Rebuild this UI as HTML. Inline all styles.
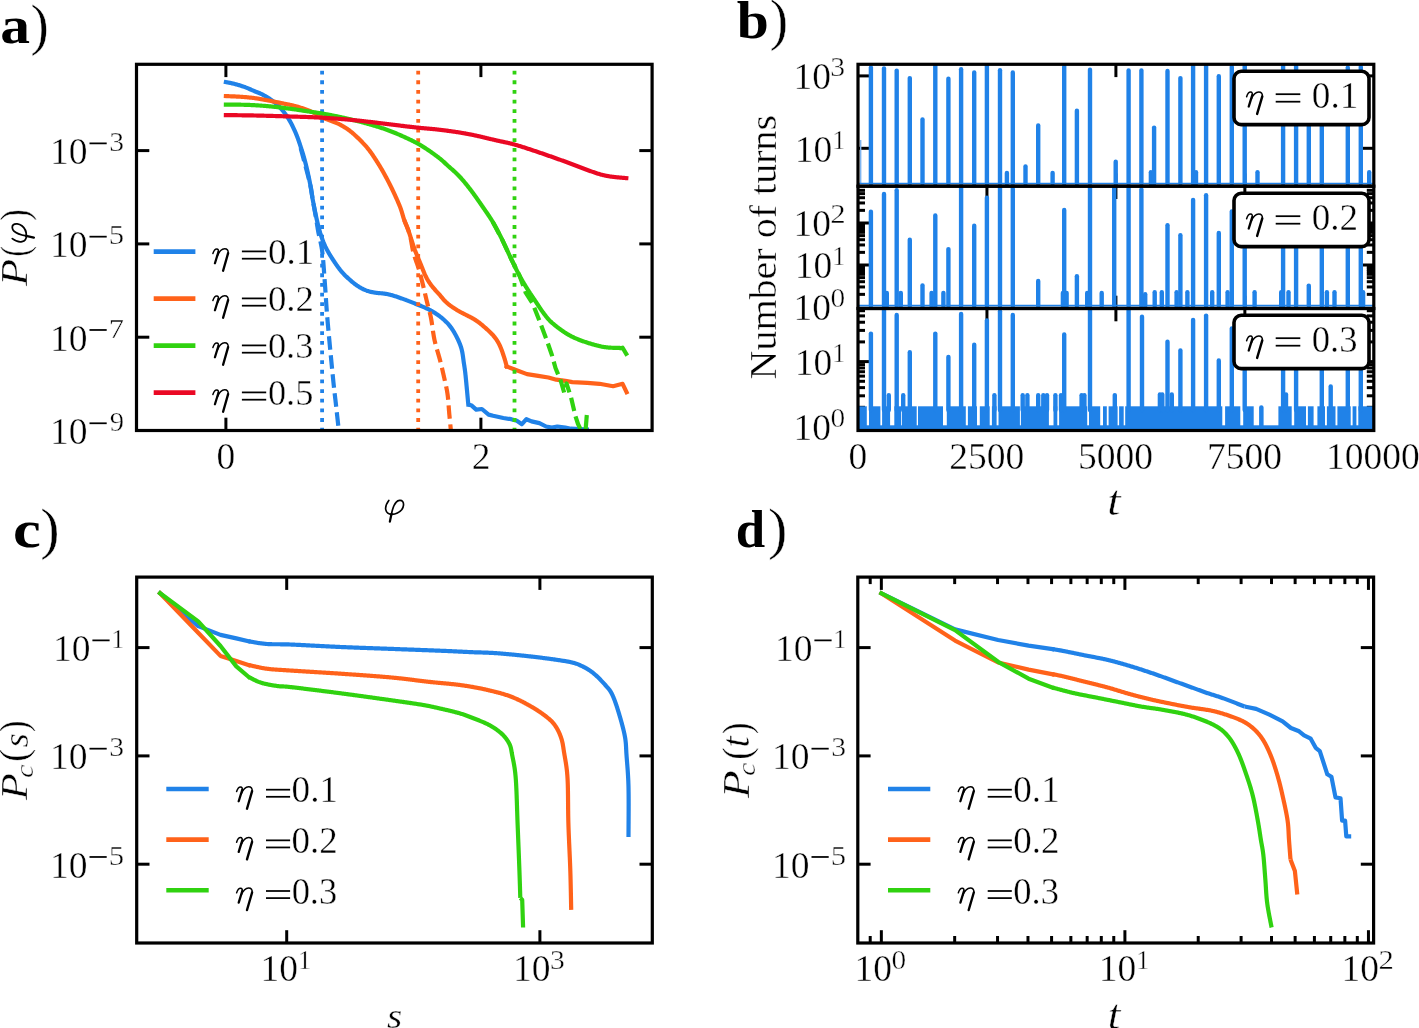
<!DOCTYPE html>
<html><head><meta charset="utf-8"><style>
html,body{margin:0;padding:0;background:#fff;width:1419px;height:1028px;overflow:hidden;}
svg{display:block;font-family:"Liberation Serif",serif;will-change:transform;}
text:not([font-weight]){stroke:#fff;stroke-width:0.4px;}
</style></head><body>
<svg width="1419" height="1028" viewBox="0 0 1419 1028">
<rect width="1419" height="1028" fill="#fff"/>
<path d="M225.90,82.10 L226.59,82.23 L227.28,82.36 L227.97,82.49 L228.66,82.63 L229.35,82.76 L230.04,82.90 L230.72,83.04 L231.41,83.18 L232.10,83.34 L232.78,83.49 L233.46,83.66 L234.14,83.82 L234.82,84.00 L235.50,84.18 L236.18,84.36 L236.86,84.55 L237.53,84.74 L238.21,84.93 L238.88,85.12 L239.55,85.32 L240.23,85.53 L240.90,85.73 L241.57,85.95 L242.23,86.16 L242.90,86.39 L243.56,86.61 L244.22,86.85 L244.88,87.09 L245.54,87.34 L246.19,87.59 L246.84,87.85 L247.49,88.12 L248.14,88.40 L248.78,88.67 L249.43,88.95 L250.07,89.24 L250.71,89.52 L251.35,89.81 L251.99,90.09 L252.64,90.38 L253.28,90.66 L253.92,90.94 L254.57,91.21 L255.22,91.48 L255.87,91.73 L256.53,91.98 L257.19,92.22 L257.84,92.46 L258.50,92.71 L259.15,92.97 L259.79,93.25 L260.43,93.54 L261.06,93.85 L261.69,94.16 L262.31,94.48 L262.94,94.81 L263.55,95.14 L264.17,95.48 L264.78,95.82 L265.39,96.17 L266.00,96.52 L266.60,96.88 L267.20,97.25 L267.80,97.62 L268.39,97.99 L268.98,98.37 L269.56,98.76 L270.15,99.15 L270.73,99.54 L271.30,99.94 L271.88,100.35 L272.45,100.76 L273.01,101.18 L273.57,101.60 L274.13,102.03 L274.67,102.47 L275.22,102.91 L275.75,103.37 L276.28,103.83 L276.80,104.30 L277.31,104.78 L277.82,105.26 L278.32,105.76 L278.81,106.26 L279.30,106.76 L279.78,107.27 L280.26,107.79 L280.73,108.31 L281.19,108.83 L281.66,109.36 L282.11,109.89 L282.56,110.43 L283.01,110.98 L283.44,111.52 L283.87,112.08 L284.30,112.64 L284.71,113.20 L285.13,113.77 L285.54,114.34 L285.94,114.91 L286.34,115.49 L286.74,116.07 L287.13,116.65 L287.52,117.23 L287.91,117.82 L288.29,118.41 L288.66,119.00 L289.03,119.60 L289.39,120.20 L289.75,120.81 L290.10,121.41 L290.45,122.02 L290.79,122.64 L291.12,123.26 L291.44,123.88 L291.76,124.50 L292.08,125.13 L292.38,125.76 L292.69,126.39 L292.99,127.03 L293.29,127.66 L293.59,128.30 L293.88,128.94 L294.18,129.57 L294.47,130.21 L294.76,130.85 L295.05,131.49 L295.33,132.13 L295.61,132.78 L295.89,133.42 L296.16,134.07 L296.43,134.72 L296.69,135.37 L296.95,136.02 L297.20,136.67 L297.45,137.33 L297.69,137.99 L297.93,138.65 L298.17,139.31 L298.40,139.97 L298.63,140.64 L298.86,141.30 L299.09,141.96 L299.31,142.63 L299.54,143.29 L299.76,143.96 L299.98,144.63 L300.20,145.29 L300.41,145.96 L300.63,146.63 L300.85,147.30 L301.06,147.97 L301.28,148.63 L301.49,149.30 L301.70,149.97 L301.92,150.64 L302.13,151.31 L302.34,151.98 L302.55,152.65 L302.76,153.32 L302.97,153.99 L303.17,154.66 L303.37,155.33 L303.57,156.01 L303.76,156.68 L303.95,157.36 L304.14,158.03 L304.33,158.71 L304.52,159.39 L304.70,160.06 L304.88,160.74 L305.06,161.42 L305.24,162.10 L305.41,162.78 L305.58,163.46 L305.76,164.14 L305.93,164.82 L306.10,165.50 L306.26,166.19 L306.43,166.87 L306.59,167.55 L306.76,168.23 L306.92,168.92 L307.08,169.60 L307.24,170.28 L307.39,170.97 L307.55,171.65 L307.71,172.34 L307.86,173.02 L308.01,173.71 L308.16,174.39 L308.31,175.08 L308.46,175.76 L308.61,176.45 L308.76,177.14 L308.90,177.82 L309.05,178.51 L309.19,179.20 L309.33,179.88 L309.47,180.57 L309.61,181.26 L309.75,181.95 L309.88,182.64 L310.02,183.33 L310.15,184.02 L310.28,184.71 L310.40,185.40 L310.53,186.09 L310.65,186.78 L310.76,187.47 L310.88,188.16 L310.99,188.86 L311.10,189.55 L311.21,190.24 L311.31,190.94 L311.42,191.63 L311.53,192.32 L311.63,193.02 L311.74,193.71 L311.85,194.41 L311.96,195.10 L312.07,195.79 L312.19,196.48 L312.30,197.18 L312.42,197.87 L312.54,198.56 L312.67,199.25 L312.79,199.94 L312.92,200.63 L313.05,201.32 L313.18,202.01 L313.31,202.70 L313.44,203.39 L313.58,204.08 L313.71,204.77 L313.84,205.46 L313.98,206.15 L314.11,206.84 L314.25,207.53 L314.38,208.21 L314.52,208.90 L314.66,209.59 L314.80,210.28 L314.94,210.97 L315.08,211.65 L315.22,212.34 L315.36,213.03 L315.50,213.72 L315.65,214.40 L315.79,215.09 L315.94,215.78 L316.09,216.46 L316.24,217.15 L316.39,217.83 L316.54,218.52 L316.69,219.20 L316.85,219.89 L317.00,220.57 L317.16,221.26 L317.32,221.94 L317.48,222.62 L317.64,223.31 L317.81,223.99 L317.97,224.67 L318.14,225.35 L318.31,226.03 L318.48,226.72 L318.66,227.40 L318.84,228.07 L319.02,228.75 L319.20,229.43 L319.39,230.11 L319.58,230.78 L319.78,231.46 L319.98,232.13 L320.18,232.80 L320.38,233.47 L320.60,234.14 L320.81,234.81 L321.03,235.48 L321.25,236.14 L321.47,236.81 L321.70,237.47 L321.93,238.13 L322.17,238.80 L322.41,239.46 L322.65,240.11 L322.90,240.77 L323.16,241.42 L323.41,242.08 L323.68,242.73 L323.95,243.37 L324.22,244.02 L324.50,244.66 L324.79,245.31 L325.08,245.94 L325.37,246.58 L325.68,247.21 L325.99,247.84 L326.30,248.47 L326.62,249.10 L326.95,249.72 L327.28,250.34 L327.62,250.95 L327.96,251.56 L328.31,252.17 L328.66,252.78 L329.01,253.39 L329.37,253.99 L329.74,254.59 L330.10,255.19 L330.47,255.79 L330.84,256.38 L331.22,256.98 L331.59,257.57 L331.97,258.16 L332.35,258.75 L332.73,259.34 L333.11,259.93 L333.50,260.52 L333.88,261.10 L334.27,261.69 L334.66,262.27 L335.05,262.85 L335.45,263.44 L335.84,264.01 L336.24,264.59 L336.64,265.17 L337.05,265.74 L337.45,266.31 L337.86,266.88 L338.28,267.45 L338.70,268.01 L339.12,268.57 L339.55,269.13 L339.98,269.68 L340.42,270.23 L340.86,270.78 L341.31,271.32 L341.76,271.85 L342.23,272.38 L342.69,272.90 L343.17,273.42 L343.65,273.93 L344.14,274.43 L344.63,274.93 L345.12,275.43 L345.63,275.92 L346.13,276.41 L346.64,276.89 L347.15,277.37 L347.67,277.85 L348.19,278.32 L348.71,278.79 L349.23,279.26 L349.75,279.73 L350.28,280.19 L350.81,280.65 L351.34,281.11 L351.87,281.57 L352.41,282.02 L352.95,282.46 L353.50,282.91 L354.05,283.34 L354.60,283.78 L355.16,284.20 L355.72,284.62 L356.29,285.03 L356.86,285.44 L357.44,285.83 L358.03,286.22 L358.62,286.60 L359.21,286.97 L359.81,287.34 L360.42,287.69 L361.03,288.03 L361.65,288.37 L362.27,288.69 L362.90,289.01 L363.53,289.31 L364.17,289.60 L364.81,289.88 L365.46,290.16 L366.11,290.41 L366.76,290.66 L367.43,290.89 L368.09,291.11 L368.76,291.32 L369.44,291.51 L370.12,291.69 L370.80,291.85 L371.48,292.01 L372.17,292.16 L372.85,292.30 L373.54,292.43 L374.23,292.55 L374.93,292.66 L375.62,292.76 L376.32,292.85 L377.01,292.93 L377.71,293.00 L378.41,293.06 L379.11,293.11 L379.81,293.17 L380.51,293.22 L381.21,293.28 L381.91,293.35 L382.61,293.42 L383.30,293.51 L384.00,293.60 L384.69,293.70 L385.39,293.81 L386.08,293.92 L386.77,294.04 L387.46,294.17 L388.15,294.30 L388.84,294.45 L389.52,294.61 L390.20,294.77 L390.88,294.94 L391.56,295.12 L392.24,295.31 L392.91,295.51 L393.58,295.71 L394.25,295.92 L394.92,296.13 L395.59,296.35 L396.26,296.57 L396.92,296.79 L397.59,297.01 L398.25,297.24 L398.91,297.47 L399.58,297.70 L400.24,297.93 L400.90,298.17 L401.56,298.40 L402.22,298.64 L402.88,298.88 L403.54,299.12 L404.20,299.36 L404.86,299.60 L405.52,299.84 L406.18,300.09 L406.83,300.34 L407.49,300.58 L408.15,300.84 L408.80,301.09 L409.46,301.34 L410.11,301.60 L410.76,301.85 L411.42,302.11 L412.07,302.37 L412.72,302.63 L413.37,302.89 L414.02,303.16 L414.67,303.42 L415.32,303.69 L415.97,303.95 L416.62,304.22 L417.27,304.49 L417.92,304.75 L418.57,305.02 L419.22,305.28 L419.87,305.55 L420.52,305.81 L421.17,306.07 L421.82,306.34 L422.47,306.60 L423.12,306.87 L423.77,307.14 L424.42,307.41 L425.06,307.69 L425.70,307.98 L426.34,308.26 L426.98,308.56 L427.61,308.86 L428.24,309.17 L428.87,309.48 L429.49,309.81 L430.11,310.14 L430.73,310.47 L431.34,310.82 L431.95,311.16 L432.56,311.52 L433.16,311.88 L433.76,312.24 L434.36,312.61 L434.95,312.98 L435.54,313.36 L436.13,313.75 L436.71,314.14 L437.29,314.54 L437.87,314.94 L438.44,315.34 L439.00,315.76 L439.57,316.18 L440.13,316.60 L440.68,317.03 L441.23,317.47 L441.77,317.91 L442.31,318.36 L442.85,318.81 L443.38,319.27 L443.91,319.74 L444.43,320.21 L444.94,320.69 L445.45,321.17 L445.95,321.66 L446.45,322.15 L446.94,322.66 L447.42,323.17 L447.89,323.68 L448.36,324.21 L448.82,324.73 L449.28,325.27 L449.72,325.81 L450.16,326.36 L450.59,326.92 L451.00,327.48 L451.41,328.05 L451.82,328.63 L452.21,329.21 L452.59,329.79 L452.97,330.38 L453.34,330.98 L453.71,331.58 L454.07,332.18 L454.42,332.79 L454.76,333.40 L455.11,334.01 L455.44,334.63 L455.77,335.25 L456.10,335.87 L456.43,336.49 L456.74,337.12 L457.06,337.74 L457.37,338.37 L457.68,339.00 L457.98,339.64 L458.28,340.27 L458.58,340.91 L458.86,341.55 L459.15,342.19 L459.42,342.84 L459.68,343.49 L459.94,344.14 L460.19,344.80 L460.43,345.45 L460.66,346.12 L460.88,346.78 L461.10,347.45 L461.30,348.12 L461.49,348.80 L461.67,349.48 L461.84,350.16 L461.99,350.84 L462.14,351.53 L462.28,352.22 L462.40,352.91 L462.53,353.60 L462.64,354.29 L462.75,354.98 L462.85,355.68 L462.95,356.37 L463.05,357.07 L463.14,357.76 L463.23,358.46 L463.33,359.16 L463.42,359.85 L463.52,360.55 L463.61,361.24 L463.71,361.94 L463.81,362.63 L463.92,363.33 L464.02,364.02 L464.13,364.71 L464.24,365.41 L464.35,366.10 L464.45,366.79 L464.56,367.49 L464.66,368.18 L464.76,368.88 L464.85,369.57 L464.94,370.27 L465.03,370.97 L465.12,371.66 L465.20,372.36 L465.28,373.06 L465.36,373.75 L465.44,374.45 L465.51,375.15 L465.59,375.85 L465.66,376.55 L465.73,377.24 L465.80,377.94 L465.87,378.64 L465.94,379.34 L466.01,380.04 L466.08,380.74 L466.15,381.44 L466.21,382.13 L466.28,382.83 L466.35,383.53 L466.41,384.23 L466.48,384.93 L466.55,385.63 L466.61,386.33 L466.68,387.03 L466.74,387.72 L466.81,388.42 L466.88,389.12 L466.94,389.82 L467.01,390.52 L467.07,391.22 L467.14,391.92 L467.20,392.62 L467.26,393.32 L467.33,394.02 L467.39,394.71 L467.46,395.41 L467.52,396.11 L467.59,396.81 L467.65,397.51 L467.72,398.21 L467.78,398.91 L467.85,399.61 L467.91,400.31 L467.97,401.01 L468.04,401.70 L468.10,402.40 L468.17,403.10 L468.23,403.80 L468.30,404.50" fill="none" stroke="#2082e8" stroke-width="4.20" stroke-linejoin="round" stroke-linecap="square"/>
<polyline points="468.3,404.5 471.7,405.6 476.2,409.6 481.9,409.0 488.6,414.6 493.1,415.8 503.3,418.0 511.2,419.2 516.8,420.8 521.9,424.2 526.4,419.2 531.5,421.4 539.4,423.1 546.1,426.5 551.8,427.6 557.4,426.5 565.3,427.6 570.9,428.7 589.0,429.5" fill="none" stroke="#2082e8" stroke-width="4.20" stroke-linejoin="round" stroke-linecap="butt"/>
<path d="M300.60,147.90 L300.78,148.58 L300.97,149.26 L301.15,149.93 L301.34,150.61 L301.52,151.29 L301.70,151.96 L301.89,152.64 L302.07,153.32 L302.26,154.00 L302.44,154.67 L302.63,155.35 L302.81,156.03 L302.99,156.71 L303.18,157.38 L303.36,158.06 L303.54,158.74 L303.72,159.42 L303.91,160.10 L304.09,160.77 L304.27,161.45 L304.45,162.13 L304.63,162.81 L304.81,163.49 L304.99,164.17 L305.17,164.84 L305.35,165.52 L305.53,166.20 L305.70,166.88 L305.88,167.56 L306.06,168.24 L306.24,168.92 L306.42,169.60 L306.60,170.28 L306.78,170.96 L306.95,171.63 L307.13,172.31 L307.31,172.99 L307.49,173.67 L307.67,174.35 L307.84,175.03 L308.02,175.71 L308.19,176.39 L308.37,177.07 L308.54,177.75 L308.72,178.43 L308.89,179.11 L309.06,179.79 L309.23,180.47 L309.39,181.16 L309.56,181.84 L309.72,182.52 L309.88,183.20 L310.04,183.89 L310.20,184.57 L310.35,185.26 L310.50,185.94 L310.64,186.63 L310.78,187.32 L310.92,188.01 L311.05,188.70 L311.17,189.39 L311.29,190.08 L311.40,190.77 L311.52,191.46 L311.62,192.16 L311.73,192.85 L311.83,193.55 L311.93,194.24 L312.03,194.94 L312.13,195.63 L312.23,196.33 L312.33,197.02 L312.44,197.72 L312.55,198.41 L312.66,199.10 L312.77,199.79 L312.89,200.49 L313.01,201.18 L313.13,201.87 L313.25,202.56 L313.37,203.25 L313.49,203.94 L313.62,204.64 L313.74,205.33 L313.86,206.02 L313.99,206.71 L314.11,207.40 L314.24,208.09 L314.36,208.78 L314.48,209.47 L314.61,210.16 L314.73,210.85 L314.86,211.55 L314.98,212.24 L315.10,212.93 L315.23,213.62 L315.35,214.31 L315.47,215.00 L315.60,215.69 L315.72,216.38 L315.84,217.08 L315.96,217.77 L316.07,218.46 L316.19,219.15 L316.31,219.84 L316.42,220.54 L316.53,221.23 L316.64,221.92 L316.75,222.62 L316.86,223.31 L316.97,224.00 L317.07,224.70 L317.18,225.39 L317.29,226.08 L317.40,226.78 L317.52,227.47 L317.63,228.16 L317.75,228.86 L317.87,229.55 L317.99,230.24 L318.11,230.93 L318.24,231.62 L318.37,232.31 L318.51,233.00 L318.65,233.69 L318.79,234.37 L318.94,235.06 L319.10,235.74 L319.25,236.43 L319.41,237.11 L319.57,237.80 L319.73,238.48 L319.89,239.16 L320.05,239.85 L320.20,240.53 L320.36,241.22 L320.51,241.90 L320.66,242.59 L320.81,243.27 L320.95,243.96 L321.09,244.65 L321.22,245.34 L321.35,246.03 L321.48,246.72 L321.60,247.41 L321.72,248.10 L321.83,248.79 L321.94,249.49 L322.04,250.18 L322.14,250.88 L322.23,251.57 L322.32,252.27 L322.41,252.97 L322.49,253.66 L322.57,254.36 L322.65,255.06 L322.72,255.76 L322.79,256.45 L322.86,257.15 L322.93,257.85 L323.00,258.55 L323.06,259.25 L323.13,259.95 L323.19,260.65 L323.25,261.35 L323.31,262.05 L323.37,262.75 L323.42,263.45 L323.48,264.15 L323.53,264.85 L323.59,265.55 L323.64,266.25 L323.70,266.95 L323.75,267.65 L323.80,268.35 L323.85,269.05 L323.90,269.75 L323.95,270.45 L324.00,271.15 L324.05,271.85 L324.10,272.55 L324.15,273.25 L324.20,273.95 L324.25,274.65 L324.30,275.35 L324.35,276.05 L324.40,276.75 L324.45,277.45 L324.50,278.15 L324.55,278.85 L324.60,279.55 L324.65,280.25 L324.70,280.95 L324.75,281.65 L324.80,282.35 L324.85,283.05 L324.91,283.75 L324.96,284.45 L325.01,285.15 L325.06,285.85 L325.11,286.55 L325.17,287.25 L325.22,287.95 L325.27,288.65 L325.32,289.35 L325.36,290.05 L325.41,290.75 L325.46,291.45 L325.51,292.15 L325.55,292.85 L325.60,293.55 L325.64,294.25 L325.69,294.95 L325.74,295.66 L325.78,296.36 L325.83,297.06 L325.87,297.76 L325.92,298.46 L325.96,299.16 L326.01,299.86 L326.05,300.56 L326.10,301.26 L326.14,301.96 L326.19,302.66 L326.24,303.36 L326.28,304.06 L326.33,304.76 L326.38,305.46 L326.43,306.16 L326.48,306.86 L326.52,307.56 L326.58,308.26 L326.63,308.96 L326.68,309.66 L326.73,310.36 L326.78,311.06 L326.83,311.76 L326.89,312.46 L326.94,313.16 L327.00,313.86 L327.05,314.56 L327.11,315.26 L327.16,315.96 L327.22,316.66 L327.28,317.36 L327.34,318.06 L327.40,318.76 L327.46,319.46 L327.52,320.16 L327.58,320.86 L327.64,321.56 L327.70,322.26 L327.76,322.96 L327.82,323.66 L327.88,324.36 L327.95,325.06 L328.01,325.76 L328.07,326.45 L328.13,327.15 L328.20,327.85 L328.26,328.55 L328.32,329.25 L328.39,329.95 L328.45,330.65 L328.52,331.35 L328.58,332.05 L328.64,332.75 L328.71,333.45 L328.77,334.14 L328.84,334.84 L328.90,335.54 L328.97,336.24 L329.03,336.94 L329.10,337.64 L329.16,338.34 L329.23,339.04 L329.29,339.74 L329.36,340.44 L329.43,341.13 L329.49,341.83 L329.56,342.53 L329.62,343.23 L329.69,343.93 L329.76,344.63 L329.82,345.33 L329.89,346.03 L329.95,346.73 L330.02,347.42 L330.09,348.12 L330.15,348.82 L330.22,349.52 L330.29,350.22 L330.35,350.92 L330.42,351.62 L330.49,352.32 L330.56,353.02 L330.62,353.71 L330.69,354.41 L330.76,355.11 L330.83,355.81 L330.89,356.51 L330.96,357.21 L331.03,357.91 L331.10,358.61 L331.16,359.30 L331.23,360.00 L331.30,360.70 L331.37,361.40 L331.43,362.10 L331.50,362.80 L331.57,363.50 L331.64,364.20 L331.71,364.89 L331.78,365.59 L331.84,366.29 L331.91,366.99 L331.98,367.69 L332.05,368.39 L332.12,369.09 L332.19,369.78 L332.25,370.48 L332.32,371.18 L332.39,371.88 L332.46,372.58 L332.53,373.28 L332.60,373.98 L332.67,374.67 L332.74,375.37 L332.81,376.07 L332.88,376.77 L332.95,377.47 L333.02,378.17 L333.09,378.87 L333.16,379.56 L333.23,380.26 L333.30,380.96 L333.37,381.66 L333.44,382.36 L333.52,383.06 L333.59,383.75 L333.66,384.45 L333.74,385.15 L333.81,385.85 L333.89,386.55 L333.96,387.24 L334.04,387.94 L334.12,388.64 L334.19,389.34 L334.27,390.04 L334.35,390.73 L334.43,391.43 L334.51,392.13 L334.59,392.83 L334.67,393.52 L334.75,394.22 L334.83,394.92 L334.91,395.62 L335.00,396.31 L335.08,397.01 L335.16,397.71 L335.24,398.40 L335.32,399.10 L335.41,399.80 L335.49,400.50 L335.57,401.19 L335.65,401.89 L335.73,402.59 L335.81,403.29 L335.89,403.98 L335.96,404.68 L336.04,405.38 L336.12,406.08 L336.20,406.77 L336.27,407.47 L336.35,408.17 L336.43,408.87 L336.50,409.57 L336.58,410.26 L336.66,410.96 L336.73,411.66 L336.81,412.36 L336.89,413.05 L336.96,413.75 L337.04,414.45 L337.12,415.15 L337.19,415.85 L337.27,416.54 L337.35,417.24 L337.42,417.94 L337.50,418.64 L337.58,419.33 L337.65,420.03 L337.73,420.73 L337.81,421.43 L337.88,422.13 L337.96,422.82 L338.04,423.52 L338.11,424.22 L338.19,424.92 L338.26,425.62 L338.34,426.31 L338.42,427.01 L338.49,427.71 L338.57,428.41 L338.65,429.10 L338.72,429.80 L338.80,430.50" fill="none" stroke="#2082e8" stroke-width="4.20" stroke-linejoin="round" stroke-linecap="butt" stroke-dasharray="13.5 5.6"/>
<line x1="322.10" y1="70.70" x2="322.10" y2="430.50" stroke="#2082e8" stroke-width="3.80" stroke-linecap="butt" stroke-dasharray="3.8 5.85"/>
<path d="M225.90,96.10 L226.60,96.13 L227.30,96.16 L228.00,96.18 L228.71,96.21 L229.41,96.24 L230.11,96.26 L230.81,96.29 L231.51,96.32 L232.21,96.35 L232.91,96.38 L233.61,96.41 L234.32,96.44 L235.02,96.47 L235.72,96.50 L236.42,96.53 L237.12,96.57 L237.82,96.61 L238.52,96.64 L239.22,96.68 L239.92,96.73 L240.62,96.77 L241.32,96.82 L242.02,96.87 L242.72,96.92 L243.42,96.98 L244.12,97.03 L244.82,97.09 L245.52,97.15 L246.22,97.21 L246.92,97.27 L247.62,97.34 L248.32,97.40 L249.02,97.47 L249.71,97.54 L250.41,97.62 L251.11,97.70 L251.81,97.78 L252.50,97.86 L253.20,97.94 L253.90,98.03 L254.59,98.13 L255.29,98.22 L255.98,98.32 L256.68,98.42 L257.37,98.53 L258.06,98.64 L258.76,98.75 L259.45,98.87 L260.14,98.99 L260.83,99.11 L261.52,99.23 L262.21,99.36 L262.90,99.49 L263.59,99.62 L264.28,99.75 L264.97,99.88 L265.66,100.01 L266.35,100.14 L267.04,100.27 L267.73,100.40 L268.42,100.53 L269.11,100.66 L269.80,100.79 L270.49,100.93 L271.18,101.06 L271.87,101.19 L272.56,101.32 L273.25,101.45 L273.94,101.59 L274.62,101.72 L275.31,101.85 L276.00,101.99 L276.69,102.13 L277.38,102.26 L278.07,102.40 L278.76,102.54 L279.44,102.68 L280.13,102.82 L280.82,102.96 L281.51,103.10 L282.19,103.25 L282.88,103.39 L283.57,103.53 L284.25,103.68 L284.94,103.82 L285.63,103.96 L286.32,104.10 L287.00,104.25 L287.69,104.39 L288.38,104.53 L289.06,104.67 L289.75,104.82 L290.44,104.97 L291.12,105.11 L291.81,105.27 L292.49,105.42 L293.18,105.58 L293.86,105.75 L294.54,105.92 L295.22,106.09 L295.90,106.27 L296.58,106.45 L297.25,106.64 L297.92,106.84 L298.60,107.04 L299.27,107.24 L299.94,107.45 L300.61,107.66 L301.28,107.88 L301.94,108.10 L302.61,108.32 L303.27,108.55 L303.93,108.78 L304.60,109.01 L305.26,109.25 L305.92,109.49 L306.57,109.74 L307.23,109.99 L307.89,110.24 L308.54,110.49 L309.19,110.75 L309.84,111.02 L310.49,111.29 L311.13,111.56 L311.78,111.85 L312.41,112.14 L313.05,112.44 L313.68,112.74 L314.31,113.06 L314.93,113.38 L315.55,113.71 L316.16,114.05 L316.78,114.39 L317.39,114.73 L318.01,115.07 L318.62,115.41 L319.23,115.75 L319.85,116.08 L320.47,116.41 L321.09,116.74 L321.72,117.05 L322.35,117.36 L322.99,117.65 L323.63,117.94 L324.27,118.22 L324.91,118.50 L325.56,118.77 L326.21,119.04 L326.86,119.30 L327.51,119.56 L328.17,119.81 L328.82,120.07 L329.48,120.32 L330.13,120.57 L330.79,120.83 L331.44,121.08 L332.10,121.33 L332.75,121.59 L333.40,121.84 L334.06,122.10 L334.71,122.35 L335.37,122.60 L336.02,122.85 L336.68,123.11 L337.33,123.37 L337.97,123.64 L338.61,123.93 L339.24,124.24 L339.87,124.56 L340.49,124.89 L341.10,125.22 L341.71,125.57 L342.32,125.91 L342.93,126.26 L343.53,126.62 L344.14,126.98 L344.74,127.35 L345.33,127.72 L345.92,128.10 L346.51,128.48 L347.10,128.87 L347.68,129.26 L348.25,129.66 L348.82,130.07 L349.38,130.49 L349.94,130.91 L350.50,131.34 L351.05,131.78 L351.59,132.23 L352.13,132.67 L352.67,133.13 L353.20,133.58 L353.73,134.05 L354.25,134.51 L354.77,134.98 L355.29,135.46 L355.80,135.93 L356.32,136.41 L356.83,136.90 L357.33,137.38 L357.84,137.87 L358.34,138.36 L358.84,138.85 L359.34,139.35 L359.84,139.84 L360.33,140.34 L360.83,140.84 L361.32,141.34 L361.81,141.84 L362.30,142.34 L362.79,142.85 L363.27,143.35 L363.75,143.86 L364.23,144.38 L364.71,144.89 L365.18,145.41 L365.65,145.94 L366.11,146.46 L366.57,146.99 L367.02,147.53 L367.47,148.07 L367.92,148.61 L368.36,149.15 L368.79,149.71 L369.23,150.26 L369.65,150.82 L370.07,151.38 L370.49,151.94 L370.90,152.51 L371.31,153.08 L371.71,153.66 L372.11,154.23 L372.51,154.81 L372.91,155.39 L373.30,155.97 L373.69,156.55 L374.08,157.14 L374.47,157.73 L374.85,158.31 L375.23,158.90 L375.61,159.49 L375.99,160.08 L376.37,160.67 L376.75,161.27 L377.12,161.86 L377.49,162.45 L377.87,163.05 L378.24,163.64 L378.61,164.24 L378.98,164.84 L379.35,165.43 L379.71,166.03 L380.07,166.63 L380.44,167.24 L380.80,167.84 L381.15,168.44 L381.51,169.05 L381.86,169.66 L382.21,170.26 L382.56,170.87 L382.91,171.48 L383.25,172.09 L383.59,172.71 L383.93,173.32 L384.27,173.93 L384.61,174.55 L384.95,175.16 L385.29,175.78 L385.62,176.40 L385.95,177.02 L386.29,177.63 L386.62,178.25 L386.95,178.87 L387.28,179.49 L387.60,180.11 L387.93,180.73 L388.25,181.36 L388.58,181.98 L388.90,182.60 L389.22,183.23 L389.54,183.85 L389.85,184.48 L390.17,185.11 L390.48,185.74 L390.79,186.37 L391.10,187.00 L391.41,187.63 L391.72,188.26 L392.02,188.89 L392.32,189.52 L392.63,190.16 L392.93,190.79 L393.23,191.42 L393.53,192.06 L393.82,192.70 L394.12,193.33 L394.41,193.97 L394.71,194.61 L395.00,195.24 L395.30,195.88 L395.59,196.52 L395.88,197.16 L396.17,197.80 L396.46,198.44 L396.75,199.08 L397.03,199.72 L397.32,200.36 L397.60,201.00 L397.88,201.65 L398.16,202.29 L398.43,202.94 L398.71,203.58 L398.98,204.23 L399.25,204.88 L399.51,205.53 L399.77,206.18 L400.03,206.83 L400.28,207.49 L400.52,208.15 L400.76,208.81 L400.99,209.47 L401.21,210.13 L401.43,210.80 L401.64,211.47 L401.85,212.14 L402.05,212.81 L402.24,213.49 L402.44,214.16 L402.63,214.84 L402.83,215.51 L403.02,216.19 L403.22,216.86 L403.42,217.53 L403.63,218.20 L403.84,218.87 L404.06,219.54 L404.29,220.20 L404.53,220.86 L404.78,221.51 L405.03,222.17 L405.29,222.82 L405.56,223.47 L405.83,224.12 L406.10,224.77 L406.37,225.41 L406.64,226.06 L406.92,226.71 L407.19,227.35 L407.45,228.00 L407.71,228.66 L407.96,229.31 L408.21,229.97 L408.45,230.63 L408.68,231.29 L408.91,231.95 L409.13,232.62 L409.35,233.29 L409.57,233.95 L409.79,234.62 L410.00,235.29 L410.21,235.96 L410.42,236.63 L410.63,237.30 L410.85,237.97 L411.06,238.63 L411.28,239.30 L411.49,239.97 L411.70,240.64 L411.92,241.31 L412.13,241.98 L412.34,242.64 L412.56,243.31 L412.77,243.98 L412.99,244.65 L413.20,245.32 L413.42,245.98 L413.65,246.65 L413.88,247.31 L414.11,247.97 L414.35,248.63 L414.60,249.29 L414.84,249.95 L415.10,250.60 L415.35,251.26 L415.61,251.91 L415.87,252.56 L416.14,253.21 L416.40,253.86 L416.67,254.51 L416.94,255.16 L417.21,255.81 L417.48,256.45 L417.75,257.10 L418.02,257.75 L418.29,258.40 L418.56,259.04 L418.83,259.69 L419.10,260.34 L419.38,260.98 L419.65,261.63 L419.92,262.28 L420.18,262.93 L420.45,263.58 L420.71,264.23 L420.98,264.88 L421.24,265.53 L421.50,266.18 L421.75,266.84 L422.01,267.49 L422.27,268.14 L422.53,268.80 L422.78,269.45 L423.04,270.10 L423.31,270.75 L423.57,271.40 L423.84,272.05 L424.11,272.70 L424.38,273.35 L424.66,273.99 L424.94,274.63 L425.24,275.27 L425.54,275.90 L425.84,276.53 L426.16,277.16 L426.48,277.78 L426.81,278.40 L427.15,279.02 L427.50,279.62 L427.86,280.23 L428.22,280.83 L428.60,281.42 L428.98,282.01 L429.37,282.59 L429.77,283.17 L430.17,283.74 L430.58,284.31 L431.00,284.88 L431.42,285.44 L431.85,285.99 L432.28,286.54 L432.72,287.09 L433.17,287.63 L433.62,288.17 L434.08,288.70 L434.54,289.23 L435.01,289.75 L435.48,290.28 L435.95,290.80 L436.42,291.32 L436.89,291.83 L437.37,292.35 L437.84,292.87 L438.31,293.39 L438.78,293.91 L439.25,294.44 L439.71,294.96 L440.17,295.49 L440.63,296.03 L441.08,296.56 L441.53,297.10 L441.98,297.64 L442.43,298.18 L442.88,298.72 L443.34,299.25 L443.80,299.77 L444.27,300.29 L444.75,300.80 L445.24,301.31 L445.74,301.80 L446.26,302.28 L446.78,302.75 L447.30,303.21 L447.84,303.66 L448.38,304.11 L448.93,304.54 L449.49,304.97 L450.04,305.40 L450.61,305.82 L451.18,306.23 L451.75,306.63 L452.32,307.04 L452.90,307.43 L453.49,307.82 L454.07,308.21 L454.66,308.59 L455.25,308.97 L455.84,309.35 L456.44,309.72 L457.04,310.08 L457.64,310.45 L458.24,310.80 L458.85,311.16 L459.46,311.50 L460.07,311.85 L460.69,312.18 L461.31,312.51 L461.93,312.84 L462.55,313.16 L463.17,313.48 L463.80,313.80 L464.43,314.12 L465.05,314.43 L465.68,314.75 L466.31,315.06 L466.94,315.38 L467.56,315.69 L468.19,316.01 L468.82,316.33 L469.44,316.65 L470.06,316.97 L470.68,317.30 L471.30,317.63 L471.92,317.96 L472.53,318.30 L473.14,318.65 L473.75,319.00 L474.35,319.37 L474.95,319.73 L475.54,320.11 L476.12,320.50 L476.70,320.89 L477.28,321.29 L477.85,321.70 L478.42,322.12 L478.98,322.54 L479.54,322.96 L480.09,323.40 L480.64,323.83 L481.18,324.28 L481.72,324.73 L482.26,325.18 L482.79,325.63 L483.32,326.09 L483.85,326.55 L484.38,327.02 L484.91,327.48 L485.43,327.94 L485.96,328.41 L486.48,328.87 L487.01,329.34 L487.53,329.81 L488.05,330.28 L488.57,330.75 L489.09,331.23 L489.60,331.71 L490.11,332.19 L490.61,332.68 L491.11,333.18 L491.60,333.68 L492.08,334.19 L492.56,334.70 L493.02,335.22 L493.48,335.75 L493.93,336.29 L494.38,336.84 L494.81,337.39 L495.23,337.95 L495.65,338.51 L496.06,339.08 L496.46,339.66 L496.85,340.24 L497.22,340.83 L497.59,341.43 L497.95,342.03 L498.30,342.64 L498.64,343.25 L498.97,343.87 L499.29,344.50 L499.60,345.13 L499.90,345.76 L500.19,346.40 L500.47,347.04 L500.74,347.69 L501.01,348.34 L501.26,348.99 L501.52,349.65 L501.76,350.31 L502.00,350.96 L502.23,351.63 L502.47,352.29 L502.70,352.95 L502.92,353.62 L503.14,354.28 L503.37,354.95 L503.59,355.61 L503.80,356.28 L504.02,356.95 L504.24,357.62 L504.45,358.29 L504.66,358.96 L504.86,359.63 L505.07,360.30 L505.26,360.97 L505.45,361.65 L505.64,362.33 L505.82,363.00 L506.00,363.68 L506.17,364.36 L506.35,365.04 L506.52,365.72 L506.70,366.40" fill="none" stroke="#ff621a" stroke-width="4.20" stroke-linejoin="round" stroke-linecap="square"/>
<polyline points="506.7,366.4 514.6,369.5 527.0,374.1 538.2,375.8 548.4,377.5 556.3,379.7 565.3,380.8 572.3,382.1 587.2,382.8 599.5,383.8 613.1,386.2 622.6,383.8 626.6,392.2" fill="none" stroke="#ff621a" stroke-width="4.20" stroke-linejoin="round" stroke-linecap="square"/>
<path d="M404.20,220.00 L404.47,220.65 L404.74,221.30 L405.01,221.95 L405.28,222.60 L405.54,223.24 L405.81,223.89 L406.08,224.54 L406.35,225.19 L406.61,225.84 L406.87,226.49 L407.13,227.15 L407.39,227.80 L407.65,228.45 L407.90,229.11 L408.14,229.77 L408.38,230.43 L408.62,231.09 L408.85,231.75 L409.08,232.42 L409.30,233.08 L409.51,233.75 L409.70,234.43 L409.89,235.10 L410.07,235.78 L410.24,236.46 L410.40,237.15 L410.55,237.83 L410.70,238.52 L410.84,239.21 L410.97,239.90 L411.10,240.59 L411.23,241.28 L411.35,241.97 L411.47,242.66 L411.59,243.35 L411.71,244.04 L411.83,244.74 L411.95,245.43 L412.07,246.12 L412.19,246.81 L412.32,247.50 L412.45,248.19 L412.59,248.88 L412.73,249.57 L412.87,250.26 L413.02,250.94 L413.18,251.63 L413.35,252.31 L413.52,252.99 L413.70,253.67 L413.89,254.34 L414.09,255.01 L414.30,255.69 L414.51,256.36 L414.73,257.02 L414.95,257.69 L415.18,258.35 L415.41,259.02 L415.64,259.68 L415.87,260.34 L416.11,261.00 L416.35,261.66 L416.58,262.33 L416.82,262.99 L417.05,263.65 L417.28,264.31 L417.51,264.98 L417.73,265.64 L417.95,266.31 L418.17,266.98 L418.38,267.65 L418.58,268.32 L418.79,268.99 L418.98,269.67 L419.18,270.34 L419.37,271.02 L419.56,271.69 L419.75,272.37 L419.94,273.05 L420.12,273.72 L420.30,274.40 L420.48,275.08 L420.66,275.76 L420.84,276.44 L421.01,277.12 L421.19,277.80 L421.36,278.48 L421.53,279.16 L421.71,279.84 L421.88,280.52 L422.05,281.20 L422.22,281.88 L422.39,282.57 L422.56,283.25 L422.73,283.93 L422.89,284.61 L423.06,285.29 L423.23,285.98 L423.39,286.66 L423.55,287.34 L423.71,288.03 L423.88,288.71 L424.04,289.39 L424.20,290.08 L424.36,290.76 L424.52,291.44 L424.68,292.13 L424.84,292.81 L425.00,293.50 L425.16,294.18 L425.31,294.86 L425.47,295.55 L425.63,296.23 L425.79,296.92 L425.95,297.60 L426.11,298.28 L426.28,298.97 L426.44,299.65 L426.60,300.33 L426.77,301.02 L426.93,301.70 L427.10,302.38 L427.27,303.06 L427.44,303.74 L427.62,304.42 L427.79,305.10 L427.97,305.78 L428.16,306.46 L428.34,307.14 L428.52,307.81 L428.70,308.49 L428.89,309.17 L429.07,309.85 L429.25,310.53 L429.42,311.21 L429.60,311.89 L429.77,312.57 L429.94,313.25 L430.10,313.93 L430.26,314.62 L430.42,315.30 L430.57,315.99 L430.72,316.67 L430.86,317.36 L430.99,318.05 L431.13,318.74 L431.25,319.43 L431.37,320.12 L431.49,320.82 L431.60,321.51 L431.71,322.20 L431.82,322.90 L431.92,323.59 L432.03,324.29 L432.13,324.98 L432.23,325.68 L432.32,326.37 L432.42,327.07 L432.52,327.76 L432.61,328.46 L432.71,329.15 L432.81,329.85 L432.91,330.54 L433.01,331.24 L433.11,331.93 L433.21,332.63 L433.32,333.32 L433.43,334.02 L433.54,334.71 L433.65,335.40 L433.77,336.10 L433.89,336.79 L434.01,337.48 L434.14,338.17 L434.28,338.86 L434.42,339.55 L434.57,340.23 L434.72,340.92 L434.87,341.60 L435.04,342.29 L435.20,342.97 L435.37,343.65 L435.55,344.33 L435.72,345.01 L435.90,345.69 L436.09,346.37 L436.27,347.04 L436.46,347.72 L436.65,348.39 L436.85,349.07 L437.04,349.74 L437.24,350.42 L437.43,351.09 L437.63,351.77 L437.83,352.44 L438.03,353.11 L438.23,353.79 L438.43,354.46 L438.62,355.14 L438.82,355.81 L439.01,356.48 L439.21,357.16 L439.40,357.84 L439.58,358.51 L439.77,359.19 L439.95,359.87 L440.13,360.55 L440.31,361.23 L440.48,361.91 L440.66,362.59 L440.83,363.27 L441.00,363.95 L441.17,364.63 L441.33,365.31 L441.50,366.00 L441.66,366.68 L441.83,367.36 L441.99,368.05 L442.15,368.73 L442.31,369.41 L442.47,370.10 L442.63,370.78 L442.78,371.47 L442.94,372.15 L443.09,372.84 L443.25,373.52 L443.40,374.21 L443.55,374.89 L443.71,375.58 L443.86,376.26 L444.01,376.95 L444.17,377.63 L444.33,378.32 L444.48,379.00 L444.64,379.69 L444.80,380.37 L444.95,381.06 L445.11,381.74 L445.27,382.42 L445.42,383.11 L445.57,383.79 L445.73,384.48 L445.88,385.17 L446.02,385.85 L446.17,386.54 L446.31,387.23 L446.45,387.92 L446.59,388.60 L446.72,389.29 L446.85,389.98 L446.98,390.67 L447.10,391.37 L447.21,392.06 L447.33,392.75 L447.43,393.45 L447.53,394.14 L447.63,394.84 L447.72,395.53 L447.81,396.23 L447.89,396.93 L447.96,397.63 L448.03,398.32 L448.10,399.02 L448.17,399.72 L448.23,400.42 L448.29,401.12 L448.35,401.82 L448.40,402.52 L448.46,403.22 L448.51,403.92 L448.56,404.62 L448.61,405.32 L448.66,406.02 L448.71,406.72 L448.76,407.42 L448.81,408.12 L448.86,408.83 L448.92,409.53 L448.97,410.23 L449.03,410.93 L449.09,411.63 L449.15,412.33 L449.21,413.02 L449.27,413.72 L449.33,414.42 L449.40,415.12 L449.47,415.82 L449.53,416.52 L449.60,417.22 L449.67,417.92 L449.73,418.62 L449.80,419.32 L449.87,420.02 L449.94,420.72 L450.01,421.41 L450.07,422.11 L450.14,422.81 L450.21,423.51 L450.28,424.21 L450.35,424.91 L450.42,425.61 L450.49,426.31 L450.56,427.01 L450.62,427.70 L450.69,428.40 L450.76,429.10 L450.83,429.80 L450.90,430.50" fill="none" stroke="#ff621a" stroke-width="4.20" stroke-linejoin="round" stroke-linecap="butt" stroke-dasharray="13.5 5.6"/>
<line x1="418.20" y1="70.70" x2="418.20" y2="430.50" stroke="#ff621a" stroke-width="3.80" stroke-linecap="butt" stroke-dasharray="3.8 5.85"/>
<path d="M225.90,104.60 L226.60,104.61 L227.30,104.61 L228.00,104.62 L228.71,104.62 L229.41,104.62 L230.11,104.63 L230.81,104.63 L231.51,104.64 L232.21,104.64 L232.91,104.64 L233.62,104.65 L234.32,104.65 L235.02,104.66 L235.72,104.66 L236.42,104.67 L237.12,104.68 L237.82,104.68 L238.52,104.69 L239.23,104.70 L239.93,104.71 L240.63,104.72 L241.33,104.73 L242.03,104.74 L242.73,104.75 L243.43,104.77 L244.13,104.78 L244.84,104.80 L245.54,104.82 L246.24,104.84 L246.94,104.86 L247.64,104.88 L248.34,104.91 L249.04,104.94 L249.74,104.97 L250.44,105.00 L251.14,105.03 L251.84,105.06 L252.55,105.10 L253.25,105.13 L253.95,105.17 L254.65,105.21 L255.35,105.25 L256.05,105.29 L256.75,105.33 L257.45,105.38 L258.15,105.42 L258.85,105.47 L259.55,105.52 L260.25,105.56 L260.95,105.61 L261.65,105.67 L262.34,105.72 L263.04,105.77 L263.74,105.83 L264.44,105.88 L265.14,105.94 L265.84,106.00 L266.54,106.06 L267.24,106.12 L267.94,106.18 L268.64,106.24 L269.33,106.31 L270.03,106.37 L270.73,106.44 L271.43,106.51 L272.13,106.58 L272.82,106.65 L273.52,106.73 L274.22,106.80 L274.92,106.88 L275.61,106.96 L276.31,107.03 L277.01,107.11 L277.70,107.19 L278.40,107.28 L279.10,107.36 L279.79,107.44 L280.49,107.53 L281.19,107.61 L281.88,107.70 L282.58,107.78 L283.27,107.87 L283.97,107.96 L284.67,108.05 L285.36,108.14 L286.06,108.22 L286.75,108.31 L287.45,108.40 L288.14,108.49 L288.84,108.58 L289.53,108.68 L290.23,108.77 L290.93,108.86 L291.62,108.95 L292.32,109.05 L293.01,109.14 L293.70,109.24 L294.40,109.34 L295.09,109.44 L295.79,109.54 L296.48,109.65 L297.17,109.75 L297.87,109.86 L298.56,109.97 L299.25,110.07 L299.95,110.18 L300.64,110.29 L301.33,110.40 L302.03,110.51 L302.72,110.61 L303.41,110.72 L304.11,110.82 L304.80,110.93 L305.49,111.03 L306.19,111.13 L306.88,111.23 L307.58,111.33 L308.27,111.43 L308.96,111.52 L309.66,111.62 L310.35,111.72 L311.05,111.82 L311.74,111.91 L312.44,112.01 L313.13,112.11 L313.83,112.21 L314.52,112.31 L315.21,112.41 L315.91,112.52 L316.60,112.62 L317.29,112.73 L317.99,112.84 L318.68,112.95 L319.37,113.06 L320.07,113.17 L320.76,113.29 L321.45,113.40 L322.14,113.52 L322.83,113.65 L323.52,113.77 L324.21,113.89 L324.90,114.02 L325.59,114.14 L326.28,114.27 L326.97,114.40 L327.66,114.53 L328.35,114.66 L329.04,114.79 L329.73,114.92 L330.42,115.05 L331.11,115.18 L331.79,115.32 L332.48,115.45 L333.17,115.59 L333.86,115.72 L334.55,115.86 L335.23,116.00 L335.92,116.14 L336.61,116.28 L337.30,116.42 L337.98,116.56 L338.67,116.71 L339.35,116.85 L340.04,117.00 L340.73,117.14 L341.41,117.29 L342.10,117.44 L342.78,117.59 L343.47,117.74 L344.15,117.89 L344.84,118.04 L345.52,118.20 L346.21,118.35 L346.89,118.51 L347.57,118.67 L348.26,118.83 L348.94,118.98 L349.62,119.14 L350.31,119.30 L350.99,119.47 L351.67,119.63 L352.35,119.79 L353.03,119.96 L353.72,120.12 L354.40,120.29 L355.08,120.46 L355.76,120.62 L356.44,120.79 L357.12,120.97 L357.80,121.14 L358.48,121.31 L359.16,121.49 L359.84,121.66 L360.52,121.84 L361.19,122.02 L361.87,122.20 L362.55,122.38 L363.23,122.56 L363.90,122.74 L364.58,122.93 L365.26,123.12 L365.93,123.30 L366.61,123.49 L367.28,123.68 L367.96,123.88 L368.63,124.07 L369.31,124.26 L369.98,124.46 L370.65,124.65 L371.33,124.85 L372.00,125.04 L372.67,125.24 L373.35,125.44 L374.02,125.64 L374.69,125.84 L375.36,126.04 L376.03,126.24 L376.71,126.44 L377.38,126.65 L378.05,126.86 L378.72,127.06 L379.39,127.27 L380.05,127.49 L380.72,127.70 L381.39,127.92 L382.06,128.13 L382.72,128.35 L383.39,128.57 L384.05,128.80 L384.72,129.03 L385.38,129.25 L386.04,129.49 L386.70,129.72 L387.36,129.96 L388.02,130.20 L388.68,130.44 L389.34,130.68 L389.99,130.93 L390.65,131.18 L391.30,131.43 L391.96,131.69 L392.61,131.95 L393.26,132.21 L393.91,132.47 L394.56,132.74 L395.21,133.01 L395.85,133.28 L396.50,133.55 L397.14,133.82 L397.79,134.10 L398.43,134.38 L399.08,134.65 L399.72,134.94 L400.36,135.22 L401.00,135.50 L401.65,135.79 L402.29,136.07 L402.93,136.36 L403.56,136.65 L404.20,136.94 L404.84,137.23 L405.48,137.52 L406.11,137.82 L406.75,138.11 L407.39,138.41 L408.02,138.71 L408.66,139.01 L409.29,139.31 L409.92,139.61 L410.55,139.91 L411.19,140.22 L411.82,140.52 L412.45,140.83 L413.08,141.14 L413.70,141.46 L414.33,141.77 L414.95,142.09 L415.58,142.41 L416.20,142.74 L416.82,143.07 L417.44,143.40 L418.05,143.74 L418.66,144.08 L419.27,144.43 L419.88,144.78 L420.48,145.14 L421.08,145.50 L421.68,145.86 L422.28,146.23 L422.87,146.60 L423.47,146.98 L424.06,147.35 L424.65,147.73 L425.24,148.11 L425.83,148.49 L426.41,148.88 L427.00,149.26 L427.58,149.65 L428.16,150.04 L428.74,150.44 L429.32,150.83 L429.90,151.23 L430.48,151.63 L431.05,152.04 L431.62,152.44 L432.20,152.85 L432.77,153.25 L433.34,153.66 L433.90,154.07 L434.47,154.49 L435.04,154.90 L435.60,155.32 L436.16,155.74 L436.73,156.16 L437.29,156.58 L437.85,157.00 L438.40,157.43 L438.96,157.86 L439.51,158.29 L440.06,158.72 L440.61,159.16 L441.15,159.61 L441.68,160.06 L442.22,160.52 L442.74,160.98 L443.26,161.45 L443.78,161.92 L444.29,162.40 L444.80,162.88 L445.31,163.37 L445.82,163.85 L446.33,164.33 L446.85,164.80 L447.36,165.28 L447.88,165.75 L448.41,166.22 L448.93,166.68 L449.46,167.15 L449.99,167.61 L450.52,168.07 L451.04,168.53 L451.57,168.99 L452.10,169.45 L452.63,169.91 L453.16,170.37 L453.68,170.84 L454.21,171.30 L454.73,171.77 L455.24,172.25 L455.76,172.72 L456.27,173.21 L456.78,173.69 L457.28,174.18 L457.78,174.67 L458.27,175.17 L458.76,175.68 L459.24,176.18 L459.72,176.69 L460.20,177.21 L460.67,177.73 L461.14,178.25 L461.60,178.77 L462.07,179.30 L462.53,179.83 L462.98,180.36 L463.44,180.90 L463.89,181.43 L464.34,181.97 L464.79,182.51 L465.24,183.05 L465.68,183.59 L466.12,184.14 L466.56,184.68 L467.00,185.23 L467.44,185.78 L467.88,186.33 L468.31,186.88 L468.74,187.43 L469.17,187.98 L469.60,188.54 L470.03,189.09 L470.46,189.65 L470.89,190.21 L471.31,190.77 L471.73,191.33 L472.15,191.89 L472.57,192.45 L472.98,193.02 L473.40,193.58 L473.81,194.15 L474.22,194.72 L474.63,195.29 L475.04,195.86 L475.45,196.43 L475.85,197.00 L476.26,197.57 L476.66,198.14 L477.07,198.72 L477.47,199.29 L477.87,199.87 L478.27,200.44 L478.67,201.02 L479.07,201.59 L479.47,202.17 L479.87,202.75 L480.27,203.32 L480.67,203.90 L481.07,204.48 L481.47,205.05 L481.87,205.63 L482.27,206.21 L482.67,206.78 L483.07,207.36 L483.47,207.94 L483.87,208.51 L484.27,209.09 L484.67,209.67 L485.07,210.24 L485.46,210.82 L485.86,211.40 L486.26,211.97 L486.66,212.55 L487.05,213.13 L487.45,213.71 L487.84,214.29 L488.23,214.88 L488.62,215.46 L489.01,216.04 L489.40,216.63 L489.78,217.21 L490.16,217.80 L490.54,218.39 L490.92,218.98 L491.30,219.58 L491.67,220.17 L492.04,220.77 L492.40,221.36 L492.77,221.96 L493.13,222.57 L493.48,223.17 L493.84,223.77 L494.19,224.38 L494.54,224.99 L494.89,225.60 L495.23,226.21 L495.57,226.82 L495.91,227.44 L496.24,228.05 L496.58,228.67 L496.91,229.29 L497.23,229.91 L497.56,230.53 L497.89,231.15 L498.21,231.78 L498.53,232.40 L498.85,233.02 L499.17,233.65 L499.48,234.27 L499.80,234.90 L500.12,235.53 L500.43,236.15 L500.74,236.78 L501.06,237.41 L501.37,238.04 L501.68,238.67 L501.99,239.29 L502.30,239.92 L502.61,240.55 L502.91,241.19 L503.22,241.82 L503.52,242.45 L503.82,243.08 L504.12,243.72 L504.42,244.35 L504.72,244.99 L505.01,245.62 L505.31,246.26 L505.61,246.89 L505.90,247.53 L506.19,248.17 L506.49,248.80 L506.78,249.44 L507.08,250.08 L507.37,250.72 L507.66,251.35 L507.96,251.99 L508.25,252.63 L508.54,253.26 L508.84,253.90 L509.13,254.54 L509.43,255.17 L509.72,255.81 L510.02,256.44 L510.32,257.08 L510.62,257.71 L510.92,258.35 L511.22,258.98 L511.52,259.62 L511.82,260.25 L512.13,260.88 L512.43,261.51 L512.74,262.14 L513.04,262.77 L513.35,263.41 L513.65,264.04 L513.96,264.67 L514.27,265.30 L514.58,265.93 L514.88,266.56 L515.19,267.19 L515.50,267.82 L515.82,268.44 L516.13,269.07 L516.44,269.70 L516.76,270.33 L517.08,270.95 L517.40,271.58 L517.72,272.20 L518.04,272.82 L518.36,273.44 L518.69,274.06 L519.02,274.68 L519.35,275.30 L519.68,275.92 L520.01,276.54 L520.35,277.15 L520.69,277.77 L521.03,278.38 L521.37,278.99 L521.72,279.60 L522.06,280.21 L522.41,280.82 L522.76,281.43 L523.12,282.03 L523.47,282.64 L523.83,283.24 L524.19,283.85 L524.54,284.45 L524.91,285.05 L525.27,285.65 L525.63,286.25 L526.00,286.85 L526.37,287.45 L526.74,288.04 L527.11,288.64 L527.48,289.23 L527.85,289.82 L528.23,290.42 L528.61,291.01 L528.99,291.59 L529.38,292.18 L529.77,292.76 L530.15,293.35 L530.55,293.93 L530.94,294.51 L531.33,295.09 L531.72,295.67 L532.12,296.25 L532.51,296.83 L532.91,297.41 L533.30,297.99 L533.70,298.57 L534.09,299.15 L534.48,299.74 L534.87,300.32 L535.26,300.90 L535.65,301.49 L536.04,302.07 L536.42,302.66 L536.81,303.24 L537.19,303.83 L537.58,304.42 L537.96,305.00 L538.34,305.59 L538.73,306.18 L539.12,306.76 L539.50,307.35 L539.89,307.93 L540.28,308.51 L540.68,309.09 L541.08,309.67 L541.48,310.24 L541.88,310.82 L542.29,311.39 L542.70,311.95 L543.12,312.52 L543.53,313.09 L543.95,313.65 L544.37,314.21 L544.79,314.77 L545.22,315.33 L545.64,315.89 L546.08,316.44 L546.51,316.98 L546.96,317.53 L547.41,318.06 L547.87,318.60 L548.33,319.12 L548.80,319.64 L549.29,320.15 L549.77,320.65 L550.27,321.14 L550.78,321.63 L551.29,322.11 L551.80,322.59 L552.33,323.05 L552.85,323.51 L553.39,323.97 L553.92,324.42 L554.46,324.87 L555.01,325.31 L555.55,325.75 L556.10,326.19 L556.66,326.62 L557.21,327.05 L557.77,327.47 L558.33,327.90 L558.89,328.32 L559.45,328.74 L560.02,329.15 L560.58,329.56 L561.15,329.97 L561.72,330.38 L562.30,330.79 L562.87,331.19 L563.45,331.58 L564.03,331.98 L564.61,332.37 L565.20,332.75 L565.79,333.13 L566.39,333.50 L566.98,333.87 L567.58,334.23 L568.19,334.58 L568.80,334.93 L569.41,335.27 L570.03,335.61 L570.65,335.94 L571.27,336.26 L571.89,336.58 L572.52,336.89 L573.15,337.20 L573.78,337.50 L574.42,337.79 L575.06,338.08 L575.70,338.36 L576.35,338.64 L576.99,338.91 L577.64,339.18 L578.29,339.44 L578.94,339.70 L579.60,339.95 L580.25,340.20 L580.91,340.45 L581.57,340.69 L582.23,340.93 L582.89,341.17 L583.55,341.40 L584.21,341.63 L584.87,341.86 L585.54,342.09 L586.20,342.31 L586.87,342.53 L587.54,342.74 L588.21,342.96 L588.87,343.17 L589.54,343.37 L590.21,343.58 L590.89,343.78 L591.56,343.98 L592.23,344.18 L592.91,344.37 L593.58,344.57 L594.25,344.76 L594.93,344.94 L595.61,345.12 L596.29,345.30 L596.97,345.48 L597.64,345.65 L598.33,345.82 L599.01,345.99 L599.69,346.15 L600.37,346.30 L601.06,346.45 L601.75,346.60 L602.43,346.73 L603.12,346.86 L603.81,346.98 L604.51,347.09 L605.20,347.19 L605.90,347.28 L606.59,347.36 L607.29,347.44 L607.99,347.51 L608.68,347.57 L609.38,347.62 L610.08,347.66 L610.78,347.70 L611.48,347.74 L612.19,347.77 L612.89,347.80 L613.59,347.82 L614.29,347.84 L614.99,347.86 L615.69,347.88 L616.39,347.89 L617.09,347.91 L617.79,347.92 L618.50,347.94 L619.20,347.95 L619.90,347.97 L620.60,347.98 L621.30,348.00" fill="none" stroke="#30d210" stroke-width="4.20" stroke-linejoin="round" stroke-linecap="square"/>
<polyline points="621.3,348.0 622.6,347.7 626.2,353.8" fill="none" stroke="#30d210" stroke-width="4.20" stroke-linejoin="round" stroke-linecap="square"/>
<polyline points="492.8,222.0 501.8,238.9 511.7,260.0 519.5,275.6 525.7,292.7 532.7,303.6 539.7,321.5 546.7,340.0 551.8,354.7 555.5,368.0 560.8,381.0 564.2,392.7 566.5,383.5 571.0,397.2 575.5,416.3 578.0,424.0 581.0,430.0" fill="none" stroke="#30d210" stroke-width="4.20" stroke-linejoin="round" stroke-linecap="butt" stroke-dasharray="13.5 5.6"/>
<line x1="585.60" y1="430.00" x2="586.80" y2="415.00" stroke="#30d210" stroke-width="4.20" stroke-linecap="butt"/>
<line x1="514.50" y1="70.70" x2="514.50" y2="430.50" stroke="#30d210" stroke-width="3.80" stroke-linecap="butt" stroke-dasharray="3.8 5.85"/>
<path d="M225.90,115.10 L226.60,115.11 L227.30,115.12 L228.01,115.12 L228.71,115.13 L229.41,115.14 L230.11,115.15 L230.81,115.16 L231.52,115.16 L232.22,115.17 L232.92,115.18 L233.62,115.19 L234.33,115.19 L235.03,115.20 L235.73,115.21 L236.43,115.22 L237.13,115.22 L237.84,115.23 L238.54,115.24 L239.24,115.25 L239.94,115.26 L240.64,115.27 L241.35,115.27 L242.05,115.28 L242.75,115.29 L243.45,115.30 L244.16,115.31 L244.86,115.32 L245.56,115.33 L246.26,115.34 L246.96,115.35 L247.67,115.36 L248.37,115.37 L249.07,115.39 L249.77,115.40 L250.47,115.41 L251.18,115.42 L251.88,115.44 L252.58,115.45 L253.28,115.46 L253.98,115.48 L254.69,115.49 L255.39,115.51 L256.09,115.52 L256.79,115.54 L257.49,115.55 L258.20,115.57 L258.90,115.59 L259.60,115.60 L260.30,115.62 L261.00,115.64 L261.71,115.65 L262.41,115.67 L263.11,115.69 L263.81,115.71 L264.51,115.73 L265.22,115.75 L265.92,115.76 L266.62,115.78 L267.32,115.80 L268.02,115.82 L268.73,115.84 L269.43,115.86 L270.13,115.88 L270.83,115.90 L271.53,115.92 L272.23,115.94 L272.94,115.96 L273.64,115.98 L274.34,116.00 L275.04,116.02 L275.74,116.04 L276.45,116.06 L277.15,116.08 L277.85,116.10 L278.55,116.13 L279.25,116.15 L279.96,116.17 L280.66,116.19 L281.36,116.21 L282.06,116.23 L282.76,116.25 L283.46,116.28 L284.17,116.30 L284.87,116.32 L285.57,116.34 L286.27,116.36 L286.97,116.39 L287.68,116.41 L288.38,116.43 L289.08,116.45 L289.78,116.48 L290.48,116.50 L291.18,116.52 L291.89,116.54 L292.59,116.56 L293.29,116.59 L293.99,116.61 L294.69,116.63 L295.40,116.65 L296.10,116.67 L296.80,116.69 L297.50,116.71 L298.20,116.73 L298.91,116.75 L299.61,116.77 L300.31,116.79 L301.01,116.81 L301.71,116.83 L302.41,116.85 L303.12,116.87 L303.82,116.90 L304.52,116.92 L305.22,116.94 L305.92,116.96 L306.63,116.99 L307.33,117.01 L308.03,117.04 L308.73,117.06 L309.43,117.09 L310.13,117.12 L310.84,117.15 L311.54,117.17 L312.24,117.20 L312.94,117.24 L313.64,117.27 L314.34,117.30 L315.04,117.33 L315.75,117.37 L316.45,117.41 L317.15,117.44 L317.85,117.48 L318.55,117.52 L319.25,117.56 L319.95,117.60 L320.65,117.64 L321.35,117.68 L322.06,117.72 L322.76,117.76 L323.46,117.81 L324.16,117.85 L324.86,117.89 L325.56,117.93 L326.26,117.97 L326.96,118.02 L327.66,118.06 L328.36,118.10 L329.06,118.15 L329.76,118.19 L330.47,118.24 L331.17,118.28 L331.87,118.33 L332.57,118.38 L333.27,118.42 L333.97,118.47 L334.67,118.52 L335.37,118.57 L336.07,118.62 L336.77,118.67 L337.47,118.72 L338.17,118.77 L338.87,118.83 L339.57,118.88 L340.27,118.94 L340.97,118.99 L341.67,119.05 L342.37,119.10 L343.07,119.16 L343.77,119.22 L344.47,119.28 L345.17,119.34 L345.87,119.40 L346.57,119.46 L347.27,119.52 L347.97,119.59 L348.67,119.65 L349.37,119.72 L350.07,119.78 L350.76,119.85 L351.46,119.91 L352.16,119.98 L352.86,120.05 L353.56,120.12 L354.26,120.19 L354.96,120.26 L355.66,120.33 L356.35,120.40 L357.05,120.47 L357.75,120.54 L358.45,120.62 L359.15,120.69 L359.85,120.77 L360.54,120.84 L361.24,120.92 L361.94,121.00 L362.64,121.08 L363.34,121.15 L364.03,121.23 L364.73,121.31 L365.43,121.39 L366.13,121.47 L366.82,121.55 L367.52,121.63 L368.22,121.72 L368.92,121.80 L369.61,121.88 L370.31,121.96 L371.01,122.04 L371.70,122.13 L372.40,122.21 L373.10,122.29 L373.80,122.38 L374.49,122.46 L375.19,122.54 L375.89,122.63 L376.59,122.71 L377.28,122.80 L377.98,122.88 L378.68,122.97 L379.37,123.05 L380.07,123.14 L380.77,123.22 L381.46,123.31 L382.16,123.39 L382.86,123.48 L383.56,123.56 L384.25,123.65 L384.95,123.74 L385.65,123.82 L386.34,123.91 L387.04,123.99 L387.74,124.08 L388.43,124.17 L389.13,124.25 L389.83,124.34 L390.52,124.42 L391.22,124.51 L391.92,124.60 L392.61,124.68 L393.31,124.77 L394.01,124.85 L394.71,124.94 L395.40,125.03 L396.10,125.11 L396.80,125.20 L397.49,125.28 L398.19,125.37 L398.89,125.45 L399.58,125.54 L400.28,125.62 L400.98,125.71 L401.67,125.79 L402.37,125.88 L403.07,125.96 L403.77,126.05 L404.46,126.13 L405.16,126.22 L405.86,126.30 L406.55,126.38 L407.25,126.47 L407.95,126.55 L408.65,126.63 L409.34,126.71 L410.04,126.79 L410.74,126.87 L411.44,126.95 L412.13,127.03 L412.83,127.11 L413.53,127.19 L414.23,127.27 L414.93,127.34 L415.62,127.42 L416.32,127.49 L417.02,127.57 L417.72,127.64 L418.42,127.71 L419.12,127.78 L419.81,127.85 L420.51,127.92 L421.21,127.99 L421.91,128.05 L422.61,128.12 L423.31,128.18 L424.01,128.25 L424.71,128.31 L425.41,128.37 L426.11,128.43 L426.81,128.49 L427.51,128.55 L428.21,128.61 L428.91,128.68 L429.61,128.74 L430.30,128.80 L431.00,128.86 L431.70,128.92 L432.40,128.99 L433.10,129.05 L433.80,129.12 L434.50,129.19 L435.20,129.26 L435.90,129.33 L436.59,129.41 L437.29,129.49 L437.99,129.57 L438.69,129.65 L439.38,129.73 L440.08,129.81 L440.78,129.90 L441.48,129.99 L442.17,130.07 L442.87,130.16 L443.57,130.25 L444.26,130.34 L444.96,130.43 L445.65,130.52 L446.35,130.61 L447.05,130.70 L447.74,130.80 L448.44,130.89 L449.13,130.98 L449.83,131.08 L450.53,131.17 L451.22,131.27 L451.92,131.37 L452.61,131.47 L453.31,131.57 L454.00,131.67 L454.70,131.77 L455.39,131.87 L456.09,131.97 L456.78,132.08 L457.47,132.18 L458.17,132.29 L458.86,132.40 L459.56,132.51 L460.25,132.62 L460.94,132.73 L461.63,132.85 L462.33,132.96 L463.02,133.08 L463.71,133.20 L464.40,133.32 L465.10,133.44 L465.79,133.56 L466.48,133.69 L467.17,133.81 L467.86,133.94 L468.55,134.07 L469.24,134.21 L469.93,134.34 L470.62,134.48 L471.30,134.62 L471.99,134.76 L472.68,134.90 L473.37,135.05 L474.05,135.19 L474.74,135.34 L475.43,135.49 L476.11,135.64 L476.80,135.79 L477.48,135.95 L478.17,136.10 L478.85,136.26 L479.54,136.41 L480.22,136.57 L480.90,136.73 L481.59,136.89 L482.27,137.05 L482.96,137.21 L483.64,137.37 L484.32,137.53 L485.00,137.70 L485.69,137.86 L486.37,138.02 L487.05,138.19 L487.74,138.35 L488.42,138.51 L489.10,138.68 L489.79,138.84 L490.47,139.00 L491.15,139.17 L491.83,139.33 L492.52,139.49 L493.20,139.65 L493.88,139.81 L494.57,139.97 L495.25,140.13 L495.94,140.29 L496.62,140.45 L497.31,140.60 L497.99,140.75 L498.68,140.90 L499.36,141.05 L500.05,141.20 L500.74,141.35 L501.42,141.50 L502.11,141.64 L502.80,141.79 L503.48,141.93 L504.17,142.07 L504.86,142.22 L505.54,142.37 L506.23,142.51 L506.92,142.66 L507.60,142.82 L508.29,142.97 L508.97,143.13 L509.65,143.29 L510.34,143.46 L511.02,143.63 L511.70,143.80 L512.38,143.98 L513.06,144.16 L513.73,144.34 L514.41,144.53 L515.09,144.72 L515.76,144.91 L516.44,145.10 L517.11,145.30 L517.78,145.50 L518.46,145.70 L519.13,145.90 L519.80,146.11 L520.47,146.32 L521.14,146.52 L521.81,146.73 L522.48,146.94 L523.15,147.15 L523.82,147.37 L524.49,147.58 L525.16,147.80 L525.83,148.01 L526.50,148.23 L527.16,148.45 L527.83,148.67 L528.50,148.88 L529.16,149.10 L529.83,149.33 L530.50,149.55 L531.16,149.77 L531.83,149.99 L532.50,150.21 L533.16,150.44 L533.83,150.66 L534.49,150.88 L535.16,151.11 L535.82,151.33 L536.49,151.55 L537.15,151.78 L537.82,152.00 L538.48,152.23 L539.15,152.45 L539.81,152.68 L540.48,152.91 L541.14,153.13 L541.81,153.36 L542.47,153.59 L543.14,153.81 L543.80,154.04 L544.46,154.27 L545.13,154.50 L545.79,154.73 L546.46,154.96 L547.12,155.19 L547.78,155.42 L548.44,155.66 L549.11,155.89 L549.77,156.12 L550.43,156.35 L551.09,156.59 L551.76,156.82 L552.42,157.05 L553.08,157.29 L553.74,157.52 L554.40,157.75 L555.07,157.99 L555.73,158.22 L556.39,158.46 L557.05,158.70 L557.71,158.93 L558.37,159.17 L559.04,159.40 L559.70,159.64 L560.36,159.88 L561.02,160.11 L561.68,160.35 L562.34,160.59 L563.00,160.83 L563.66,161.07 L564.32,161.30 L564.98,161.54 L565.64,161.78 L566.30,162.02 L566.96,162.26 L567.62,162.50 L568.28,162.74 L568.94,162.99 L569.60,163.23 L570.26,163.47 L570.91,163.72 L571.57,163.97 L572.23,164.21 L572.89,164.46 L573.54,164.71 L574.20,164.96 L574.86,165.21 L575.51,165.45 L576.17,165.70 L576.83,165.95 L577.48,166.20 L578.14,166.45 L578.79,166.71 L579.45,166.96 L580.11,167.21 L580.76,167.46 L581.42,167.71 L582.07,167.96 L582.73,168.21 L583.39,168.46 L584.04,168.71 L584.70,168.95 L585.36,169.20 L586.01,169.45 L586.67,169.70 L587.33,169.94 L587.99,170.19 L588.64,170.43 L589.30,170.68 L589.96,170.92 L590.62,171.16 L591.28,171.40 L591.94,171.63 L592.61,171.87 L593.27,172.10 L593.93,172.33 L594.60,172.56 L595.26,172.78 L595.93,173.00 L596.60,173.22 L597.26,173.44 L597.93,173.65 L598.60,173.86 L599.27,174.06 L599.95,174.26 L600.62,174.46 L601.30,174.65 L601.98,174.83 L602.66,175.00 L603.34,175.17 L604.02,175.32 L604.71,175.47 L605.40,175.61 L606.08,175.75 L606.77,175.88 L607.47,176.01 L608.16,176.13 L608.85,176.25 L609.54,176.36 L610.24,176.47 L610.93,176.57 L611.63,176.66 L612.32,176.75 L613.02,176.84 L613.72,176.92 L614.41,177.00 L615.11,177.08 L615.81,177.15 L616.51,177.22 L617.21,177.29 L617.91,177.36 L618.61,177.42 L619.31,177.49 L620.00,177.55 L620.70,177.61 L621.40,177.67 L622.10,177.73 L622.80,177.79 L623.50,177.85 L624.20,177.91 L624.90,177.97 L625.60,178.04 L626.30,178.10" fill="none" stroke="#ea0824" stroke-width="4.20" stroke-linejoin="round" stroke-linecap="square"/>
<rect x="136.50" y="64.30" width="515.60" height="366.20" fill="none" stroke="#000" stroke-width="3.20"/>
<line x1="136.50" y1="150.60" x2="149.30" y2="150.60" stroke="#000" stroke-width="3.00" stroke-linecap="butt"/>
<line x1="652.10" y1="150.60" x2="639.30" y2="150.60" stroke="#000" stroke-width="3.00" stroke-linecap="butt"/>
<line x1="136.50" y1="243.90" x2="149.30" y2="243.90" stroke="#000" stroke-width="3.00" stroke-linecap="butt"/>
<line x1="652.10" y1="243.90" x2="639.30" y2="243.90" stroke="#000" stroke-width="3.00" stroke-linecap="butt"/>
<line x1="136.50" y1="337.20" x2="149.30" y2="337.20" stroke="#000" stroke-width="3.00" stroke-linecap="butt"/>
<line x1="652.10" y1="337.20" x2="639.30" y2="337.20" stroke="#000" stroke-width="3.00" stroke-linecap="butt"/>
<line x1="225.90" y1="64.30" x2="225.90" y2="77.10" stroke="#000" stroke-width="3.00" stroke-linecap="butt"/>
<line x1="225.90" y1="430.50" x2="225.90" y2="417.70" stroke="#000" stroke-width="3.00" stroke-linecap="butt"/>
<line x1="480.90" y1="64.30" x2="480.90" y2="77.10" stroke="#000" stroke-width="3.00" stroke-linecap="butt"/>
<line x1="480.90" y1="430.50" x2="480.90" y2="417.70" stroke="#000" stroke-width="3.00" stroke-linecap="butt"/>
<text x="109.37" y="151.00" font-size="27.50" font-family="Liberation Serif" fill="#000" textLength="14.82" lengthAdjust="spacingAndGlyphs">3</text>
<rect x="89.50" y="142.50" width="17.20" height="1.75" fill="#000"/>
<text x="50.10" y="163.90" font-size="37.50" font-family="Liberation Serif" fill="#000">10</text>
<text x="108.86" y="244.30" font-size="27.50" font-family="Liberation Serif" fill="#000" textLength="15.38" lengthAdjust="spacingAndGlyphs">5</text>
<rect x="89.50" y="235.80" width="17.20" height="1.75" fill="#000"/>
<text x="50.10" y="257.20" font-size="37.50" font-family="Liberation Serif" fill="#000">10</text>
<text x="108.73" y="337.60" font-size="27.50" font-family="Liberation Serif" fill="#000" textLength="15.19" lengthAdjust="spacingAndGlyphs">7</text>
<rect x="89.50" y="329.10" width="17.20" height="1.75" fill="#000"/>
<text x="50.10" y="350.50" font-size="37.50" font-family="Liberation Serif" fill="#000">10</text>
<text x="109.84" y="430.90" font-size="27.50" font-family="Liberation Serif" fill="#000" textLength="14.30" lengthAdjust="spacingAndGlyphs">9</text>
<rect x="89.50" y="422.40" width="17.20" height="1.75" fill="#000"/>
<text x="50.10" y="443.80" font-size="37.50" font-family="Liberation Serif" fill="#000">10</text>
<text x="216.53" y="469.30" font-size="37.50" font-family="Liberation Serif" fill="#000">0</text>
<text x="471.71" y="469.30" font-size="37.50" font-family="Liberation Serif" fill="#000">2</text>
<g transform="translate(385.10,499.92) scale(0.900,0.932)"><path d="M4.1,0.6 C1.4,4.1 0.1,8.1 0.8,10.7 C1.5,13.6 4.4,15.4 7.4,15.4 C11.4,15.4 15.9,13.6 18.4,10.6 C20.7,7.7 21.1,3.6 19.5,1.7 C18.0,-0.1 14.4,0.3 12.4,2.3 C9.4,5.3 7.9,11.1 7.1,15.1" fill="none" stroke="#000" stroke-width="1.85" stroke-linecap="round"/><path d="M7.1,15.1 L5.3,23.2" fill="none" stroke="#000" stroke-width="2.5" stroke-linecap="round"/></g>
<g transform="translate(27.20,286.10) rotate(-90)"><text x="0.22" y="0.00" font-size="37.86" font-family="Liberation Serif" font-style="italic" fill="#000" textLength="27.23" lengthAdjust="spacingAndGlyphs">P</text><text x="29.25" y="0.68" font-size="40.11" font-family="Liberation Serif" fill="#000" textLength="10.71" lengthAdjust="spacingAndGlyphs">(</text><g transform="translate(43.80,-15.46) scale(0.900,0.953)"><path d="M4.1,0.6 C1.4,4.1 0.1,8.1 0.8,10.7 C1.5,13.6 4.4,15.4 7.4,15.4 C11.4,15.4 15.9,13.6 18.4,10.6 C20.7,7.7 21.1,3.6 19.5,1.7 C18.0,-0.1 14.4,0.3 12.4,2.3 C9.4,5.3 7.9,11.1 7.1,15.1" fill="none" stroke="#000" stroke-width="1.85" stroke-linecap="round"/><path d="M7.1,15.1 L5.3,23.2" fill="none" stroke="#000" stroke-width="2.5" stroke-linecap="round"/></g><text x="65.58" y="0.68" font-size="40.11" font-family="Liberation Serif" fill="#000" textLength="11.27" lengthAdjust="spacingAndGlyphs">)</text></g>
<line x1="153.70" y1="251.60" x2="195.40" y2="251.60" stroke="#2082e8" stroke-width="4.60" stroke-linecap="butt"/>
<g transform="translate(211.90,248.00) scale(0.9827,0.9917)" fill="none" stroke="#000" stroke-linecap="round"><path d="M1.0,5.6 C1.8,3.0 3.2,0.9 4.9,0.9 C6.5,0.9 6.9,2.4 6.6,4.0" stroke-width="1.5"/><path d="M6.6,4.0 L3.1,15.4" stroke-width="2.3"/><path d="M5.6,8.0 C7.4,3.6 10.0,0.8 13.0,0.8 C15.6,0.8 16.9,2.5 16.5,5.2" stroke-width="1.5"/><path d="M16.5,5.2 L11.4,22.9" stroke-width="2.4"/></g>
<rect x="241.90" y="250.53" width="24.30" height="1.75" fill="#000"/>
<rect x="241.90" y="257.82" width="24.30" height="1.75" fill="#000"/>
<text x="267.92" y="264.30" font-size="35.50" font-family="Liberation Serif" fill="#000" textLength="46.20" lengthAdjust="spacingAndGlyphs">0.1</text>
<line x1="153.70" y1="298.60" x2="195.40" y2="298.60" stroke="#ff621a" stroke-width="4.60" stroke-linecap="butt"/>
<g transform="translate(211.90,295.00) scale(0.9827,0.9917)" fill="none" stroke="#000" stroke-linecap="round"><path d="M1.0,5.6 C1.8,3.0 3.2,0.9 4.9,0.9 C6.5,0.9 6.9,2.4 6.6,4.0" stroke-width="1.5"/><path d="M6.6,4.0 L3.1,15.4" stroke-width="2.3"/><path d="M5.6,8.0 C7.4,3.6 10.0,0.8 13.0,0.8 C15.6,0.8 16.9,2.5 16.5,5.2" stroke-width="1.5"/><path d="M16.5,5.2 L11.4,22.9" stroke-width="2.4"/></g>
<rect x="241.90" y="297.53" width="24.30" height="1.75" fill="#000"/>
<rect x="241.90" y="304.82" width="24.30" height="1.75" fill="#000"/>
<text x="267.93" y="311.30" font-size="35.50" font-family="Liberation Serif" fill="#000" textLength="46.00" lengthAdjust="spacingAndGlyphs">0.2</text>
<line x1="153.70" y1="345.60" x2="195.40" y2="345.60" stroke="#30d210" stroke-width="4.60" stroke-linecap="butt"/>
<g transform="translate(211.90,342.00) scale(0.9827,0.9917)" fill="none" stroke="#000" stroke-linecap="round"><path d="M1.0,5.6 C1.8,3.0 3.2,0.9 4.9,0.9 C6.5,0.9 6.9,2.4 6.6,4.0" stroke-width="1.5"/><path d="M6.6,4.0 L3.1,15.4" stroke-width="2.3"/><path d="M5.6,8.0 C7.4,3.6 10.0,0.8 13.0,0.8 C15.6,0.8 16.9,2.5 16.5,5.2" stroke-width="1.5"/><path d="M16.5,5.2 L11.4,22.9" stroke-width="2.4"/></g>
<rect x="241.90" y="344.53" width="24.30" height="1.75" fill="#000"/>
<rect x="241.90" y="351.82" width="24.30" height="1.75" fill="#000"/>
<text x="267.95" y="358.30" font-size="35.50" font-family="Liberation Serif" fill="#000" textLength="45.41" lengthAdjust="spacingAndGlyphs">0.3</text>
<line x1="153.70" y1="392.60" x2="195.40" y2="392.60" stroke="#ea0824" stroke-width="4.60" stroke-linecap="butt"/>
<g transform="translate(211.90,389.00) scale(0.9827,0.9917)" fill="none" stroke="#000" stroke-linecap="round"><path d="M1.0,5.6 C1.8,3.0 3.2,0.9 4.9,0.9 C6.5,0.9 6.9,2.4 6.6,4.0" stroke-width="1.5"/><path d="M6.6,4.0 L3.1,15.4" stroke-width="2.3"/><path d="M5.6,8.0 C7.4,3.6 10.0,0.8 13.0,0.8 C15.6,0.8 16.9,2.5 16.5,5.2" stroke-width="1.5"/><path d="M16.5,5.2 L11.4,22.9" stroke-width="2.4"/></g>
<rect x="241.90" y="391.53" width="24.30" height="1.75" fill="#000"/>
<rect x="241.90" y="398.82" width="24.30" height="1.75" fill="#000"/>
<text x="267.95" y="405.30" font-size="35.50" font-family="Liberation Serif" fill="#000" textLength="45.41" lengthAdjust="spacingAndGlyphs">0.5</text>
<text x="0.21" y="42.88" font-size="52.00" font-family="Liberation Serif" font-weight="bold" fill="#000" textLength="29.78" lengthAdjust="spacingAndGlyphs">a</text>
<text x="30.45" y="43.81" font-size="58.00" font-family="Liberation Serif" fill="#000" textLength="18.32" lengthAdjust="spacingAndGlyphs">)</text>
<line x1="986.95" y1="64.30" x2="986.95" y2="77.10" stroke="#000" stroke-width="3.00" stroke-linecap="butt"/>
<line x1="986.95" y1="186.20" x2="986.95" y2="173.40" stroke="#000" stroke-width="3.00" stroke-linecap="butt"/>
<line x1="1115.90" y1="64.30" x2="1115.90" y2="77.10" stroke="#000" stroke-width="3.00" stroke-linecap="butt"/>
<line x1="1115.90" y1="186.20" x2="1115.90" y2="173.40" stroke="#000" stroke-width="3.00" stroke-linecap="butt"/>
<line x1="1244.85" y1="64.30" x2="1244.85" y2="77.10" stroke="#000" stroke-width="3.00" stroke-linecap="butt"/>
<line x1="1244.85" y1="186.20" x2="1244.85" y2="173.40" stroke="#000" stroke-width="3.00" stroke-linecap="butt"/>
<line x1="986.95" y1="186.20" x2="986.95" y2="199.00" stroke="#000" stroke-width="3.00" stroke-linecap="butt"/>
<line x1="986.95" y1="308.50" x2="986.95" y2="295.70" stroke="#000" stroke-width="3.00" stroke-linecap="butt"/>
<line x1="1115.90" y1="186.20" x2="1115.90" y2="199.00" stroke="#000" stroke-width="3.00" stroke-linecap="butt"/>
<line x1="1115.90" y1="308.50" x2="1115.90" y2="295.70" stroke="#000" stroke-width="3.00" stroke-linecap="butt"/>
<line x1="1244.85" y1="186.20" x2="1244.85" y2="199.00" stroke="#000" stroke-width="3.00" stroke-linecap="butt"/>
<line x1="1244.85" y1="308.50" x2="1244.85" y2="295.70" stroke="#000" stroke-width="3.00" stroke-linecap="butt"/>
<line x1="986.95" y1="308.50" x2="986.95" y2="321.30" stroke="#000" stroke-width="3.00" stroke-linecap="butt"/>
<line x1="986.95" y1="430.50" x2="986.95" y2="417.70" stroke="#000" stroke-width="3.00" stroke-linecap="butt"/>
<line x1="1115.90" y1="308.50" x2="1115.90" y2="321.30" stroke="#000" stroke-width="3.00" stroke-linecap="butt"/>
<line x1="1115.90" y1="430.50" x2="1115.90" y2="417.70" stroke="#000" stroke-width="3.00" stroke-linecap="butt"/>
<line x1="1244.85" y1="308.50" x2="1244.85" y2="321.30" stroke="#000" stroke-width="3.00" stroke-linecap="butt"/>
<line x1="1244.85" y1="430.50" x2="1244.85" y2="417.70" stroke="#000" stroke-width="3.00" stroke-linecap="butt"/>
<line x1="858.00" y1="75.90" x2="870.80" y2="75.90" stroke="#000" stroke-width="3.00" stroke-linecap="butt"/>
<line x1="1373.80" y1="75.90" x2="1361.00" y2="75.90" stroke="#000" stroke-width="3.00" stroke-linecap="butt"/>
<line x1="858.00" y1="148.30" x2="870.80" y2="148.30" stroke="#000" stroke-width="3.00" stroke-linecap="butt"/>
<line x1="1373.80" y1="148.30" x2="1361.00" y2="148.30" stroke="#000" stroke-width="3.00" stroke-linecap="butt"/>
<line x1="858.00" y1="265.00" x2="870.80" y2="265.00" stroke="#000" stroke-width="3.00" stroke-linecap="butt"/>
<line x1="1373.80" y1="265.00" x2="1361.00" y2="265.00" stroke="#000" stroke-width="3.00" stroke-linecap="butt"/>
<line x1="858.00" y1="223.00" x2="870.80" y2="223.00" stroke="#000" stroke-width="3.00" stroke-linecap="butt"/>
<line x1="1373.80" y1="223.00" x2="1361.00" y2="223.00" stroke="#000" stroke-width="3.00" stroke-linecap="butt"/>
<line x1="858.00" y1="294.36" x2="865.00" y2="294.36" stroke="#000" stroke-width="3.00" stroke-linecap="butt"/>
<line x1="1373.80" y1="294.36" x2="1366.80" y2="294.36" stroke="#000" stroke-width="3.00" stroke-linecap="butt"/>
<line x1="858.00" y1="286.96" x2="865.00" y2="286.96" stroke="#000" stroke-width="3.00" stroke-linecap="butt"/>
<line x1="1373.80" y1="286.96" x2="1366.80" y2="286.96" stroke="#000" stroke-width="3.00" stroke-linecap="butt"/>
<line x1="858.00" y1="281.71" x2="865.00" y2="281.71" stroke="#000" stroke-width="3.00" stroke-linecap="butt"/>
<line x1="1373.80" y1="281.71" x2="1366.80" y2="281.71" stroke="#000" stroke-width="3.00" stroke-linecap="butt"/>
<line x1="858.00" y1="277.64" x2="865.00" y2="277.64" stroke="#000" stroke-width="3.00" stroke-linecap="butt"/>
<line x1="1373.80" y1="277.64" x2="1366.80" y2="277.64" stroke="#000" stroke-width="3.00" stroke-linecap="butt"/>
<line x1="858.00" y1="274.32" x2="865.00" y2="274.32" stroke="#000" stroke-width="3.00" stroke-linecap="butt"/>
<line x1="1373.80" y1="274.32" x2="1366.80" y2="274.32" stroke="#000" stroke-width="3.00" stroke-linecap="butt"/>
<line x1="858.00" y1="271.51" x2="865.00" y2="271.51" stroke="#000" stroke-width="3.00" stroke-linecap="butt"/>
<line x1="1373.80" y1="271.51" x2="1366.80" y2="271.51" stroke="#000" stroke-width="3.00" stroke-linecap="butt"/>
<line x1="858.00" y1="269.07" x2="865.00" y2="269.07" stroke="#000" stroke-width="3.00" stroke-linecap="butt"/>
<line x1="1373.80" y1="269.07" x2="1366.80" y2="269.07" stroke="#000" stroke-width="3.00" stroke-linecap="butt"/>
<line x1="858.00" y1="266.92" x2="865.00" y2="266.92" stroke="#000" stroke-width="3.00" stroke-linecap="butt"/>
<line x1="1373.80" y1="266.92" x2="1366.80" y2="266.92" stroke="#000" stroke-width="3.00" stroke-linecap="butt"/>
<line x1="858.00" y1="252.36" x2="865.00" y2="252.36" stroke="#000" stroke-width="3.00" stroke-linecap="butt"/>
<line x1="1373.80" y1="252.36" x2="1366.80" y2="252.36" stroke="#000" stroke-width="3.00" stroke-linecap="butt"/>
<line x1="858.00" y1="244.96" x2="865.00" y2="244.96" stroke="#000" stroke-width="3.00" stroke-linecap="butt"/>
<line x1="1373.80" y1="244.96" x2="1366.80" y2="244.96" stroke="#000" stroke-width="3.00" stroke-linecap="butt"/>
<line x1="858.00" y1="239.71" x2="865.00" y2="239.71" stroke="#000" stroke-width="3.00" stroke-linecap="butt"/>
<line x1="1373.80" y1="239.71" x2="1366.80" y2="239.71" stroke="#000" stroke-width="3.00" stroke-linecap="butt"/>
<line x1="858.00" y1="235.64" x2="865.00" y2="235.64" stroke="#000" stroke-width="3.00" stroke-linecap="butt"/>
<line x1="1373.80" y1="235.64" x2="1366.80" y2="235.64" stroke="#000" stroke-width="3.00" stroke-linecap="butt"/>
<line x1="858.00" y1="232.32" x2="865.00" y2="232.32" stroke="#000" stroke-width="3.00" stroke-linecap="butt"/>
<line x1="1373.80" y1="232.32" x2="1366.80" y2="232.32" stroke="#000" stroke-width="3.00" stroke-linecap="butt"/>
<line x1="858.00" y1="229.51" x2="865.00" y2="229.51" stroke="#000" stroke-width="3.00" stroke-linecap="butt"/>
<line x1="1373.80" y1="229.51" x2="1366.80" y2="229.51" stroke="#000" stroke-width="3.00" stroke-linecap="butt"/>
<line x1="858.00" y1="227.07" x2="865.00" y2="227.07" stroke="#000" stroke-width="3.00" stroke-linecap="butt"/>
<line x1="1373.80" y1="227.07" x2="1366.80" y2="227.07" stroke="#000" stroke-width="3.00" stroke-linecap="butt"/>
<line x1="858.00" y1="224.92" x2="865.00" y2="224.92" stroke="#000" stroke-width="3.00" stroke-linecap="butt"/>
<line x1="1373.80" y1="224.92" x2="1366.80" y2="224.92" stroke="#000" stroke-width="3.00" stroke-linecap="butt"/>
<line x1="858.00" y1="210.36" x2="865.00" y2="210.36" stroke="#000" stroke-width="3.00" stroke-linecap="butt"/>
<line x1="1373.80" y1="210.36" x2="1366.80" y2="210.36" stroke="#000" stroke-width="3.00" stroke-linecap="butt"/>
<line x1="858.00" y1="202.96" x2="865.00" y2="202.96" stroke="#000" stroke-width="3.00" stroke-linecap="butt"/>
<line x1="1373.80" y1="202.96" x2="1366.80" y2="202.96" stroke="#000" stroke-width="3.00" stroke-linecap="butt"/>
<line x1="858.00" y1="197.71" x2="865.00" y2="197.71" stroke="#000" stroke-width="3.00" stroke-linecap="butt"/>
<line x1="1373.80" y1="197.71" x2="1366.80" y2="197.71" stroke="#000" stroke-width="3.00" stroke-linecap="butt"/>
<line x1="858.00" y1="193.64" x2="865.00" y2="193.64" stroke="#000" stroke-width="3.00" stroke-linecap="butt"/>
<line x1="1373.80" y1="193.64" x2="1366.80" y2="193.64" stroke="#000" stroke-width="3.00" stroke-linecap="butt"/>
<line x1="858.00" y1="190.32" x2="865.00" y2="190.32" stroke="#000" stroke-width="3.00" stroke-linecap="butt"/>
<line x1="1373.80" y1="190.32" x2="1366.80" y2="190.32" stroke="#000" stroke-width="3.00" stroke-linecap="butt"/>
<line x1="858.00" y1="361.60" x2="870.80" y2="361.60" stroke="#000" stroke-width="3.00" stroke-linecap="butt"/>
<line x1="1373.80" y1="361.60" x2="1361.00" y2="361.60" stroke="#000" stroke-width="3.00" stroke-linecap="butt"/>
<line x1="858.00" y1="407.31" x2="865.00" y2="407.31" stroke="#000" stroke-width="3.00" stroke-linecap="butt"/>
<line x1="1373.80" y1="407.31" x2="1366.80" y2="407.31" stroke="#000" stroke-width="3.00" stroke-linecap="butt"/>
<line x1="858.00" y1="395.80" x2="865.00" y2="395.80" stroke="#000" stroke-width="3.00" stroke-linecap="butt"/>
<line x1="1373.80" y1="395.80" x2="1366.80" y2="395.80" stroke="#000" stroke-width="3.00" stroke-linecap="butt"/>
<line x1="858.00" y1="387.63" x2="865.00" y2="387.63" stroke="#000" stroke-width="3.00" stroke-linecap="butt"/>
<line x1="1373.80" y1="387.63" x2="1366.80" y2="387.63" stroke="#000" stroke-width="3.00" stroke-linecap="butt"/>
<line x1="858.00" y1="381.29" x2="865.00" y2="381.29" stroke="#000" stroke-width="3.00" stroke-linecap="butt"/>
<line x1="1373.80" y1="381.29" x2="1366.80" y2="381.29" stroke="#000" stroke-width="3.00" stroke-linecap="butt"/>
<line x1="858.00" y1="376.11" x2="865.00" y2="376.11" stroke="#000" stroke-width="3.00" stroke-linecap="butt"/>
<line x1="1373.80" y1="376.11" x2="1366.80" y2="376.11" stroke="#000" stroke-width="3.00" stroke-linecap="butt"/>
<line x1="858.00" y1="371.73" x2="865.00" y2="371.73" stroke="#000" stroke-width="3.00" stroke-linecap="butt"/>
<line x1="1373.80" y1="371.73" x2="1366.80" y2="371.73" stroke="#000" stroke-width="3.00" stroke-linecap="butt"/>
<line x1="858.00" y1="367.94" x2="865.00" y2="367.94" stroke="#000" stroke-width="3.00" stroke-linecap="butt"/>
<line x1="1373.80" y1="367.94" x2="1366.80" y2="367.94" stroke="#000" stroke-width="3.00" stroke-linecap="butt"/>
<line x1="858.00" y1="364.59" x2="865.00" y2="364.59" stroke="#000" stroke-width="3.00" stroke-linecap="butt"/>
<line x1="1373.80" y1="364.59" x2="1366.80" y2="364.59" stroke="#000" stroke-width="3.00" stroke-linecap="butt"/>
<line x1="858.00" y1="341.91" x2="865.00" y2="341.91" stroke="#000" stroke-width="3.00" stroke-linecap="butt"/>
<line x1="1373.80" y1="341.91" x2="1366.80" y2="341.91" stroke="#000" stroke-width="3.00" stroke-linecap="butt"/>
<line x1="858.00" y1="330.40" x2="865.00" y2="330.40" stroke="#000" stroke-width="3.00" stroke-linecap="butt"/>
<line x1="1373.80" y1="330.40" x2="1366.80" y2="330.40" stroke="#000" stroke-width="3.00" stroke-linecap="butt"/>
<line x1="858.00" y1="322.23" x2="865.00" y2="322.23" stroke="#000" stroke-width="3.00" stroke-linecap="butt"/>
<line x1="1373.80" y1="322.23" x2="1366.80" y2="322.23" stroke="#000" stroke-width="3.00" stroke-linecap="butt"/>
<line x1="858.00" y1="315.89" x2="865.00" y2="315.89" stroke="#000" stroke-width="3.00" stroke-linecap="butt"/>
<line x1="1373.80" y1="315.89" x2="1366.80" y2="315.89" stroke="#000" stroke-width="3.00" stroke-linecap="butt"/>
<line x1="858.00" y1="310.71" x2="865.00" y2="310.71" stroke="#000" stroke-width="3.00" stroke-linecap="butt"/>
<line x1="1373.80" y1="310.71" x2="1366.80" y2="310.71" stroke="#000" stroke-width="3.00" stroke-linecap="butt"/>
<line x1="860.70" y1="140.00" x2="860.70" y2="183.60" stroke="#7fb5f0" stroke-width="1.40" stroke-linecap="butt"/>
<line x1="870.90" y1="183.60" x2="870.90" y2="67.50" stroke="#2082e8" stroke-width="4.40" stroke-linecap="round"/>
<line x1="884.00" y1="183.60" x2="884.00" y2="68.40" stroke="#2082e8" stroke-width="4.40" stroke-linecap="round"/>
<line x1="896.70" y1="183.60" x2="896.70" y2="70.60" stroke="#2082e8" stroke-width="4.40" stroke-linecap="round"/>
<line x1="909.80" y1="183.60" x2="909.80" y2="78.10" stroke="#2082e8" stroke-width="4.40" stroke-linecap="round"/>
<line x1="922.50" y1="183.60" x2="922.50" y2="119.40" stroke="#2082e8" stroke-width="4.40" stroke-linecap="round"/>
<line x1="935.30" y1="183.60" x2="935.30" y2="65.60" stroke="#2082e8" stroke-width="4.40" stroke-linecap="round"/>
<line x1="948.40" y1="183.60" x2="948.40" y2="78.70" stroke="#2082e8" stroke-width="4.40" stroke-linecap="round"/>
<line x1="961.10" y1="183.60" x2="961.10" y2="69.30" stroke="#2082e8" stroke-width="4.40" stroke-linecap="round"/>
<line x1="974.20" y1="183.60" x2="974.20" y2="72.50" stroke="#2082e8" stroke-width="4.40" stroke-linecap="round"/>
<line x1="986.90" y1="183.60" x2="986.90" y2="65.60" stroke="#2082e8" stroke-width="4.40" stroke-linecap="round"/>
<line x1="1000.00" y1="183.60" x2="1000.00" y2="70.30" stroke="#2082e8" stroke-width="4.40" stroke-linecap="round"/>
<line x1="1006.90" y1="183.60" x2="1006.90" y2="173.00" stroke="#2082e8" stroke-width="4.40" stroke-linecap="round"/>
<line x1="1012.80" y1="183.60" x2="1012.80" y2="72.50" stroke="#2082e8" stroke-width="4.40" stroke-linecap="round"/>
<line x1="1025.50" y1="183.60" x2="1025.50" y2="166.50" stroke="#2082e8" stroke-width="4.40" stroke-linecap="round"/>
<line x1="1038.20" y1="183.60" x2="1038.20" y2="125.40" stroke="#2082e8" stroke-width="4.40" stroke-linecap="round"/>
<line x1="1052.60" y1="183.60" x2="1052.60" y2="173.00" stroke="#2082e8" stroke-width="4.40" stroke-linecap="round"/>
<line x1="1064.20" y1="183.60" x2="1064.20" y2="66.50" stroke="#2082e8" stroke-width="4.40" stroke-linecap="round"/>
<line x1="1076.90" y1="183.60" x2="1076.90" y2="110.80" stroke="#2082e8" stroke-width="4.40" stroke-linecap="round"/>
<line x1="1090.00" y1="183.60" x2="1090.00" y2="69.70" stroke="#2082e8" stroke-width="4.40" stroke-linecap="round"/>
<line x1="1115.70" y1="183.60" x2="1115.70" y2="161.80" stroke="#2082e8" stroke-width="4.40" stroke-linecap="round"/>
<line x1="1128.60" y1="183.60" x2="1128.60" y2="70.50" stroke="#2082e8" stroke-width="4.40" stroke-linecap="round"/>
<line x1="1141.40" y1="183.60" x2="1141.40" y2="70.50" stroke="#2082e8" stroke-width="4.40" stroke-linecap="round"/>
<line x1="1150.90" y1="183.60" x2="1150.90" y2="172.30" stroke="#2082e8" stroke-width="4.40" stroke-linecap="round"/>
<line x1="1154.10" y1="183.60" x2="1154.10" y2="127.60" stroke="#2082e8" stroke-width="4.40" stroke-linecap="round"/>
<line x1="1167.50" y1="183.60" x2="1167.50" y2="71.00" stroke="#2082e8" stroke-width="4.40" stroke-linecap="round"/>
<line x1="1180.40" y1="183.60" x2="1180.40" y2="78.10" stroke="#2082e8" stroke-width="4.40" stroke-linecap="round"/>
<line x1="1193.10" y1="183.60" x2="1193.10" y2="65.70" stroke="#2082e8" stroke-width="4.40" stroke-linecap="round"/>
<line x1="1196.00" y1="183.60" x2="1196.00" y2="172.30" stroke="#2082e8" stroke-width="4.40" stroke-linecap="round"/>
<line x1="1206.10" y1="183.60" x2="1206.10" y2="65.70" stroke="#2082e8" stroke-width="4.40" stroke-linecap="round"/>
<line x1="1218.80" y1="183.60" x2="1218.80" y2="76.20" stroke="#2082e8" stroke-width="4.40" stroke-linecap="round"/>
<line x1="1231.80" y1="183.60" x2="1231.80" y2="66.70" stroke="#2082e8" stroke-width="4.40" stroke-linecap="round"/>
<line x1="1244.70" y1="183.60" x2="1244.70" y2="65.70" stroke="#2082e8" stroke-width="4.40" stroke-linecap="round"/>
<line x1="1257.50" y1="183.60" x2="1257.50" y2="172.30" stroke="#2082e8" stroke-width="4.40" stroke-linecap="round"/>
<line x1="1283.10" y1="183.60" x2="1283.10" y2="65.70" stroke="#2082e8" stroke-width="4.40" stroke-linecap="round"/>
<line x1="1296.10" y1="183.60" x2="1296.10" y2="65.70" stroke="#2082e8" stroke-width="4.40" stroke-linecap="round"/>
<line x1="1308.80" y1="183.60" x2="1308.80" y2="82.00" stroke="#2082e8" stroke-width="4.40" stroke-linecap="round"/>
<line x1="1321.80" y1="183.60" x2="1321.80" y2="80.00" stroke="#2082e8" stroke-width="4.40" stroke-linecap="round"/>
<line x1="1347.80" y1="183.60" x2="1347.80" y2="67.60" stroke="#2082e8" stroke-width="4.40" stroke-linecap="round"/>
<line x1="1360.80" y1="183.60" x2="1360.80" y2="66.70" stroke="#2082e8" stroke-width="4.40" stroke-linecap="round"/>
<line x1="1369.20" y1="183.60" x2="1369.20" y2="172.30" stroke="#2082e8" stroke-width="4.40" stroke-linecap="round"/>
<line x1="858.00" y1="183.50" x2="1373.80" y2="183.50" stroke="#2082e8" stroke-width="1.60" stroke-linecap="butt"/>
<line x1="870.90" y1="306.00" x2="870.90" y2="211.80" stroke="#2082e8" stroke-width="4.40" stroke-linecap="round"/>
<line x1="884.00" y1="306.00" x2="884.00" y2="194.00" stroke="#2082e8" stroke-width="4.40" stroke-linecap="round"/>
<line x1="886.80" y1="306.00" x2="886.80" y2="293.00" stroke="#2082e8" stroke-width="4.40" stroke-linecap="round"/>
<line x1="896.70" y1="306.00" x2="896.70" y2="190.30" stroke="#2082e8" stroke-width="4.40" stroke-linecap="round"/>
<line x1="900.80" y1="306.00" x2="900.80" y2="293.00" stroke="#2082e8" stroke-width="4.40" stroke-linecap="round"/>
<line x1="909.80" y1="306.00" x2="909.80" y2="239.80" stroke="#2082e8" stroke-width="4.40" stroke-linecap="round"/>
<line x1="922.50" y1="306.00" x2="922.50" y2="285.50" stroke="#2082e8" stroke-width="4.40" stroke-linecap="round"/>
<line x1="931.60" y1="306.00" x2="931.60" y2="293.00" stroke="#2082e8" stroke-width="4.40" stroke-linecap="round"/>
<line x1="935.30" y1="306.00" x2="935.30" y2="215.50" stroke="#2082e8" stroke-width="4.40" stroke-linecap="round"/>
<line x1="943.40" y1="306.00" x2="943.40" y2="293.00" stroke="#2082e8" stroke-width="4.40" stroke-linecap="round"/>
<line x1="948.40" y1="306.00" x2="948.40" y2="249.10" stroke="#2082e8" stroke-width="4.40" stroke-linecap="round"/>
<line x1="961.10" y1="306.00" x2="961.10" y2="187.00" stroke="#2082e8" stroke-width="4.40" stroke-linecap="round"/>
<line x1="974.20" y1="306.00" x2="974.20" y2="225.80" stroke="#2082e8" stroke-width="4.40" stroke-linecap="round"/>
<line x1="986.90" y1="306.00" x2="986.90" y2="197.70" stroke="#2082e8" stroke-width="4.40" stroke-linecap="round"/>
<line x1="1000.00" y1="306.00" x2="1000.00" y2="187.00" stroke="#2082e8" stroke-width="4.40" stroke-linecap="round"/>
<line x1="1012.80" y1="306.00" x2="1012.80" y2="188.40" stroke="#2082e8" stroke-width="4.40" stroke-linecap="round"/>
<line x1="1038.20" y1="306.00" x2="1038.20" y2="280.90" stroke="#2082e8" stroke-width="4.40" stroke-linecap="round"/>
<line x1="1062.90" y1="306.00" x2="1062.90" y2="293.00" stroke="#2082e8" stroke-width="4.40" stroke-linecap="round"/>
<line x1="1064.20" y1="306.00" x2="1064.20" y2="209.90" stroke="#2082e8" stroke-width="4.40" stroke-linecap="round"/>
<line x1="1066.60" y1="306.00" x2="1066.60" y2="293.00" stroke="#2082e8" stroke-width="4.40" stroke-linecap="round"/>
<line x1="1076.90" y1="306.00" x2="1076.90" y2="276.20" stroke="#2082e8" stroke-width="4.40" stroke-linecap="round"/>
<line x1="1087.20" y1="306.00" x2="1087.20" y2="293.00" stroke="#2082e8" stroke-width="4.40" stroke-linecap="round"/>
<line x1="1090.00" y1="306.00" x2="1090.00" y2="187.00" stroke="#2082e8" stroke-width="4.40" stroke-linecap="round"/>
<line x1="1101.70" y1="306.00" x2="1101.70" y2="293.00" stroke="#2082e8" stroke-width="4.40" stroke-linecap="round"/>
<line x1="1114.20" y1="306.00" x2="1114.20" y2="187.50" stroke="#2082e8" stroke-width="4.40" stroke-linecap="round"/>
<line x1="1128.60" y1="306.00" x2="1128.60" y2="187.60" stroke="#2082e8" stroke-width="4.40" stroke-linecap="round"/>
<line x1="1141.40" y1="306.00" x2="1141.40" y2="189.50" stroke="#2082e8" stroke-width="4.40" stroke-linecap="round"/>
<line x1="1145.20" y1="306.00" x2="1145.20" y2="294.20" stroke="#2082e8" stroke-width="4.40" stroke-linecap="round"/>
<line x1="1154.70" y1="306.00" x2="1154.70" y2="292.30" stroke="#2082e8" stroke-width="4.40" stroke-linecap="round"/>
<line x1="1161.80" y1="306.00" x2="1161.80" y2="292.30" stroke="#2082e8" stroke-width="4.40" stroke-linecap="round"/>
<line x1="1167.50" y1="306.00" x2="1167.50" y2="225.30" stroke="#2082e8" stroke-width="4.40" stroke-linecap="round"/>
<line x1="1176.60" y1="306.00" x2="1176.60" y2="292.30" stroke="#2082e8" stroke-width="4.40" stroke-linecap="round"/>
<line x1="1180.40" y1="306.00" x2="1180.40" y2="235.20" stroke="#2082e8" stroke-width="4.40" stroke-linecap="round"/>
<line x1="1187.40" y1="306.00" x2="1187.40" y2="292.30" stroke="#2082e8" stroke-width="4.40" stroke-linecap="round"/>
<line x1="1193.10" y1="306.00" x2="1193.10" y2="200.00" stroke="#2082e8" stroke-width="4.40" stroke-linecap="round"/>
<line x1="1206.10" y1="306.00" x2="1206.10" y2="195.20" stroke="#2082e8" stroke-width="4.40" stroke-linecap="round"/>
<line x1="1212.20" y1="306.00" x2="1212.20" y2="292.30" stroke="#2082e8" stroke-width="4.40" stroke-linecap="round"/>
<line x1="1218.80" y1="306.00" x2="1218.80" y2="232.90" stroke="#2082e8" stroke-width="4.40" stroke-linecap="round"/>
<line x1="1227.60" y1="306.00" x2="1227.60" y2="292.30" stroke="#2082e8" stroke-width="4.40" stroke-linecap="round"/>
<line x1="1231.80" y1="306.00" x2="1231.80" y2="211.40" stroke="#2082e8" stroke-width="4.40" stroke-linecap="round"/>
<line x1="1244.70" y1="306.00" x2="1244.70" y2="200.00" stroke="#2082e8" stroke-width="4.40" stroke-linecap="round"/>
<line x1="1254.60" y1="306.00" x2="1254.60" y2="292.30" stroke="#2082e8" stroke-width="4.40" stroke-linecap="round"/>
<line x1="1281.20" y1="306.00" x2="1281.20" y2="292.30" stroke="#2082e8" stroke-width="4.40" stroke-linecap="round"/>
<line x1="1283.10" y1="306.00" x2="1283.10" y2="200.00" stroke="#2082e8" stroke-width="4.40" stroke-linecap="round"/>
<line x1="1288.50" y1="306.00" x2="1288.50" y2="292.30" stroke="#2082e8" stroke-width="4.40" stroke-linecap="round"/>
<line x1="1296.10" y1="306.00" x2="1296.10" y2="200.00" stroke="#2082e8" stroke-width="4.40" stroke-linecap="round"/>
<line x1="1308.80" y1="306.00" x2="1308.80" y2="285.60" stroke="#2082e8" stroke-width="4.40" stroke-linecap="round"/>
<line x1="1321.80" y1="306.00" x2="1321.80" y2="200.00" stroke="#2082e8" stroke-width="4.40" stroke-linecap="round"/>
<line x1="1326.90" y1="306.00" x2="1326.90" y2="292.30" stroke="#2082e8" stroke-width="4.40" stroke-linecap="round"/>
<line x1="1334.50" y1="306.00" x2="1334.50" y2="292.30" stroke="#2082e8" stroke-width="4.40" stroke-linecap="round"/>
<line x1="1347.80" y1="306.00" x2="1347.80" y2="200.00" stroke="#2082e8" stroke-width="4.40" stroke-linecap="round"/>
<line x1="1360.80" y1="306.00" x2="1360.80" y2="200.00" stroke="#2082e8" stroke-width="4.40" stroke-linecap="round"/>
<line x1="1363.10" y1="306.00" x2="1363.10" y2="292.30" stroke="#2082e8" stroke-width="4.40" stroke-linecap="round"/>
<line x1="858.00" y1="305.60" x2="1373.80" y2="305.60" stroke="#2082e8" stroke-width="1.80" stroke-linecap="butt"/>
<rect x="858.00" y="406.30" width="515.80" height="20.90" fill="#2082e8"/>
<rect x="866.80" y="406.00" width="2.20" height="19.60" fill="#fff"/>
<rect x="880.40" y="406.00" width="1.70" height="19.60" fill="#fff"/>
<rect x="890.10" y="406.00" width="4.20" height="19.60" fill="#fff"/>
<rect x="901.10" y="406.00" width="0.80" height="19.60" fill="#fff"/>
<rect x="916.70" y="406.00" width="1.30" height="19.60" fill="#fff"/>
<rect x="943.00" y="406.00" width="3.80" height="19.60" fill="#fff"/>
<rect x="965.80" y="406.00" width="2.10" height="19.60" fill="#fff"/>
<rect x="977.00" y="406.00" width="2.80" height="19.60" fill="#fff"/>
<rect x="989.70" y="406.00" width="2.20" height="19.60" fill="#fff"/>
<rect x="996.60" y="406.00" width="1.90" height="19.60" fill="#fff"/>
<rect x="1019.90" y="406.00" width="1.00" height="19.60" fill="#fff"/>
<rect x="1048.90" y="406.00" width="4.60" height="19.60" fill="#fff"/>
<rect x="1057.30" y="406.00" width="1.80" height="19.60" fill="#fff"/>
<rect x="1087.20" y="406.00" width="1.80" height="19.60" fill="#fff"/>
<rect x="1100.20" y="406.00" width="2.80" height="19.60" fill="#fff"/>
<rect x="1106.80" y="406.00" width="1.80" height="19.60" fill="#fff"/>
<rect x="1117.60" y="406.00" width="1.50" height="19.60" fill="#fff"/>
<rect x="1123.70" y="406.00" width="1.50" height="19.60" fill="#fff"/>
<rect x="1222.30" y="406.00" width="2.80" height="19.60" fill="#fff"/>
<rect x="1240.30" y="406.00" width="2.90" height="19.60" fill="#fff"/>
<rect x="1253.70" y="406.00" width="6.60" height="19.60" fill="#fff"/>
<rect x="1263.20" y="406.00" width="15.20" height="19.60" fill="#fff"/>
<rect x="1291.70" y="406.00" width="2.50" height="19.60" fill="#fff"/>
<rect x="1306.00" y="406.00" width="1.90" height="19.60" fill="#fff"/>
<rect x="1313.60" y="406.00" width="3.80" height="19.60" fill="#fff"/>
<rect x="1325.00" y="406.00" width="1.90" height="19.60" fill="#fff"/>
<rect x="1335.50" y="406.00" width="1.90" height="19.60" fill="#fff"/>
<rect x="1350.70" y="406.00" width="1.90" height="19.60" fill="#fff"/>
<rect x="1356.40" y="406.00" width="1.90" height="19.60" fill="#fff"/>
<line x1="1261.30" y1="425.60" x2="1261.30" y2="407.50" stroke="#2082e8" stroke-width="4.40" stroke-linecap="round"/>
<line x1="870.90" y1="410.00" x2="870.90" y2="333.60" stroke="#2082e8" stroke-width="4.40" stroke-linecap="round"/>
<line x1="884.00" y1="410.00" x2="884.00" y2="309.30" stroke="#2082e8" stroke-width="4.40" stroke-linecap="round"/>
<line x1="888.80" y1="410.00" x2="888.80" y2="395.20" stroke="#2082e8" stroke-width="4.40" stroke-linecap="round"/>
<line x1="896.70" y1="410.00" x2="896.70" y2="314.90" stroke="#2082e8" stroke-width="4.40" stroke-linecap="round"/>
<line x1="903.20" y1="410.00" x2="903.20" y2="395.20" stroke="#2082e8" stroke-width="4.40" stroke-linecap="round"/>
<line x1="909.80" y1="410.00" x2="909.80" y2="352.30" stroke="#2082e8" stroke-width="4.40" stroke-linecap="round"/>
<line x1="935.30" y1="410.00" x2="935.30" y2="333.60" stroke="#2082e8" stroke-width="4.40" stroke-linecap="round"/>
<line x1="948.40" y1="410.00" x2="948.40" y2="356.90" stroke="#2082e8" stroke-width="4.40" stroke-linecap="round"/>
<line x1="961.10" y1="410.00" x2="961.10" y2="314.00" stroke="#2082e8" stroke-width="4.40" stroke-linecap="round"/>
<line x1="974.20" y1="410.00" x2="974.20" y2="344.80" stroke="#2082e8" stroke-width="4.40" stroke-linecap="round"/>
<line x1="986.90" y1="410.00" x2="986.90" y2="320.50" stroke="#2082e8" stroke-width="4.40" stroke-linecap="round"/>
<line x1="994.40" y1="410.00" x2="994.40" y2="395.20" stroke="#2082e8" stroke-width="4.40" stroke-linecap="round"/>
<line x1="1000.00" y1="410.00" x2="1000.00" y2="311.20" stroke="#2082e8" stroke-width="4.40" stroke-linecap="round"/>
<line x1="1012.80" y1="410.00" x2="1012.80" y2="314.90" stroke="#2082e8" stroke-width="4.40" stroke-linecap="round"/>
<line x1="1022.70" y1="410.00" x2="1022.70" y2="395.20" stroke="#2082e8" stroke-width="4.40" stroke-linecap="round"/>
<line x1="1027.40" y1="410.00" x2="1027.40" y2="395.20" stroke="#2082e8" stroke-width="4.40" stroke-linecap="round"/>
<line x1="1038.20" y1="410.00" x2="1038.20" y2="395.20" stroke="#2082e8" stroke-width="4.40" stroke-linecap="round"/>
<line x1="1043.30" y1="410.00" x2="1043.30" y2="395.20" stroke="#2082e8" stroke-width="4.40" stroke-linecap="round"/>
<line x1="1047.00" y1="410.00" x2="1047.00" y2="395.20" stroke="#2082e8" stroke-width="4.40" stroke-linecap="round"/>
<line x1="1055.40" y1="410.00" x2="1055.40" y2="395.20" stroke="#2082e8" stroke-width="4.40" stroke-linecap="round"/>
<line x1="1061.00" y1="410.00" x2="1061.00" y2="395.20" stroke="#2082e8" stroke-width="4.40" stroke-linecap="round"/>
<line x1="1064.20" y1="410.00" x2="1064.20" y2="334.50" stroke="#2082e8" stroke-width="4.40" stroke-linecap="round"/>
<line x1="1081.60" y1="410.00" x2="1081.60" y2="395.20" stroke="#2082e8" stroke-width="4.40" stroke-linecap="round"/>
<line x1="1084.40" y1="410.00" x2="1084.40" y2="395.20" stroke="#2082e8" stroke-width="4.40" stroke-linecap="round"/>
<line x1="1090.00" y1="410.00" x2="1090.00" y2="309.30" stroke="#2082e8" stroke-width="4.40" stroke-linecap="round"/>
<line x1="1114.80" y1="410.00" x2="1114.80" y2="395.10" stroke="#2082e8" stroke-width="4.40" stroke-linecap="round"/>
<line x1="1128.60" y1="410.00" x2="1128.60" y2="309.50" stroke="#2082e8" stroke-width="4.40" stroke-linecap="round"/>
<line x1="1142.00" y1="410.00" x2="1142.00" y2="316.70" stroke="#2082e8" stroke-width="4.40" stroke-linecap="round"/>
<line x1="1159.90" y1="410.00" x2="1159.90" y2="394.50" stroke="#2082e8" stroke-width="4.40" stroke-linecap="round"/>
<line x1="1162.30" y1="410.00" x2="1162.30" y2="394.50" stroke="#2082e8" stroke-width="4.40" stroke-linecap="round"/>
<line x1="1167.50" y1="410.00" x2="1167.50" y2="341.80" stroke="#2082e8" stroke-width="4.40" stroke-linecap="round"/>
<line x1="1171.80" y1="410.00" x2="1171.80" y2="394.50" stroke="#2082e8" stroke-width="4.40" stroke-linecap="round"/>
<line x1="1180.40" y1="410.00" x2="1180.40" y2="350.40" stroke="#2082e8" stroke-width="4.40" stroke-linecap="round"/>
<line x1="1193.10" y1="410.00" x2="1193.10" y2="320.00" stroke="#2082e8" stroke-width="4.40" stroke-linecap="round"/>
<line x1="1206.10" y1="410.00" x2="1206.10" y2="315.60" stroke="#2082e8" stroke-width="4.40" stroke-linecap="round"/>
<line x1="1218.80" y1="410.00" x2="1218.80" y2="360.50" stroke="#2082e8" stroke-width="4.40" stroke-linecap="round"/>
<line x1="1231.80" y1="410.00" x2="1231.80" y2="328.50" stroke="#2082e8" stroke-width="4.40" stroke-linecap="round"/>
<line x1="1244.70" y1="410.00" x2="1244.70" y2="330.00" stroke="#2082e8" stroke-width="4.40" stroke-linecap="round"/>
<line x1="1283.10" y1="410.00" x2="1283.10" y2="330.00" stroke="#2082e8" stroke-width="4.40" stroke-linecap="round"/>
<line x1="1286.00" y1="410.00" x2="1286.00" y2="394.50" stroke="#2082e8" stroke-width="4.40" stroke-linecap="round"/>
<line x1="1296.10" y1="410.00" x2="1296.10" y2="330.00" stroke="#2082e8" stroke-width="4.40" stroke-linecap="round"/>
<line x1="1321.80" y1="410.00" x2="1321.80" y2="330.00" stroke="#2082e8" stroke-width="4.40" stroke-linecap="round"/>
<line x1="1330.70" y1="410.00" x2="1330.70" y2="386.50" stroke="#2082e8" stroke-width="4.40" stroke-linecap="round"/>
<line x1="1347.80" y1="410.00" x2="1347.80" y2="330.00" stroke="#2082e8" stroke-width="4.40" stroke-linecap="round"/>
<line x1="1360.80" y1="410.00" x2="1360.80" y2="330.00" stroke="#2082e8" stroke-width="4.40" stroke-linecap="round"/>
<line x1="858.00" y1="427.20" x2="1373.80" y2="427.20" stroke="#2082e8" stroke-width="3.40" stroke-linecap="butt"/>
<rect x="858.00" y="64.30" width="515.80" height="121.90" fill="none" stroke="#000" stroke-width="3.20"/>
<rect x="858.00" y="186.20" width="515.80" height="122.30" fill="none" stroke="#000" stroke-width="3.20"/>
<rect x="858.00" y="308.50" width="515.80" height="122.00" fill="none" stroke="#000" stroke-width="3.20"/>
<rect x="1234.0" y="71.30" width="135.0" height="53.3" rx="7.2" ry="7.2" fill="#fff" stroke="#000" stroke-width="3.6"/>
<g transform="translate(1245.60,91.20) scale(1.0116,0.9917)" fill="none" stroke="#000" stroke-linecap="round"><path d="M1.0,5.6 C1.8,3.0 3.2,0.9 4.9,0.9 C6.5,0.9 6.9,2.4 6.6,4.0" stroke-width="1.5"/><path d="M6.6,4.0 L3.1,15.4" stroke-width="2.3"/><path d="M5.6,8.0 C7.4,3.6 10.0,0.8 13.0,0.8 C15.6,0.8 16.9,2.5 16.5,5.2" stroke-width="1.5"/><path d="M16.5,5.2 L11.4,22.9" stroke-width="2.4"/></g>
<rect x="1275.70" y="93.33" width="24.60" height="1.75" fill="#000"/>
<rect x="1275.70" y="100.83" width="24.60" height="1.75" fill="#000"/>
<text x="1311.81" y="107.50" font-size="37.50" font-family="Liberation Serif" fill="#000" textLength="46.52" lengthAdjust="spacingAndGlyphs">0.1</text>
<rect x="1234.0" y="193.30" width="135.0" height="53.3" rx="7.2" ry="7.2" fill="#fff" stroke="#000" stroke-width="3.6"/>
<g transform="translate(1245.60,213.20) scale(1.0116,0.9917)" fill="none" stroke="#000" stroke-linecap="round"><path d="M1.0,5.6 C1.8,3.0 3.2,0.9 4.9,0.9 C6.5,0.9 6.9,2.4 6.6,4.0" stroke-width="1.5"/><path d="M6.6,4.0 L3.1,15.4" stroke-width="2.3"/><path d="M5.6,8.0 C7.4,3.6 10.0,0.8 13.0,0.8 C15.6,0.8 16.9,2.5 16.5,5.2" stroke-width="1.5"/><path d="M16.5,5.2 L11.4,22.9" stroke-width="2.4"/></g>
<rect x="1275.70" y="215.32" width="24.60" height="1.75" fill="#000"/>
<rect x="1275.70" y="222.82" width="24.60" height="1.75" fill="#000"/>
<text x="1311.82" y="229.50" font-size="37.50" font-family="Liberation Serif" fill="#000" textLength="46.32" lengthAdjust="spacingAndGlyphs">0.2</text>
<rect x="1234.0" y="315.30" width="135.0" height="53.3" rx="7.2" ry="7.2" fill="#fff" stroke="#000" stroke-width="3.6"/>
<g transform="translate(1245.60,335.20) scale(1.0116,0.9917)" fill="none" stroke="#000" stroke-linecap="round"><path d="M1.0,5.6 C1.8,3.0 3.2,0.9 4.9,0.9 C6.5,0.9 6.9,2.4 6.6,4.0" stroke-width="1.5"/><path d="M6.6,4.0 L3.1,15.4" stroke-width="2.3"/><path d="M5.6,8.0 C7.4,3.6 10.0,0.8 13.0,0.8 C15.6,0.8 16.9,2.5 16.5,5.2" stroke-width="1.5"/><path d="M16.5,5.2 L11.4,22.9" stroke-width="2.4"/></g>
<rect x="1275.70" y="337.32" width="24.60" height="1.75" fill="#000"/>
<rect x="1275.70" y="344.82" width="24.60" height="1.75" fill="#000"/>
<text x="1311.84" y="351.50" font-size="37.50" font-family="Liberation Serif" fill="#000" textLength="45.73" lengthAdjust="spacingAndGlyphs">0.3</text>
<text x="830.37" y="76.30" font-size="27.50" font-family="Liberation Serif" fill="#000" textLength="14.82" lengthAdjust="spacingAndGlyphs">3</text>
<text x="793.40" y="89.20" font-size="37.50" font-family="Liberation Serif" fill="#000">10</text>
<text x="832.35" y="148.70" font-size="27.50" font-family="Liberation Serif" fill="#000" textLength="13.24" lengthAdjust="spacingAndGlyphs">1</text>
<text x="794.80" y="161.60" font-size="37.50" font-family="Liberation Serif" fill="#000">10</text>
<text x="830.32" y="223.40" font-size="27.50" font-family="Liberation Serif" fill="#000" textLength="15.38" lengthAdjust="spacingAndGlyphs">2</text>
<text x="793.40" y="236.30" font-size="37.50" font-family="Liberation Serif" fill="#000">10</text>
<text x="832.35" y="265.40" font-size="27.50" font-family="Liberation Serif" fill="#000" textLength="13.24" lengthAdjust="spacingAndGlyphs">1</text>
<text x="794.80" y="278.30" font-size="37.50" font-family="Liberation Serif" fill="#000">10</text>
<text x="830.53" y="307.40" font-size="27.50" font-family="Liberation Serif" fill="#000" textLength="14.64" lengthAdjust="spacingAndGlyphs">0</text>
<text x="793.40" y="320.30" font-size="37.50" font-family="Liberation Serif" fill="#000">10</text>
<text x="832.35" y="362.00" font-size="27.50" font-family="Liberation Serif" fill="#000" textLength="13.24" lengthAdjust="spacingAndGlyphs">1</text>
<text x="794.80" y="374.90" font-size="37.50" font-family="Liberation Serif" fill="#000">10</text>
<text x="830.53" y="427.40" font-size="27.50" font-family="Liberation Serif" fill="#000" textLength="14.64" lengthAdjust="spacingAndGlyphs">0</text>
<text x="793.40" y="440.30" font-size="37.50" font-family="Liberation Serif" fill="#000">10</text>
<text x="848.62" y="469.20" font-size="37.50" font-family="Liberation Serif" fill="#000">0</text>
<text x="949.36" y="469.20" font-size="37.50" font-family="Liberation Serif" fill="#000">2500</text>
<text x="1078.03" y="469.20" font-size="37.50" font-family="Liberation Serif" fill="#000">5000</text>
<text x="1206.88" y="469.20" font-size="37.50" font-family="Liberation Serif" fill="#000">7500</text>
<text x="1326.08" y="469.20" font-size="37.50" font-family="Liberation Serif" fill="#000">10000</text>
<text x="1107.15" y="515.27" font-size="42.61" font-family="Liberation Serif" font-style="italic" fill="#000" textLength="13.29" lengthAdjust="spacingAndGlyphs">t</text>
<g transform="translate(776.00,378.20) rotate(-90)"><text x="-1.20" y="-0.37" font-size="37.06" font-family="Liberation Serif" fill="#000" textLength="264.40" lengthAdjust="spacingAndGlyphs">Number of turns</text></g>
<text x="736.72" y="37.64" font-size="52.00" font-family="Liberation Serif" font-weight="bold" fill="#000" textLength="32.05" lengthAdjust="spacingAndGlyphs">b</text>
<text x="769.65" y="38.83" font-size="58.00" font-family="Liberation Serif" fill="#000" textLength="18.32" lengthAdjust="spacingAndGlyphs">)</text>
<polyline points="160.1,593.3 198.2,626.1 220.5,634.9 236.3,638.4 248.6,641.3" fill="none" stroke="#2082e8" stroke-width="4.20" stroke-linejoin="round" stroke-linecap="square"/>
<path d="M248.60,641.30 L249.29,641.42 L249.98,641.53 L250.67,641.65 L251.36,641.77 L252.05,641.90 L252.75,642.02 L253.44,642.14 L254.13,642.26 L254.82,642.38 L255.51,642.50 L256.20,642.61 L256.89,642.73 L257.58,642.84 L258.28,642.95 L258.97,643.06 L259.66,643.16 L260.36,643.26 L261.05,643.36 L261.74,643.45 L262.44,643.54 L263.14,643.63 L263.83,643.71 L264.53,643.78 L265.23,643.85 L265.92,643.92 L266.62,643.98 L267.32,644.03 L268.02,644.07 L268.72,644.12 L269.42,644.15 L270.12,644.18 L270.82,644.20 L271.52,644.22 L272.22,644.24 L272.93,644.25 L273.63,644.25 L274.33,644.26 L275.03,644.26 L275.73,644.26 L276.43,644.26 L277.13,644.26 L277.83,644.26 L278.53,644.26 L279.24,644.27 L279.94,644.27 L280.64,644.28 L281.34,644.28 L282.04,644.29 L282.74,644.30 L283.44,644.31 L284.14,644.33 L284.84,644.34 L285.54,644.36 L286.25,644.38 L286.95,644.40 L287.65,644.42 L288.35,644.44 L289.05,644.47 L289.75,644.49 L290.45,644.52 L291.15,644.55 L291.85,644.58 L292.55,644.61 L293.25,644.64 L293.95,644.67 L294.65,644.71 L295.35,644.74 L296.05,644.77 L296.75,644.80 L297.45,644.84 L298.15,644.87 L298.85,644.91 L299.55,644.94 L300.26,644.97 L300.96,645.01 L301.66,645.04 L302.36,645.08 L303.06,645.12 L303.76,645.15 L304.46,645.19 L305.16,645.22 L305.86,645.26 L306.56,645.29 L307.26,645.33 L307.96,645.37 L308.66,645.40 L309.36,645.44 L310.06,645.48 L310.76,645.51 L311.46,645.55 L312.16,645.59 L312.86,645.62 L313.56,645.66 L314.26,645.70 L314.96,645.73 L315.66,645.77 L316.36,645.80 L317.06,645.84 L317.76,645.88 L318.46,645.91 L319.16,645.95 L319.86,645.99 L320.56,646.02 L321.26,646.06 L321.96,646.09 L322.66,646.13 L323.36,646.17 L324.06,646.20 L324.76,646.24 L325.46,646.27 L326.16,646.31 L326.86,646.34 L327.56,646.38 L328.26,646.41 L328.96,646.45 L329.66,646.48 L330.36,646.52 L331.06,646.55 L331.76,646.59 L332.46,646.62 L333.17,646.65 L333.87,646.69 L334.57,646.72 L335.27,646.75 L335.97,646.79 L336.67,646.82 L337.37,646.85 L338.07,646.88 L338.77,646.91 L339.47,646.94 L340.17,646.98 L340.87,647.01 L341.57,647.04 L342.27,647.07 L342.97,647.10 L343.67,647.13 L344.37,647.16 L345.07,647.18 L345.77,647.21 L346.47,647.24 L347.17,647.27 L347.87,647.30 L348.58,647.33 L349.28,647.36 L349.98,647.38 L350.68,647.41 L351.38,647.44 L352.08,647.47 L352.78,647.49 L353.48,647.52 L354.18,647.55 L354.88,647.57 L355.58,647.60 L356.28,647.63 L356.98,647.65 L357.68,647.68 L358.38,647.71 L359.08,647.73 L359.79,647.76 L360.49,647.78 L361.19,647.81 L361.89,647.83 L362.59,647.86 L363.29,647.89 L363.99,647.91 L364.69,647.94 L365.39,647.96 L366.09,647.99 L366.79,648.01 L367.49,648.04 L368.19,648.06 L368.89,648.09 L369.59,648.11 L370.30,648.14 L371.00,648.16 L371.70,648.19 L372.40,648.21 L373.10,648.24 L373.80,648.26 L374.50,648.29 L375.20,648.31 L375.90,648.34 L376.60,648.36 L377.30,648.39 L378.00,648.41 L378.70,648.44 L379.40,648.46 L380.10,648.49 L380.81,648.51 L381.51,648.54 L382.21,648.56 L382.91,648.59 L383.61,648.61 L384.31,648.64 L385.01,648.66 L385.71,648.69 L386.41,648.71 L387.11,648.74 L387.81,648.76 L388.51,648.79 L389.21,648.82 L389.91,648.84 L390.61,648.87 L391.32,648.89 L392.02,648.92 L392.72,648.95 L393.42,648.97 L394.12,649.00 L394.82,649.02 L395.52,649.05 L396.22,649.08 L396.92,649.10 L397.62,649.13 L398.32,649.15 L399.02,649.18 L399.72,649.21 L400.42,649.23 L401.12,649.26 L401.82,649.28 L402.53,649.31 L403.23,649.33 L403.93,649.36 L404.63,649.39 L405.33,649.41 L406.03,649.44 L406.73,649.46 L407.43,649.49 L408.13,649.51 L408.83,649.54 L409.53,649.57 L410.23,649.59 L410.93,649.62 L411.63,649.64 L412.33,649.67 L413.04,649.69 L413.74,649.72 L414.44,649.75 L415.14,649.77 L415.84,649.80 L416.54,649.82 L417.24,649.85 L417.94,649.87 L418.64,649.90 L419.34,649.93 L420.04,649.95 L420.74,649.98 L421.44,650.00 L422.14,650.03 L422.84,650.06 L423.55,650.08 L424.25,650.11 L424.95,650.13 L425.65,650.16 L426.35,650.19 L427.05,650.21 L427.75,650.24 L428.45,650.27 L429.15,650.29 L429.85,650.32 L430.55,650.35 L431.25,650.37 L431.95,650.40 L432.65,650.43 L433.35,650.45 L434.05,650.48 L434.76,650.51 L435.46,650.53 L436.16,650.56 L436.86,650.59 L437.56,650.62 L438.26,650.64 L438.96,650.67 L439.66,650.70 L440.36,650.73 L441.06,650.75 L441.76,650.78 L442.46,650.81 L443.16,650.84 L443.86,650.87 L444.56,650.90 L445.26,650.93 L445.96,650.96 L446.66,650.99 L447.36,651.02 L448.07,651.05 L448.77,651.08 L449.47,651.11 L450.17,651.14 L450.87,651.18 L451.57,651.21 L452.27,651.24 L452.97,651.27 L453.67,651.31 L454.37,651.34 L455.07,651.37 L455.77,651.41 L456.47,651.44 L457.17,651.48 L457.87,651.51 L458.57,651.55 L459.27,651.58 L459.97,651.62 L460.67,651.65 L461.37,651.69 L462.07,651.72 L462.77,651.76 L463.47,651.79 L464.17,651.83 L464.87,651.86 L465.57,651.89 L466.27,651.93 L466.97,651.96 L467.67,651.99 L468.37,652.02 L469.07,652.06 L469.78,652.09 L470.48,652.12 L471.18,652.15 L471.88,652.17 L472.58,652.20 L473.28,652.23 L473.98,652.25 L474.68,652.28 L475.38,652.30 L476.08,652.32 L476.78,652.34 L477.48,652.37 L478.18,652.39 L478.88,652.41 L479.59,652.43 L480.29,652.45 L480.99,652.47 L481.69,652.49 L482.39,652.51 L483.09,652.54 L483.79,652.56 L484.49,652.58 L485.19,652.61 L485.89,652.63 L486.59,652.66 L487.29,652.69 L487.99,652.72 L488.69,652.75 L489.39,652.78 L490.09,652.81 L490.80,652.85 L491.50,652.88 L492.20,652.92 L492.90,652.96 L493.60,653.00 L494.30,653.04 L494.99,653.09 L495.69,653.13 L496.39,653.18 L497.09,653.23 L497.79,653.28 L498.49,653.33 L499.19,653.39 L499.89,653.44 L500.59,653.50 L501.29,653.56 L501.99,653.61 L502.68,653.67 L503.38,653.73 L504.08,653.79 L504.78,653.85 L505.48,653.91 L506.18,653.97 L506.88,654.04 L507.57,654.10 L508.27,654.16 L508.97,654.23 L509.67,654.29 L510.37,654.36 L511.06,654.43 L511.76,654.49 L512.46,654.56 L513.16,654.63 L513.86,654.70 L514.55,654.76 L515.25,654.83 L515.95,654.90 L516.65,654.97 L517.34,655.04 L518.04,655.11 L518.74,655.19 L519.44,655.26 L520.13,655.33 L520.83,655.40 L521.53,655.47 L522.23,655.55 L522.92,655.62 L523.62,655.70 L524.32,655.77 L525.01,655.85 L525.71,655.92 L526.41,656.00 L527.11,656.07 L527.80,656.15 L528.50,656.23 L529.20,656.31 L529.89,656.38 L530.59,656.46 L531.29,656.54 L531.98,656.62 L532.68,656.70 L533.38,656.78 L534.07,656.86 L534.77,656.94 L535.47,657.03 L536.16,657.11 L536.86,657.19 L537.55,657.28 L538.25,657.36 L538.95,657.45 L539.64,657.53 L540.34,657.62 L541.03,657.70 L541.73,657.79 L542.42,657.88 L543.12,657.97 L543.82,658.05 L544.51,658.14 L545.21,658.23 L545.90,658.32 L546.60,658.41 L547.29,658.50 L547.99,658.60 L548.68,658.69 L549.38,658.78 L550.07,658.88 L550.77,658.97 L551.46,659.07 L552.16,659.16 L552.85,659.26 L553.54,659.35 L554.24,659.45 L554.93,659.55 L555.63,659.65 L556.32,659.75 L557.01,659.85 L557.71,659.96 L558.40,660.06 L559.10,660.16 L559.79,660.27 L560.48,660.38 L561.17,660.48 L561.87,660.59 L562.56,660.70 L563.25,660.82 L563.94,660.93 L564.63,661.05 L565.32,661.16 L566.02,661.29 L566.71,661.41 L567.40,661.53 L568.09,661.66 L568.77,661.79 L569.46,661.93 L570.15,662.06 L570.84,662.21 L571.52,662.35 L572.21,662.51 L572.89,662.67 L573.57,662.84 L574.24,663.02 L574.92,663.22 L575.58,663.43 L576.25,663.65 L576.90,663.89 L577.56,664.14 L578.21,664.41 L578.85,664.68 L579.50,664.96 L580.14,665.25 L580.77,665.54 L581.41,665.83 L582.04,666.13 L582.68,666.44 L583.30,666.75 L583.93,667.06 L584.55,667.39 L585.17,667.72 L585.78,668.06 L586.39,668.40 L587.00,668.76 L587.60,669.12 L588.19,669.48 L588.79,669.86 L589.37,670.24 L589.95,670.63 L590.53,671.03 L591.10,671.44 L591.67,671.85 L592.23,672.27 L592.78,672.70 L593.33,673.14 L593.87,673.58 L594.41,674.03 L594.94,674.49 L595.46,674.96 L595.98,675.43 L596.50,675.90 L597.01,676.38 L597.51,676.87 L598.02,677.36 L598.52,677.85 L599.01,678.34 L599.51,678.84 L600.00,679.34 L600.49,679.84 L600.97,680.35 L601.46,680.86 L601.94,681.36 L602.42,681.88 L602.90,682.39 L603.37,682.91 L603.85,683.42 L604.32,683.94 L604.79,684.46 L605.26,684.98 L605.72,685.50 L606.19,686.03 L606.66,686.55 L607.12,687.08 L607.59,687.60 L608.05,688.13 L608.50,688.67 L608.94,689.21 L609.37,689.76 L609.78,690.33 L610.17,690.91 L610.55,691.50 L610.91,692.10 L611.25,692.71 L611.58,693.32 L611.90,693.95 L612.21,694.58 L612.51,695.21 L612.80,695.85 L613.08,696.49 L613.35,697.14 L613.62,697.78 L613.88,698.43 L614.14,699.09 L614.40,699.74 L614.64,700.40 L614.89,701.05 L615.13,701.71 L615.36,702.37 L615.60,703.03 L615.83,703.69 L616.06,704.36 L616.28,705.02 L616.50,705.69 L616.72,706.35 L616.94,707.02 L617.16,707.69 L617.37,708.35 L617.58,709.02 L617.79,709.69 L618.00,710.36 L618.21,711.03 L618.41,711.70 L618.62,712.37 L618.82,713.04 L619.02,713.71 L619.22,714.39 L619.42,715.06 L619.62,715.73 L619.82,716.40 L620.02,717.08 L620.21,717.75 L620.41,718.42 L620.60,719.10 L620.79,719.77 L620.98,720.45 L621.17,721.12 L621.36,721.80 L621.55,722.47 L621.73,723.15 L621.92,723.82 L622.10,724.50 L622.28,725.18 L622.46,725.86 L622.63,726.54 L622.81,727.21 L622.98,727.89 L623.15,728.57 L623.32,729.25 L623.49,729.94 L623.65,730.62 L623.81,731.30 L623.97,731.98 L624.12,732.67 L624.27,733.35 L624.42,734.04 L624.56,734.72 L624.70,735.41 L624.83,736.10 L624.95,736.79 L625.08,737.48 L625.19,738.17 L625.30,738.86 L625.40,739.56 L625.49,740.25 L625.58,740.95 L625.66,741.64 L625.73,742.34 L625.80,743.04 L625.85,743.74 L625.91,744.44 L625.95,745.14 L626.00,745.84 L626.03,746.54 L626.07,747.24 L626.11,747.94 L626.14,748.64 L626.17,749.34 L626.21,750.04 L626.25,750.74 L626.28,751.44 L626.32,752.14 L626.36,752.84 L626.41,753.54 L626.45,754.24 L626.50,754.94 L626.55,755.64 L626.60,756.34 L626.65,757.03 L626.71,757.73 L626.76,758.43 L626.82,759.13 L626.87,759.83 L626.93,760.53 L626.99,761.23 L627.04,761.93 L627.10,762.63 L627.15,763.32 L627.21,764.02 L627.27,764.72 L627.32,765.42 L627.38,766.12 L627.43,766.82 L627.48,767.52 L627.54,768.22 L627.59,768.92 L627.64,769.62 L627.69,770.32 L627.74,771.02 L627.78,771.71 L627.83,772.41 L627.88,773.11 L627.92,773.81 L627.96,774.51 L628.00,775.21 L628.04,775.91 L628.08,776.61 L628.12,777.31 L628.16,778.01 L628.19,778.71 L628.22,779.41 L628.26,780.11 L628.29,780.82 L628.32,781.52 L628.34,782.22 L628.37,782.92 L628.39,783.62 L628.42,784.32 L628.44,785.02 L628.46,785.72 L628.48,786.42 L628.50,787.12 L628.51,787.82 L628.53,788.52 L628.54,789.22 L628.55,789.93 L628.56,790.63 L628.57,791.33 L628.58,792.03 L628.59,792.73 L628.60,793.43 L628.61,794.13 L628.61,794.83 L628.62,795.53 L628.62,796.24 L628.63,796.94 L628.63,797.64 L628.63,798.34 L628.64,799.04 L628.64,799.74 L628.64,800.44 L628.64,801.14 L628.64,801.84 L628.65,802.55 L628.65,803.25 L628.65,803.95 L628.65,804.65 L628.65,805.35 L628.65,806.05 L628.64,806.75 L628.64,807.45 L628.64,808.15 L628.64,808.86 L628.64,809.56 L628.64,810.26 L628.64,810.96 L628.63,811.66 L628.63,812.36 L628.63,813.06 L628.62,813.76 L628.62,814.46 L628.62,815.17 L628.62,815.87 L628.61,816.57 L628.61,817.27 L628.60,817.97 L628.60,818.67 L628.60,819.37 L628.59,820.07 L628.59,820.77 L628.58,821.48 L628.58,822.18 L628.58,822.88 L628.57,823.58 L628.57,824.28 L628.56,824.98 L628.56,825.68 L628.55,826.38 L628.55,827.08 L628.55,827.79 L628.54,828.49 L628.54,829.19 L628.53,829.89 L628.53,830.59 L628.52,831.29 L628.52,831.99 L628.52,832.69 L628.51,833.39 L628.51,834.10 L628.51,834.80 L628.50,835.50 L628.50,836.20 L628.50,836.90" fill="none" stroke="#2082e8" stroke-width="4.20" stroke-linejoin="round" stroke-linecap="butt"/>
<polyline points="160.1,593.3 198.2,632.8 220.5,655.9 236.3,661.0 248.6,665.0" fill="none" stroke="#ff621a" stroke-width="4.20" stroke-linejoin="round" stroke-linecap="square"/>
<path d="M248.60,665.00 L249.28,665.15 L249.97,665.31 L250.65,665.46 L251.34,665.62 L252.02,665.78 L252.71,665.94 L253.39,666.09 L254.07,666.25 L254.76,666.41 L255.44,666.56 L256.13,666.72 L256.81,666.87 L257.50,667.02 L258.18,667.16 L258.87,667.31 L259.56,667.45 L260.25,667.59 L260.94,667.72 L261.62,667.86 L262.31,667.98 L263.01,668.11 L263.70,668.23 L264.39,668.34 L265.08,668.45 L265.78,668.56 L266.47,668.65 L267.17,668.75 L267.86,668.84 L268.56,668.92 L269.26,669.00 L269.95,669.08 L270.65,669.16 L271.35,669.22 L272.05,669.29 L272.75,669.35 L273.45,669.41 L274.15,669.47 L274.85,669.52 L275.55,669.57 L276.25,669.62 L276.95,669.67 L277.65,669.72 L278.35,669.76 L279.05,669.81 L279.75,669.85 L280.45,669.89 L281.15,669.94 L281.85,669.98 L282.55,670.02 L283.25,670.07 L283.95,670.11 L284.65,670.15 L285.35,670.20 L286.05,670.24 L286.75,670.29 L287.45,670.33 L288.15,670.38 L288.85,670.42 L289.56,670.47 L290.26,670.52 L290.96,670.56 L291.66,670.61 L292.36,670.66 L293.06,670.70 L293.76,670.75 L294.46,670.79 L295.16,670.84 L295.86,670.88 L296.56,670.93 L297.26,670.97 L297.96,671.01 L298.66,671.06 L299.36,671.10 L300.06,671.14 L300.76,671.19 L301.46,671.23 L302.16,671.27 L302.86,671.32 L303.56,671.36 L304.26,671.40 L304.97,671.45 L305.67,671.49 L306.37,671.53 L307.07,671.57 L307.77,671.62 L308.47,671.66 L309.17,671.70 L309.87,671.75 L310.57,671.79 L311.27,671.83 L311.97,671.87 L312.67,671.92 L313.37,671.96 L314.07,672.00 L314.77,672.04 L315.47,672.09 L316.17,672.13 L316.87,672.17 L317.58,672.22 L318.28,672.26 L318.98,672.30 L319.68,672.35 L320.38,672.39 L321.08,672.43 L321.78,672.48 L322.48,672.52 L323.18,672.56 L323.88,672.61 L324.58,672.65 L325.28,672.69 L325.98,672.74 L326.68,672.78 L327.38,672.83 L328.08,672.87 L328.78,672.92 L329.48,672.96 L330.18,673.00 L330.88,673.05 L331.58,673.09 L332.29,673.14 L332.99,673.19 L333.69,673.23 L334.39,673.28 L335.09,673.32 L335.79,673.37 L336.49,673.42 L337.19,673.46 L337.89,673.51 L338.59,673.56 L339.29,673.60 L339.99,673.65 L340.69,673.70 L341.39,673.75 L342.09,673.80 L342.79,673.84 L343.49,673.89 L344.19,673.94 L344.89,673.99 L345.59,674.04 L346.29,674.08 L346.99,674.13 L347.69,674.18 L348.39,674.23 L349.09,674.28 L349.79,674.33 L350.49,674.37 L351.19,674.42 L351.89,674.47 L352.59,674.52 L353.29,674.57 L353.99,674.61 L354.69,674.66 L355.39,674.71 L356.09,674.76 L356.79,674.81 L357.49,674.86 L358.19,674.91 L358.89,674.96 L359.59,675.01 L360.29,675.05 L360.99,675.10 L361.69,675.15 L362.39,675.20 L363.09,675.25 L363.79,675.30 L364.49,675.35 L365.19,675.40 L365.89,675.45 L366.59,675.50 L367.29,675.56 L367.99,675.61 L368.69,675.66 L369.39,675.71 L370.09,675.76 L370.79,675.81 L371.49,675.86 L372.19,675.92 L372.89,675.97 L373.59,676.02 L374.29,676.08 L374.99,676.13 L375.69,676.18 L376.39,676.24 L377.09,676.29 L377.79,676.35 L378.49,676.40 L379.19,676.46 L379.89,676.51 L380.59,676.57 L381.29,676.62 L381.99,676.68 L382.69,676.74 L383.39,676.80 L384.09,676.85 L384.79,676.91 L385.49,676.97 L386.19,677.03 L386.89,677.09 L387.59,677.15 L388.29,677.21 L388.98,677.28 L389.68,677.34 L390.38,677.40 L391.08,677.47 L391.78,677.53 L392.48,677.60 L393.18,677.66 L393.88,677.73 L394.57,677.80 L395.27,677.87 L395.97,677.94 L396.67,678.01 L397.37,678.08 L398.07,678.15 L398.76,678.23 L399.46,678.30 L400.16,678.38 L400.86,678.46 L401.55,678.53 L402.25,678.61 L402.95,678.69 L403.65,678.77 L404.34,678.85 L405.04,678.93 L405.74,679.01 L406.44,679.10 L407.13,679.18 L407.83,679.26 L408.53,679.35 L409.22,679.43 L409.92,679.52 L410.62,679.60 L411.31,679.69 L412.01,679.77 L412.71,679.86 L413.40,679.95 L414.10,680.04 L414.79,680.12 L415.49,680.21 L416.19,680.30 L416.88,680.38 L417.58,680.47 L418.28,680.56 L418.97,680.65 L419.67,680.73 L420.37,680.82 L421.06,680.90 L421.76,680.99 L422.46,681.08 L423.15,681.16 L423.85,681.24 L424.55,681.33 L425.24,681.41 L425.94,681.49 L426.64,681.57 L427.34,681.65 L428.03,681.73 L428.73,681.81 L429.43,681.89 L430.13,681.96 L430.82,682.04 L431.52,682.11 L432.22,682.19 L432.92,682.26 L433.62,682.33 L434.31,682.40 L435.01,682.47 L435.71,682.53 L436.41,682.60 L437.11,682.67 L437.81,682.73 L438.51,682.80 L439.20,682.87 L439.90,682.93 L440.60,682.99 L441.30,683.06 L442.00,683.12 L442.70,683.19 L443.40,683.25 L444.10,683.31 L444.80,683.38 L445.50,683.44 L446.19,683.51 L446.89,683.57 L447.59,683.64 L448.29,683.70 L448.99,683.77 L449.69,683.84 L450.39,683.90 L451.08,683.97 L451.78,684.04 L452.48,684.12 L453.18,684.19 L453.88,684.27 L454.57,684.34 L455.27,684.42 L455.97,684.50 L456.67,684.58 L457.36,684.67 L458.06,684.75 L458.76,684.84 L459.45,684.93 L460.15,685.03 L460.84,685.12 L461.54,685.22 L462.23,685.31 L462.93,685.41 L463.62,685.51 L464.32,685.61 L465.01,685.72 L465.71,685.82 L466.40,685.92 L467.09,686.03 L467.79,686.14 L468.48,686.25 L469.17,686.36 L469.87,686.47 L470.56,686.59 L471.25,686.71 L471.94,686.82 L472.63,686.94 L473.32,687.06 L474.02,687.19 L474.71,687.31 L475.40,687.44 L476.09,687.57 L476.78,687.70 L477.47,687.83 L478.15,687.97 L478.84,688.11 L479.53,688.24 L480.22,688.38 L480.91,688.53 L481.59,688.67 L482.28,688.82 L482.96,688.97 L483.65,689.11 L484.34,689.27 L485.02,689.42 L485.71,689.57 L486.39,689.73 L487.07,689.88 L487.76,690.04 L488.44,690.20 L489.13,690.36 L489.81,690.52 L490.49,690.68 L491.18,690.84 L491.86,691.00 L492.54,691.17 L493.22,691.33 L493.90,691.50 L494.59,691.67 L495.27,691.84 L495.95,692.01 L496.63,692.18 L497.31,692.36 L497.98,692.54 L498.66,692.72 L499.34,692.90 L500.02,693.09 L500.69,693.28 L501.37,693.47 L502.04,693.66 L502.72,693.86 L503.39,694.06 L504.06,694.27 L504.73,694.47 L505.40,694.68 L506.07,694.90 L506.74,695.12 L507.40,695.34 L508.07,695.57 L508.73,695.80 L509.39,696.03 L510.05,696.27 L510.71,696.52 L511.36,696.77 L512.01,697.02 L512.67,697.28 L513.32,697.55 L513.96,697.82 L514.61,698.09 L515.26,698.37 L515.90,698.65 L516.54,698.94 L517.18,699.23 L517.82,699.52 L518.45,699.82 L519.09,700.12 L519.72,700.42 L520.35,700.73 L520.98,701.04 L521.61,701.36 L522.23,701.67 L522.86,701.99 L523.48,702.31 L524.10,702.64 L524.72,702.97 L525.34,703.30 L525.96,703.63 L526.58,703.97 L527.19,704.30 L527.80,704.64 L528.42,704.99 L529.03,705.33 L529.64,705.68 L530.25,706.02 L530.86,706.37 L531.47,706.72 L532.07,707.08 L532.68,707.43 L533.28,707.79 L533.88,708.15 L534.48,708.52 L535.08,708.89 L535.68,709.26 L536.27,709.63 L536.86,710.01 L537.45,710.39 L538.04,710.78 L538.62,711.16 L539.20,711.55 L539.79,711.95 L540.36,712.34 L540.94,712.74 L541.52,713.15 L542.09,713.55 L542.66,713.96 L543.23,714.37 L543.79,714.79 L544.36,715.21 L544.92,715.63 L545.48,716.05 L546.03,716.48 L546.58,716.92 L547.13,717.35 L547.68,717.79 L548.22,718.24 L548.76,718.69 L549.29,719.15 L549.82,719.61 L550.34,720.08 L550.85,720.56 L551.35,721.05 L551.85,721.55 L552.33,722.05 L552.80,722.57 L553.26,723.11 L553.70,723.65 L554.13,724.20 L554.55,724.76 L554.95,725.34 L555.35,725.91 L555.74,726.50 L556.12,727.09 L556.49,727.69 L556.85,728.29 L557.20,728.89 L557.54,729.50 L557.88,730.12 L558.20,730.74 L558.51,731.37 L558.82,732.00 L559.11,732.64 L559.40,733.28 L559.67,733.93 L559.94,734.58 L560.20,735.23 L560.45,735.88 L560.69,736.54 L560.92,737.20 L561.15,737.87 L561.36,738.54 L561.57,739.21 L561.77,739.88 L561.95,740.56 L562.13,741.24 L562.29,741.92 L562.45,742.60 L562.59,743.29 L562.73,743.98 L562.85,744.67 L562.97,745.36 L563.09,746.05 L563.20,746.74 L563.31,747.44 L563.41,748.13 L563.52,748.83 L563.62,749.52 L563.73,750.21 L563.84,750.91 L563.94,751.60 L564.05,752.29 L564.17,752.99 L564.28,753.68 L564.40,754.37 L564.52,755.06 L564.64,755.75 L564.76,756.45 L564.88,757.14 L565.00,757.83 L565.12,758.52 L565.24,759.21 L565.36,759.90 L565.48,760.59 L565.60,761.29 L565.71,761.98 L565.82,762.67 L565.93,763.36 L566.04,764.06 L566.14,764.75 L566.24,765.45 L566.34,766.14 L566.44,766.84 L566.53,767.53 L566.62,768.23 L566.70,768.93 L566.78,769.62 L566.86,770.32 L566.94,771.02 L567.01,771.72 L567.08,772.41 L567.14,773.11 L567.20,773.81 L567.26,774.51 L567.32,775.21 L567.37,775.91 L567.42,776.61 L567.46,777.31 L567.51,778.01 L567.55,778.71 L567.59,779.41 L567.62,780.11 L567.65,780.82 L567.68,781.52 L567.71,782.22 L567.74,782.92 L567.76,783.62 L567.79,784.32 L567.81,785.02 L567.83,785.73 L567.85,786.43 L567.86,787.13 L567.88,787.83 L567.90,788.53 L567.91,789.23 L567.92,789.94 L567.94,790.64 L567.95,791.34 L567.96,792.04 L567.97,792.74 L567.98,793.44 L567.99,794.15 L568.00,794.85 L568.01,795.55 L568.02,796.25 L568.02,796.95 L568.03,797.66 L568.04,798.36 L568.04,799.06 L568.05,799.76 L568.06,800.46 L568.06,801.16 L568.07,801.87 L568.08,802.57 L568.08,803.27 L568.09,803.97 L568.10,804.67 L568.10,805.38 L568.11,806.08 L568.11,806.78 L568.12,807.48 L568.13,808.18 L568.13,808.88 L568.14,809.59 L568.15,810.29 L568.16,810.99 L568.17,811.69 L568.17,812.39 L568.18,813.10 L568.19,813.80 L568.20,814.50 L568.21,815.20 L568.22,815.90 L568.24,816.60 L568.25,817.31 L568.26,818.01 L568.28,818.71 L568.29,819.41 L568.31,820.11 L568.32,820.81 L568.34,821.52 L568.36,822.22 L568.38,822.92 L568.40,823.62 L568.42,824.32 L568.44,825.02 L568.46,825.73 L568.48,826.43 L568.51,827.13 L568.53,827.83 L568.56,828.53 L568.58,829.23 L568.61,829.93 L568.63,830.64 L568.66,831.34 L568.69,832.04 L568.71,832.74 L568.74,833.44 L568.77,834.14 L568.80,834.84 L568.83,835.54 L568.86,836.25 L568.89,836.95 L568.92,837.65 L568.95,838.35 L568.98,839.05 L569.01,839.75 L569.04,840.45 L569.07,841.15 L569.10,841.86 L569.13,842.56 L569.16,843.26 L569.19,843.96 L569.23,844.66 L569.26,845.36 L569.29,846.06 L569.32,846.76 L569.35,847.46 L569.39,848.17 L569.42,848.87 L569.45,849.57 L569.48,850.27 L569.51,850.97 L569.55,851.67 L569.58,852.37 L569.61,853.07 L569.64,853.78 L569.67,854.48 L569.70,855.18 L569.73,855.88 L569.77,856.58 L569.80,857.28 L569.83,857.98 L569.86,858.68 L569.89,859.38 L569.92,860.09 L569.95,860.79 L569.98,861.49 L570.00,862.19 L570.03,862.89 L570.06,863.59 L570.09,864.29 L570.12,864.99 L570.14,865.70 L570.17,866.40 L570.19,867.10 L570.22,867.80 L570.24,868.50 L570.27,869.20 L570.29,869.90 L570.31,870.61 L570.34,871.31 L570.36,872.01 L570.38,872.71 L570.40,873.41 L570.42,874.11 L570.44,874.82 L570.46,875.52 L570.48,876.22 L570.50,876.92 L570.52,877.62 L570.54,878.32 L570.55,879.02 L570.57,879.73 L570.59,880.43 L570.61,881.13 L570.62,881.83 L570.64,882.53 L570.66,883.23 L570.67,883.94 L570.69,884.64 L570.71,885.34 L570.72,886.04 L570.74,886.74 L570.75,887.44 L570.77,888.15 L570.78,888.85 L570.80,889.55 L570.81,890.25 L570.83,890.95 L570.84,891.66 L570.86,892.36 L570.87,893.06 L570.89,893.76 L570.90,894.46 L570.91,895.16 L570.93,895.87 L570.94,896.57 L570.95,897.27 L570.97,897.97 L570.98,898.67 L571.00,899.37 L571.01,900.08 L571.02,900.78 L571.03,901.48 L571.05,902.18 L571.06,902.88 L571.07,903.58 L571.09,904.29 L571.10,904.99 L571.11,905.69 L571.13,906.39 L571.14,907.09 L571.16,907.79 L571.17,908.50 L571.19,909.20 L571.20,909.90" fill="none" stroke="#ff621a" stroke-width="4.20" stroke-linejoin="round" stroke-linecap="butt"/>
<polyline points="160.1,593.3 198.2,621.4 220.5,646.0 236.3,666.4 248.6,676.9" fill="none" stroke="#30d210" stroke-width="4.20" stroke-linejoin="round" stroke-linecap="square"/>
<path d="M248.60,676.90 L249.22,677.23 L249.84,677.55 L250.46,677.88 L251.08,678.21 L251.70,678.54 L252.32,678.87 L252.94,679.20 L253.57,679.52 L254.19,679.84 L254.82,680.15 L255.45,680.46 L256.09,680.76 L256.73,681.05 L257.37,681.33 L258.01,681.60 L258.66,681.87 L259.32,682.12 L259.98,682.35 L260.64,682.58 L261.31,682.79 L261.99,682.99 L262.66,683.18 L263.34,683.36 L264.02,683.54 L264.70,683.70 L265.38,683.86 L266.07,684.02 L266.76,684.16 L267.44,684.31 L268.13,684.45 L268.82,684.59 L269.51,684.72 L270.20,684.85 L270.89,684.97 L271.58,685.10 L272.27,685.22 L272.96,685.34 L273.66,685.45 L274.35,685.57 L275.04,685.68 L275.73,685.79 L276.43,685.90 L277.12,686.00 L277.82,686.10 L278.51,686.19 L279.21,686.27 L279.91,686.34 L280.61,686.38 L281.31,686.41 L282.01,686.43 L282.71,686.44 L283.41,686.46 L284.11,686.49 L284.81,686.52 L285.51,686.57 L286.21,686.62 L286.91,686.69 L287.61,686.75 L288.31,686.82 L289.00,686.90 L289.70,686.97 L290.40,687.05 L291.10,687.13 L291.80,687.21 L292.49,687.29 L293.19,687.37 L293.89,687.45 L294.58,687.53 L295.28,687.62 L295.98,687.70 L296.68,687.78 L297.37,687.87 L298.07,687.95 L298.77,688.03 L299.46,688.12 L300.16,688.20 L300.86,688.29 L301.56,688.37 L302.25,688.45 L302.95,688.54 L303.65,688.62 L304.34,688.71 L305.04,688.79 L305.74,688.88 L306.43,688.97 L307.13,689.05 L307.83,689.14 L308.52,689.22 L309.22,689.31 L309.92,689.39 L310.61,689.48 L311.31,689.57 L312.01,689.65 L312.70,689.74 L313.40,689.83 L314.10,689.91 L314.79,690.00 L315.49,690.09 L316.19,690.17 L316.88,690.26 L317.58,690.35 L318.28,690.43 L318.97,690.52 L319.67,690.61 L320.37,690.70 L321.06,690.78 L321.76,690.87 L322.46,690.96 L323.15,691.05 L323.85,691.14 L324.55,691.22 L325.24,691.31 L325.94,691.40 L326.64,691.49 L327.33,691.58 L328.03,691.67 L328.73,691.75 L329.42,691.84 L330.12,691.93 L330.81,692.02 L331.51,692.11 L332.21,692.20 L332.90,692.29 L333.60,692.38 L334.30,692.47 L334.99,692.56 L335.69,692.65 L336.39,692.74 L337.08,692.83 L337.78,692.92 L338.47,693.01 L339.17,693.10 L339.87,693.19 L340.56,693.28 L341.26,693.37 L341.95,693.47 L342.65,693.56 L343.35,693.65 L344.04,693.74 L344.74,693.83 L345.43,693.93 L346.13,694.02 L346.83,694.11 L347.52,694.20 L348.22,694.30 L348.91,694.39 L349.61,694.48 L350.31,694.58 L351.00,694.67 L351.70,694.77 L352.39,694.86 L353.09,694.95 L353.78,695.05 L354.48,695.14 L355.18,695.24 L355.87,695.33 L356.57,695.43 L357.26,695.52 L357.96,695.62 L358.65,695.71 L359.35,695.81 L360.04,695.90 L360.74,696.00 L361.44,696.09 L362.13,696.19 L362.83,696.28 L363.52,696.38 L364.22,696.48 L364.91,696.57 L365.61,696.67 L366.30,696.76 L367.00,696.86 L367.69,696.96 L368.39,697.05 L369.09,697.15 L369.78,697.25 L370.48,697.34 L371.17,697.44 L371.87,697.54 L372.56,697.63 L373.26,697.73 L373.95,697.83 L374.65,697.93 L375.34,698.02 L376.04,698.12 L376.73,698.22 L377.43,698.31 L378.12,698.41 L378.82,698.51 L379.51,698.61 L380.21,698.71 L380.91,698.80 L381.60,698.90 L382.30,699.00 L382.99,699.10 L383.69,699.19 L384.38,699.29 L385.08,699.39 L385.77,699.49 L386.47,699.59 L387.16,699.69 L387.86,699.78 L388.55,699.88 L389.25,699.98 L389.94,700.08 L390.64,700.18 L391.33,700.28 L392.03,700.37 L392.72,700.47 L393.42,700.57 L394.11,700.67 L394.81,700.77 L395.50,700.87 L396.20,700.96 L396.89,701.06 L397.59,701.16 L398.28,701.26 L398.98,701.36 L399.67,701.46 L400.37,701.55 L401.06,701.65 L401.76,701.75 L402.45,701.85 L403.15,701.95 L403.84,702.05 L404.54,702.15 L405.23,702.25 L405.93,702.35 L406.62,702.45 L407.32,702.55 L408.01,702.65 L408.71,702.75 L409.40,702.85 L410.10,702.95 L410.79,703.05 L411.49,703.15 L412.18,703.26 L412.88,703.36 L413.57,703.47 L414.26,703.57 L414.96,703.68 L415.65,703.78 L416.35,703.89 L417.04,704.00 L417.73,704.11 L418.43,704.22 L419.12,704.33 L419.81,704.44 L420.51,704.55 L421.20,704.67 L421.89,704.78 L422.58,704.90 L423.28,705.02 L423.97,705.14 L424.66,705.26 L425.35,705.38 L426.04,705.51 L426.73,705.64 L427.42,705.77 L428.11,705.90 L428.80,706.03 L429.49,706.17 L430.18,706.31 L430.86,706.45 L431.55,706.59 L432.24,706.74 L432.92,706.88 L433.61,707.03 L434.30,707.18 L434.98,707.34 L435.67,707.49 L436.35,707.65 L437.03,707.81 L437.72,707.96 L438.40,708.12 L439.09,708.28 L439.77,708.44 L440.45,708.60 L441.14,708.75 L441.82,708.91 L442.51,709.07 L443.19,709.23 L443.88,709.38 L444.56,709.54 L445.24,709.70 L445.93,709.85 L446.61,710.01 L447.30,710.17 L447.98,710.33 L448.66,710.49 L449.35,710.65 L450.03,710.81 L450.71,710.98 L451.40,711.14 L452.08,711.31 L452.76,711.48 L453.44,711.65 L454.12,711.82 L454.80,711.99 L455.48,712.17 L456.16,712.34 L456.84,712.52 L457.52,712.71 L458.19,712.89 L458.87,713.08 L459.54,713.28 L460.22,713.48 L460.89,713.68 L461.56,713.89 L462.23,714.10 L462.90,714.31 L463.56,714.53 L464.23,714.76 L464.89,714.99 L465.55,715.23 L466.21,715.47 L466.87,715.71 L467.53,715.96 L468.18,716.21 L468.84,716.47 L469.49,716.72 L470.14,716.98 L470.79,717.24 L471.45,717.50 L472.10,717.76 L472.75,718.02 L473.41,718.27 L474.06,718.53 L474.71,718.79 L475.37,719.04 L476.02,719.30 L476.68,719.55 L477.33,719.80 L477.98,720.06 L478.64,720.32 L479.29,720.57 L479.94,720.83 L480.59,721.10 L481.24,721.36 L481.89,721.63 L482.54,721.90 L483.19,722.17 L483.83,722.45 L484.48,722.73 L485.12,723.02 L485.76,723.31 L486.39,723.61 L487.02,723.91 L487.65,724.22 L488.28,724.54 L488.90,724.86 L489.52,725.20 L490.13,725.54 L490.74,725.88 L491.35,726.23 L491.95,726.59 L492.55,726.96 L493.15,727.33 L493.74,727.70 L494.33,728.08 L494.92,728.47 L495.50,728.86 L496.08,729.26 L496.65,729.67 L497.22,730.08 L497.78,730.50 L498.34,730.92 L498.89,731.35 L499.44,731.79 L499.98,732.24 L500.52,732.70 L501.04,733.16 L501.56,733.63 L502.08,734.11 L502.58,734.60 L503.07,735.09 L503.56,735.60 L504.03,736.12 L504.50,736.64 L504.96,737.17 L505.40,737.72 L505.84,738.27 L506.26,738.82 L506.68,739.39 L507.08,739.96 L507.47,740.55 L507.85,741.14 L508.22,741.73 L508.57,742.34 L508.91,742.95 L509.24,743.57 L509.55,744.20 L509.84,744.84 L510.10,745.49 L510.35,746.14 L510.56,746.81 L510.75,747.48 L510.92,748.16 L511.07,748.84 L511.20,749.53 L511.32,750.22 L511.44,750.92 L511.56,751.61 L511.68,752.30 L511.79,752.99 L511.92,753.68 L512.04,754.37 L512.17,755.06 L512.31,755.75 L512.44,756.44 L512.58,757.13 L512.72,757.82 L512.86,758.51 L513.00,759.19 L513.14,759.88 L513.28,760.57 L513.42,761.26 L513.55,761.95 L513.68,762.64 L513.81,763.33 L513.94,764.02 L514.06,764.71 L514.18,765.40 L514.29,766.09 L514.40,766.79 L514.51,767.48 L514.62,768.18 L514.72,768.87 L514.81,769.57 L514.91,770.26 L515.00,770.96 L515.08,771.65 L515.17,772.35 L515.25,773.05 L515.32,773.75 L515.39,774.44 L515.46,775.14 L515.53,775.84 L515.59,776.54 L515.65,777.24 L515.71,777.94 L515.76,778.64 L515.82,779.34 L515.87,780.04 L515.91,780.74 L515.96,781.44 L516.00,782.14 L516.05,782.84 L516.09,783.54 L516.13,784.24 L516.16,784.95 L516.20,785.65 L516.24,786.35 L516.27,787.05 L516.30,787.75 L516.34,788.45 L516.37,789.15 L516.40,789.85 L516.43,790.56 L516.46,791.26 L516.49,791.96 L516.52,792.66 L516.55,793.36 L516.57,794.06 L516.60,794.76 L516.63,795.47 L516.65,796.17 L516.68,796.87 L516.70,797.57 L516.73,798.27 L516.75,798.97 L516.78,799.68 L516.80,800.38 L516.83,801.08 L516.85,801.78 L516.87,802.48 L516.90,803.18 L516.92,803.89 L516.94,804.59 L516.96,805.29 L516.99,805.99 L517.01,806.69 L517.03,807.39 L517.05,808.10 L517.08,808.80 L517.10,809.50 L517.12,810.20 L517.15,810.90 L517.17,811.60 L517.19,812.31 L517.21,813.01 L517.24,813.71 L517.26,814.41 L517.28,815.11 L517.31,815.81 L517.33,816.52 L517.35,817.22 L517.38,817.92 L517.40,818.62 L517.43,819.32 L517.45,820.02 L517.48,820.73 L517.51,821.43 L517.53,822.13 L517.56,822.83 L517.59,823.53 L517.61,824.23 L517.64,824.94 L517.67,825.64 L517.70,826.34 L517.73,827.04 L517.75,827.74 L517.78,828.44 L517.81,829.14 L517.84,829.85 L517.87,830.55 L517.89,831.25 L517.92,831.95 L517.95,832.65 L517.98,833.35 L518.01,834.05 L518.03,834.76 L518.06,835.46 L518.09,836.16 L518.12,836.86 L518.14,837.56 L518.17,838.26 L518.20,838.97 L518.23,839.67 L518.26,840.37 L518.28,841.07 L518.31,841.77 L518.34,842.47 L518.37,843.17 L518.39,843.88 L518.42,844.58 L518.45,845.28 L518.48,845.98 L518.50,846.68 L518.53,847.38 L518.56,848.08 L518.59,848.79 L518.61,849.49 L518.64,850.19 L518.67,850.89 L518.70,851.59 L518.72,852.29 L518.75,853.00 L518.78,853.70 L518.81,854.40 L518.83,855.10 L518.86,855.80 L518.89,856.50 L518.91,857.20 L518.94,857.91 L518.97,858.61 L518.99,859.31 L519.02,860.01 L519.05,860.71 L519.08,861.41 L519.10,862.12 L519.13,862.82 L519.15,863.52 L519.18,864.22 L519.21,864.92 L519.23,865.62 L519.26,866.32 L519.29,867.03 L519.31,867.73 L519.34,868.43 L519.36,869.13 L519.39,869.83 L519.42,870.53 L519.44,871.24 L519.47,871.94 L519.49,872.64 L519.52,873.34 L519.54,874.04 L519.56,874.74 L519.59,875.45 L519.61,876.15 L519.64,876.85 L519.66,877.55 L519.68,878.25 L519.71,878.95 L519.73,879.66 L519.75,880.36 L519.78,881.06 L519.80,881.76 L519.82,882.46 L519.84,883.16 L519.87,883.87 L519.89,884.57 L519.91,885.27 L519.93,885.97 L519.96,886.67 L519.98,887.37 L520.00,888.08 L520.02,888.78 L520.04,889.48 L520.06,890.18 L520.08,890.88 L520.11,891.58 L520.13,892.29 L520.15,892.99 L520.17,893.69 L520.19,894.39 L520.21,895.09 L520.23,895.79 L520.26,896.50 L520.28,897.20 L520.30,897.90" fill="none" stroke="#30d210" stroke-width="4.20" stroke-linejoin="round" stroke-linecap="butt"/>
<polyline points="520.3,897.9 522.2,899.7 523.1,927.5" fill="none" stroke="#30d210" stroke-width="4.20" stroke-linejoin="round" stroke-linecap="butt"/>
<rect x="136.70" y="577.10" width="515.60" height="365.90" fill="none" stroke="#000" stroke-width="3.20"/>
<line x1="136.70" y1="647.60" x2="149.50" y2="647.60" stroke="#000" stroke-width="3.00" stroke-linecap="butt"/>
<line x1="652.30" y1="647.60" x2="639.50" y2="647.60" stroke="#000" stroke-width="3.00" stroke-linecap="butt"/>
<line x1="136.70" y1="755.90" x2="149.50" y2="755.90" stroke="#000" stroke-width="3.00" stroke-linecap="butt"/>
<line x1="652.30" y1="755.90" x2="639.50" y2="755.90" stroke="#000" stroke-width="3.00" stroke-linecap="butt"/>
<line x1="136.70" y1="864.20" x2="149.50" y2="864.20" stroke="#000" stroke-width="3.00" stroke-linecap="butt"/>
<line x1="652.30" y1="864.20" x2="639.50" y2="864.20" stroke="#000" stroke-width="3.00" stroke-linecap="butt"/>
<line x1="286.70" y1="577.10" x2="286.70" y2="589.90" stroke="#000" stroke-width="3.00" stroke-linecap="butt"/>
<line x1="286.70" y1="943.00" x2="286.70" y2="930.20" stroke="#000" stroke-width="3.00" stroke-linecap="butt"/>
<line x1="539.90" y1="577.10" x2="539.90" y2="589.90" stroke="#000" stroke-width="3.00" stroke-linecap="butt"/>
<line x1="539.90" y1="943.00" x2="539.90" y2="930.20" stroke="#000" stroke-width="3.00" stroke-linecap="butt"/>
<text x="111.35" y="648.00" font-size="27.50" font-family="Liberation Serif" fill="#000" textLength="13.24" lengthAdjust="spacingAndGlyphs">1</text>
<rect x="92.40" y="639.50" width="17.20" height="1.75" fill="#000"/>
<text x="53.00" y="660.90" font-size="37.50" font-family="Liberation Serif" fill="#000">10</text>
<text x="109.37" y="756.30" font-size="27.50" font-family="Liberation Serif" fill="#000" textLength="14.82" lengthAdjust="spacingAndGlyphs">3</text>
<rect x="89.50" y="747.80" width="17.20" height="1.75" fill="#000"/>
<text x="50.10" y="769.20" font-size="37.50" font-family="Liberation Serif" fill="#000">10</text>
<text x="108.86" y="864.60" font-size="27.50" font-family="Liberation Serif" fill="#000" textLength="15.38" lengthAdjust="spacingAndGlyphs">5</text>
<rect x="89.50" y="856.10" width="17.20" height="1.75" fill="#000"/>
<text x="50.10" y="877.50" font-size="37.50" font-family="Liberation Serif" fill="#000">10</text>
<text x="260.51" y="981.20" font-size="37.50" font-family="Liberation Serif" fill="#000">10</text>
<text x="298.06" y="968.50" font-size="27.50" font-family="Liberation Serif" fill="#000" textLength="13.24" lengthAdjust="spacingAndGlyphs">1</text>
<text x="513.01" y="981.20" font-size="37.50" font-family="Liberation Serif" fill="#000">10</text>
<text x="549.97" y="968.50" font-size="27.50" font-family="Liberation Serif" fill="#000" textLength="14.82" lengthAdjust="spacingAndGlyphs">3</text>
<text x="387.11" y="1028.14" font-size="36.46" font-family="Liberation Serif" font-style="italic" fill="#000" textLength="15.23" lengthAdjust="spacingAndGlyphs">s</text>
<g transform="translate(27.20,800.30) rotate(-90)"><text x="0.22" y="0.00" font-size="38.47" font-family="Liberation Serif" font-style="italic" fill="#000" textLength="26.82" lengthAdjust="spacingAndGlyphs">P</text><text x="22.19" y="5.85" font-size="25.42" font-family="Liberation Serif" font-style="italic" fill="#000" textLength="13.48" lengthAdjust="spacingAndGlyphs">c</text><text x="38.42" y="0.29" font-size="39.56" font-family="Liberation Serif" fill="#000" textLength="13.19" lengthAdjust="spacingAndGlyphs">(</text><text x="52.73" y="0.35" font-size="35.42" font-family="Liberation Serif" font-style="italic" fill="#000" textLength="14.34" lengthAdjust="spacingAndGlyphs">s</text><text x="68.37" y="0.29" font-size="39.56" font-family="Liberation Serif" fill="#000" textLength="11.40" lengthAdjust="spacingAndGlyphs">)</text></g>
<line x1="166.30" y1="789.00" x2="208.70" y2="789.00" stroke="#2082e8" stroke-width="4.60" stroke-linecap="butt"/>
<g transform="translate(235.60,786.00) scale(1.0000,0.9917)" fill="none" stroke="#000" stroke-linecap="round"><path d="M1.0,5.6 C1.8,3.0 3.2,0.9 4.9,0.9 C6.5,0.9 6.9,2.4 6.6,4.0" stroke-width="1.5"/><path d="M6.6,4.0 L3.1,15.4" stroke-width="2.3"/><path d="M5.6,8.0 C7.4,3.6 10.0,0.8 13.0,0.8 C15.6,0.8 16.9,2.5 16.5,5.2" stroke-width="1.5"/><path d="M16.5,5.2 L11.4,22.9" stroke-width="2.4"/></g>
<rect x="266.00" y="788.82" width="24.10" height="1.75" fill="#000"/>
<rect x="266.00" y="795.92" width="24.10" height="1.75" fill="#000"/>
<text x="291.61" y="802.30" font-size="37.50" font-family="Liberation Serif" fill="#000" textLength="46.41" lengthAdjust="spacingAndGlyphs">0.1</text>
<line x1="166.30" y1="839.65" x2="208.70" y2="839.65" stroke="#ff621a" stroke-width="4.60" stroke-linecap="butt"/>
<g transform="translate(235.60,836.65) scale(1.0000,0.9917)" fill="none" stroke="#000" stroke-linecap="round"><path d="M1.0,5.6 C1.8,3.0 3.2,0.9 4.9,0.9 C6.5,0.9 6.9,2.4 6.6,4.0" stroke-width="1.5"/><path d="M6.6,4.0 L3.1,15.4" stroke-width="2.3"/><path d="M5.6,8.0 C7.4,3.6 10.0,0.8 13.0,0.8 C15.6,0.8 16.9,2.5 16.5,5.2" stroke-width="1.5"/><path d="M16.5,5.2 L11.4,22.9" stroke-width="2.4"/></g>
<rect x="266.00" y="839.47" width="24.10" height="1.75" fill="#000"/>
<rect x="266.00" y="846.57" width="24.10" height="1.75" fill="#000"/>
<text x="291.62" y="852.95" font-size="37.50" font-family="Liberation Serif" fill="#000" textLength="46.21" lengthAdjust="spacingAndGlyphs">0.2</text>
<line x1="166.30" y1="890.30" x2="208.70" y2="890.30" stroke="#30d210" stroke-width="4.60" stroke-linecap="butt"/>
<g transform="translate(235.60,887.30) scale(1.0000,0.9917)" fill="none" stroke="#000" stroke-linecap="round"><path d="M1.0,5.6 C1.8,3.0 3.2,0.9 4.9,0.9 C6.5,0.9 6.9,2.4 6.6,4.0" stroke-width="1.5"/><path d="M6.6,4.0 L3.1,15.4" stroke-width="2.3"/><path d="M5.6,8.0 C7.4,3.6 10.0,0.8 13.0,0.8 C15.6,0.8 16.9,2.5 16.5,5.2" stroke-width="1.5"/><path d="M16.5,5.2 L11.4,22.9" stroke-width="2.4"/></g>
<rect x="266.00" y="890.12" width="24.10" height="1.75" fill="#000"/>
<rect x="266.00" y="897.22" width="24.10" height="1.75" fill="#000"/>
<text x="291.64" y="903.60" font-size="37.50" font-family="Liberation Serif" fill="#000" textLength="45.62" lengthAdjust="spacingAndGlyphs">0.3</text>
<text x="13.01" y="547.38" font-size="52.00" font-family="Liberation Serif" font-weight="bold" fill="#000" textLength="27.78" lengthAdjust="spacingAndGlyphs">c</text>
<text x="40.16" y="548.13" font-size="58.00" font-family="Liberation Serif" fill="#000" textLength="19.34" lengthAdjust="spacingAndGlyphs">)</text>
<polyline points="881.4,593.4 955.0,629.4 998.1,640.0 1028.6,645.6 1052.3,649.1" fill="none" stroke="#2082e8" stroke-width="4.20" stroke-linejoin="round" stroke-linecap="square"/>
<path d="M1052.30,649.10 L1053.00,649.21 L1053.69,649.31 L1054.39,649.41 L1055.08,649.52 L1055.78,649.63 L1056.47,649.74 L1057.17,649.85 L1057.86,649.96 L1058.55,650.08 L1059.25,650.19 L1059.94,650.32 L1060.63,650.44 L1061.32,650.57 L1062.02,650.69 L1062.71,650.83 L1063.40,650.96 L1064.09,651.09 L1064.78,651.23 L1065.47,651.37 L1066.16,651.51 L1066.85,651.64 L1067.54,651.78 L1068.22,651.93 L1068.91,652.07 L1069.60,652.21 L1070.29,652.35 L1070.98,652.49 L1071.67,652.63 L1072.36,652.78 L1073.05,652.92 L1073.74,653.06 L1074.42,653.20 L1075.11,653.35 L1075.80,653.49 L1076.49,653.63 L1077.18,653.77 L1077.87,653.92 L1078.56,654.06 L1079.24,654.20 L1079.93,654.34 L1080.62,654.49 L1081.31,654.63 L1082.00,654.77 L1082.69,654.91 L1083.38,655.05 L1084.07,655.19 L1084.76,655.33 L1085.45,655.47 L1086.14,655.60 L1086.83,655.74 L1087.52,655.87 L1088.21,656.01 L1088.90,656.14 L1089.59,656.27 L1090.28,656.40 L1090.97,656.53 L1091.66,656.66 L1092.35,656.79 L1093.04,656.92 L1093.74,657.05 L1094.43,657.18 L1095.12,657.31 L1095.81,657.44 L1096.50,657.57 L1097.19,657.70 L1097.88,657.84 L1098.57,657.97 L1099.26,658.10 L1099.95,658.24 L1100.64,658.38 L1101.33,658.52 L1102.02,658.66 L1102.71,658.80 L1103.40,658.94 L1104.09,659.09 L1104.77,659.24 L1105.46,659.39 L1106.15,659.55 L1106.83,659.70 L1107.52,659.86 L1108.20,660.03 L1108.88,660.19 L1109.57,660.36 L1110.25,660.53 L1110.93,660.70 L1111.62,660.87 L1112.30,661.04 L1112.98,661.22 L1113.66,661.40 L1114.34,661.57 L1115.02,661.76 L1115.70,661.94 L1116.38,662.12 L1117.05,662.31 L1117.73,662.49 L1118.41,662.68 L1119.09,662.87 L1119.77,663.06 L1120.44,663.25 L1121.12,663.44 L1121.80,663.63 L1122.47,663.83 L1123.15,664.02 L1123.82,664.22 L1124.50,664.41 L1125.17,664.61 L1125.85,664.81 L1126.52,665.01 L1127.20,665.21 L1127.87,665.41 L1128.55,665.61 L1129.22,665.81 L1129.89,666.01 L1130.57,666.21 L1131.24,666.42 L1131.91,666.62 L1132.59,666.82 L1133.26,667.03 L1133.93,667.24 L1134.60,667.45 L1135.27,667.65 L1135.95,667.86 L1136.62,668.07 L1137.29,668.29 L1137.96,668.50 L1138.63,668.71 L1139.30,668.92 L1139.97,669.14 L1140.64,669.35 L1141.31,669.57 L1141.98,669.79 L1142.64,670.01 L1143.31,670.22 L1143.98,670.44 L1144.65,670.66 L1145.32,670.88 L1145.98,671.11 L1146.65,671.33 L1147.32,671.55 L1147.99,671.77 L1148.65,672.00 L1149.32,672.22 L1149.99,672.45 L1150.65,672.67 L1151.32,672.90 L1151.98,673.12 L1152.65,673.35 L1153.31,673.58 L1153.98,673.81 L1154.64,674.04 L1155.31,674.27 L1155.97,674.50 L1156.64,674.74 L1157.30,674.97 L1157.96,675.20 L1158.62,675.44 L1159.29,675.68 L1159.95,675.91 L1160.61,676.15 L1161.27,676.39 L1161.93,676.63 L1162.60,676.87 L1163.26,677.11 L1163.92,677.35 L1164.58,677.59 L1165.24,677.83 L1165.90,678.07 L1166.56,678.31 L1167.22,678.55 L1167.88,678.80 L1168.54,679.04 L1169.20,679.28 L1169.86,679.52 L1170.52,679.76 L1171.18,680.00 L1171.85,680.24 L1172.51,680.49 L1173.17,680.73 L1173.83,680.97 L1174.49,681.21 L1175.15,681.44 L1175.81,681.68 L1176.47,681.92 L1177.14,682.16 L1177.80,682.40 L1178.46,682.64 L1179.12,682.88 L1179.78,683.11 L1180.44,683.35 L1181.11,683.59 L1181.77,683.83 L1182.43,684.07 L1183.09,684.31 L1183.75,684.54 L1184.41,684.78 L1185.08,685.02 L1185.74,685.26 L1186.40,685.50 L1187.06,685.74 L1187.72,685.98 L1188.38,686.22 L1189.04,686.45 L1189.71,686.69 L1190.37,686.93 L1191.03,687.18 L1191.69,687.42 L1192.35,687.66 L1193.01,687.90 L1193.67,688.14 L1194.33,688.39 L1194.99,688.63 L1195.65,688.88 L1196.31,689.12 L1196.97,689.36 L1197.63,689.61 L1198.29,689.85 L1198.95,690.09 L1199.61,690.33 L1200.27,690.58 L1200.93,690.82 L1201.59,691.06 L1202.25,691.30 L1202.91,691.53 L1203.58,691.77 L1204.24,692.01 L1204.90,692.24 L1205.57,692.47 L1206.23,692.70 L1206.90,692.93 L1207.56,693.15 L1208.23,693.37 L1208.90,693.59 L1209.57,693.81 L1210.24,694.03 L1210.91,694.24 L1211.58,694.45 L1212.25,694.66 L1212.92,694.87 L1213.59,695.08 L1214.26,695.29 L1214.93,695.50 L1215.61,695.71 L1216.28,695.92 L1216.95,696.13 L1217.62,696.35 L1218.29,696.56 L1218.95,696.78 L1219.62,697.00 L1220.29,697.23 L1220.95,697.46 L1221.62,697.68 L1222.28,697.92 L1222.94,698.15 L1223.61,698.39 L1224.27,698.63 L1224.93,698.87 L1225.59,699.12 L1226.25,699.36 L1226.90,699.61 L1227.56,699.86 L1228.22,700.11 L1228.88,700.36 L1229.53,700.61 L1230.19,700.86 L1230.85,701.12 L1231.50,701.37 L1232.16,701.63 L1232.81,701.88 L1233.47,702.14 L1234.12,702.39 L1234.78,702.65 L1235.43,702.90 L1236.09,703.16 L1236.74,703.42 L1237.40,703.67 L1238.05,703.93 L1238.71,704.19 L1239.36,704.44 L1240.02,704.70 L1240.67,704.96 L1241.33,705.22 L1241.98,705.47 L1242.64,705.73 L1243.29,705.99 L1243.94,706.24 L1244.60,706.50" fill="none" stroke="#2082e8" stroke-width="4.20" stroke-linejoin="round" stroke-linecap="butt"/>
<polyline points="1244.6,706.5 1256.1,708.9 1269.4,714.7 1282.6,721.3 1290.9,728.0 1299.1,731.3 1304.1,735.4 1310.7,738.7 1315.7,747.8 1319.8,751.1 1327.3,774.3 1331.4,776.7 1335.5,797.4 1340.5,798.2 1342.1,820.6 1345.1,820.6 1346.3,836.3 1351.2,836.3" fill="none" stroke="#2082e8" stroke-width="4.20" stroke-linejoin="round" stroke-linecap="butt"/>
<polyline points="881.4,593.4 955.0,640.6 998.1,662.5 1028.6,669.6 1052.3,674.2" fill="none" stroke="#ff621a" stroke-width="4.20" stroke-linejoin="round" stroke-linecap="square"/>
<path d="M1052.30,674.20 L1052.99,674.32 L1053.68,674.44 L1054.37,674.56 L1055.07,674.68 L1055.76,674.81 L1056.45,674.93 L1057.14,675.06 L1057.83,675.19 L1058.52,675.33 L1059.21,675.47 L1059.89,675.61 L1060.58,675.76 L1061.27,675.91 L1061.95,676.06 L1062.64,676.22 L1063.32,676.37 L1064.00,676.53 L1064.69,676.70 L1065.37,676.86 L1066.05,677.03 L1066.73,677.19 L1067.42,677.36 L1068.10,677.53 L1068.78,677.70 L1069.46,677.86 L1070.14,678.03 L1070.82,678.20 L1071.50,678.37 L1072.18,678.54 L1072.87,678.72 L1073.55,678.89 L1074.23,679.06 L1074.91,679.23 L1075.59,679.40 L1076.27,679.57 L1076.95,679.74 L1077.63,679.92 L1078.31,680.09 L1078.99,680.26 L1079.67,680.43 L1080.35,680.60 L1081.04,680.78 L1081.72,680.95 L1082.40,681.12 L1083.08,681.29 L1083.76,681.46 L1084.44,681.63 L1085.12,681.80 L1085.80,681.97 L1086.48,682.14 L1087.17,682.31 L1087.85,682.48 L1088.53,682.65 L1089.21,682.82 L1089.89,682.98 L1090.57,683.15 L1091.26,683.32 L1091.94,683.49 L1092.62,683.65 L1093.30,683.82 L1093.98,683.99 L1094.67,684.16 L1095.35,684.32 L1096.03,684.49 L1096.71,684.66 L1097.39,684.83 L1098.07,685.00 L1098.76,685.17 L1099.44,685.34 L1100.12,685.51 L1100.80,685.68 L1101.48,685.86 L1102.16,686.03 L1102.84,686.21 L1103.52,686.38 L1104.20,686.56 L1104.88,686.74 L1105.55,686.92 L1106.23,687.11 L1106.91,687.29 L1107.59,687.47 L1108.26,687.66 L1108.94,687.85 L1109.61,688.04 L1110.29,688.24 L1110.96,688.43 L1111.64,688.63 L1112.31,688.83 L1112.98,689.03 L1113.66,689.23 L1114.33,689.43 L1115.00,689.64 L1115.67,689.84 L1116.34,690.05 L1117.01,690.25 L1117.69,690.46 L1118.36,690.67 L1119.03,690.87 L1119.70,691.08 L1120.37,691.29 L1121.04,691.49 L1121.71,691.70 L1122.38,691.91 L1123.06,692.11 L1123.73,692.31 L1124.40,692.52 L1125.07,692.72 L1125.75,692.92 L1126.42,693.12 L1127.09,693.31 L1127.77,693.51 L1128.44,693.70 L1129.12,693.89 L1129.79,694.08 L1130.47,694.27 L1131.15,694.46 L1131.82,694.64 L1132.50,694.82 L1133.18,695.01 L1133.86,695.19 L1134.54,695.37 L1135.22,695.55 L1135.89,695.73 L1136.57,695.91 L1137.25,696.08 L1137.93,696.26 L1138.61,696.44 L1139.29,696.61 L1139.97,696.79 L1140.65,696.96 L1141.33,697.13 L1142.01,697.30 L1142.70,697.47 L1143.38,697.64 L1144.06,697.81 L1144.74,697.98 L1145.42,698.15 L1146.10,698.31 L1146.79,698.48 L1147.47,698.64 L1148.15,698.81 L1148.84,698.97 L1149.52,699.13 L1150.20,699.29 L1150.89,699.45 L1151.57,699.61 L1152.25,699.77 L1152.94,699.93 L1153.62,700.08 L1154.31,700.24 L1154.99,700.39 L1155.68,700.55 L1156.36,700.70 L1157.05,700.85 L1157.73,701.00 L1158.42,701.15 L1159.11,701.29 L1159.79,701.44 L1160.48,701.58 L1161.17,701.73 L1161.86,701.87 L1162.54,702.02 L1163.23,702.16 L1163.92,702.30 L1164.61,702.44 L1165.29,702.58 L1165.98,702.72 L1166.67,702.86 L1167.36,703.00 L1168.05,703.14 L1168.73,703.28 L1169.42,703.42 L1170.11,703.56 L1170.80,703.70 L1171.49,703.83 L1172.18,703.97 L1172.86,704.11 L1173.55,704.25 L1174.24,704.39 L1174.93,704.53 L1175.62,704.66 L1176.31,704.80 L1176.99,704.94 L1177.68,705.08 L1178.37,705.22 L1179.06,705.36 L1179.75,705.50 L1180.44,705.63 L1181.13,705.77 L1181.81,705.91 L1182.50,706.04 L1183.19,706.17 L1183.88,706.30 L1184.57,706.43 L1185.26,706.56 L1185.95,706.68 L1186.65,706.81 L1187.34,706.93 L1188.03,707.05 L1188.72,707.17 L1189.41,707.29 L1190.10,707.41 L1190.80,707.52 L1191.49,707.63 L1192.18,707.74 L1192.88,707.84 L1193.57,707.94 L1194.27,708.04 L1194.96,708.14 L1195.66,708.23 L1196.36,708.33 L1197.05,708.42 L1197.75,708.52 L1198.44,708.61 L1199.14,708.70 L1199.84,708.80 L1200.53,708.89 L1201.23,708.99 L1201.92,709.08 L1202.62,709.18 L1203.31,709.28 L1204.01,709.38 L1204.70,709.49 L1205.40,709.59 L1206.09,709.70 L1206.78,709.81 L1207.47,709.93 L1208.17,710.05 L1208.86,710.17 L1209.55,710.30 L1210.24,710.43 L1210.93,710.56 L1211.62,710.70 L1212.30,710.84 L1212.99,710.99 L1213.67,711.15 L1214.36,711.31 L1215.04,711.48 L1215.72,711.65 L1216.40,711.82 L1217.08,712.00 L1217.76,712.18 L1218.43,712.37 L1219.11,712.56 L1219.79,712.75 L1220.46,712.94 L1221.13,713.14 L1221.81,713.34 L1222.48,713.54 L1223.15,713.75 L1223.82,713.96 L1224.49,714.17 L1225.16,714.38 L1225.83,714.60 L1226.49,714.81 L1227.16,715.03 L1227.83,715.26 L1228.49,715.48 L1229.16,715.71 L1229.82,715.94 L1230.48,716.17 L1231.14,716.41 L1231.81,716.64 L1232.47,716.88 L1233.12,717.13 L1233.78,717.37 L1234.44,717.62 L1235.09,717.87 L1235.75,718.13 L1236.40,718.38 L1237.05,718.65 L1237.70,718.91 L1238.35,719.18 L1239.00,719.46 L1239.64,719.74 L1240.28,720.02 L1240.92,720.31 L1241.56,720.61 L1242.19,720.91 L1242.82,721.23 L1243.44,721.55 L1244.06,721.88 L1244.68,722.21 L1245.29,722.56 L1245.89,722.92 L1246.49,723.28 L1247.08,723.66 L1247.67,724.05 L1248.25,724.44 L1248.82,724.85 L1249.38,725.26 L1249.94,725.69 L1250.50,726.12 L1251.05,726.56 L1251.59,727.00 L1252.13,727.45 L1252.66,727.91 L1253.19,728.37 L1253.72,728.83 L1254.24,729.30 L1254.75,729.78 L1255.26,730.27 L1255.76,730.76 L1256.25,731.26 L1256.74,731.76 L1257.22,732.27 L1257.69,732.79 L1258.16,733.32 L1258.61,733.85 L1259.06,734.39 L1259.50,734.94 L1259.94,735.49 L1260.36,736.05 L1260.78,736.61 L1261.20,737.18 L1261.60,737.75 L1262.00,738.33 L1262.39,738.91 L1262.77,739.50 L1263.15,740.09 L1263.52,740.69 L1263.89,741.29 L1264.24,741.89 L1264.59,742.50 L1264.94,743.11 L1265.27,743.73 L1265.61,744.35 L1265.93,744.97 L1266.26,745.59 L1266.57,746.22 L1266.89,746.85 L1267.19,747.48 L1267.50,748.11 L1267.80,748.74 L1268.09,749.38 L1268.39,750.02 L1268.67,750.66 L1268.96,751.30 L1269.24,751.94 L1269.52,752.59 L1269.80,753.23 L1270.07,753.88 L1270.34,754.53 L1270.61,755.18 L1270.88,755.83 L1271.14,756.48 L1271.40,757.13 L1271.66,757.78 L1271.91,758.44 L1272.16,759.10 L1272.40,759.75 L1272.64,760.41 L1272.88,761.07 L1273.12,761.73 L1273.35,762.40 L1273.58,763.06 L1273.80,763.73 L1274.03,764.39 L1274.25,765.06 L1274.47,765.72 L1274.69,766.39 L1274.90,767.06 L1275.12,767.73 L1275.33,768.40 L1275.54,769.07 L1275.75,769.74 L1275.95,770.41 L1276.16,771.08 L1276.36,771.75 L1276.57,772.42 L1276.77,773.10 L1276.97,773.77 L1277.17,774.44 L1277.37,775.12 L1277.56,775.79 L1277.76,776.46 L1277.95,777.14 L1278.15,777.81 L1278.34,778.49 L1278.52,779.17 L1278.71,779.84 L1278.89,780.52 L1279.08,781.20 L1279.26,781.88 L1279.44,782.56 L1279.61,783.24 L1279.79,783.92 L1279.96,784.60 L1280.13,785.28 L1280.30,785.96 L1280.47,786.64 L1280.63,787.32 L1280.80,788.01 L1280.96,788.69 L1281.12,789.37 L1281.29,790.06 L1281.45,790.74 L1281.60,791.42 L1281.76,792.11 L1281.92,792.79 L1282.07,793.48 L1282.23,794.16 L1282.38,794.85 L1282.54,795.53 L1282.69,796.22 L1282.85,796.90 L1283.00,797.59 L1283.15,798.27 L1283.31,798.96 L1283.46,799.64 L1283.61,800.33 L1283.76,801.01 L1283.91,801.70 L1284.07,802.38 L1284.22,803.07 L1284.37,803.76 L1284.51,804.44 L1284.66,805.13 L1284.81,805.82 L1284.96,806.50 L1285.10,807.19 L1285.25,807.88 L1285.39,808.56 L1285.53,809.25 L1285.67,809.94 L1285.81,810.63 L1285.95,811.32 L1286.09,812.00 L1286.22,812.69 L1286.35,813.38 L1286.49,814.07 L1286.61,814.76 L1286.74,815.45 L1286.86,816.14 L1286.99,816.84 L1287.10,817.53 L1287.22,818.22 L1287.33,818.91 L1287.44,819.61 L1287.54,820.30 L1287.64,821.00 L1287.74,821.69 L1287.82,822.39 L1287.91,823.09 L1287.99,823.78 L1288.06,824.48 L1288.13,825.18 L1288.19,825.88 L1288.25,826.58 L1288.30,827.28 L1288.35,827.98 L1288.40,828.68 L1288.44,829.38 L1288.48,830.08 L1288.52,830.78 L1288.56,831.48 L1288.59,832.19 L1288.62,832.89 L1288.65,833.59 L1288.69,834.29 L1288.72,834.99 L1288.75,835.69 L1288.79,836.39 L1288.82,837.09 L1288.86,837.80 L1288.91,838.50 L1288.95,839.20 L1289.00,839.90 L1289.05,840.60 L1289.10,841.30 L1289.15,842.00 L1289.20,842.70 L1289.26,843.40 L1289.31,844.10 L1289.36,844.80 L1289.42,845.50 L1289.47,846.20 L1289.52,846.90 L1289.58,847.60 L1289.63,848.30 L1289.69,849.00 L1289.74,849.70 L1289.79,850.40 L1289.85,851.10 L1289.90,851.80 L1289.96,852.50 L1290.01,853.20 L1290.07,853.90 L1290.12,854.60 L1290.17,855.30 L1290.23,856.00 L1290.28,856.70 L1290.34,857.40 L1290.39,858.10 L1290.45,858.80 L1290.50,859.50" fill="none" stroke="#ff621a" stroke-width="4.20" stroke-linejoin="round" stroke-linecap="butt"/>
<polyline points="1290.5,859.5 1294.9,871.1 1297.3,894.5" fill="none" stroke="#ff621a" stroke-width="4.20" stroke-linejoin="round" stroke-linecap="butt"/>
<polyline points="881.4,593.4 955.0,630.1 998.1,661.8 1028.6,678.7 1052.3,687.5" fill="none" stroke="#30d210" stroke-width="4.20" stroke-linejoin="round" stroke-linecap="square"/>
<path d="M1052.30,687.50 L1052.98,687.68 L1053.66,687.86 L1054.33,688.05 L1055.01,688.23 L1055.69,688.41 L1056.37,688.59 L1057.05,688.78 L1057.72,688.96 L1058.40,689.15 L1059.08,689.33 L1059.76,689.51 L1060.43,689.69 L1061.11,689.88 L1061.79,690.06 L1062.47,690.24 L1063.15,690.42 L1063.83,690.60 L1064.51,690.78 L1065.18,690.96 L1065.86,691.13 L1066.54,691.31 L1067.22,691.48 L1067.90,691.66 L1068.58,691.83 L1069.27,692.00 L1069.95,692.17 L1070.63,692.34 L1071.31,692.50 L1071.99,692.67 L1072.68,692.83 L1073.36,692.99 L1074.04,693.15 L1074.73,693.30 L1075.41,693.46 L1076.10,693.61 L1076.79,693.75 L1077.47,693.90 L1078.16,694.05 L1078.85,694.19 L1079.53,694.33 L1080.22,694.47 L1080.91,694.61 L1081.60,694.75 L1082.29,694.88 L1082.98,695.02 L1083.67,695.15 L1084.36,695.29 L1085.04,695.42 L1085.73,695.55 L1086.42,695.68 L1087.11,695.81 L1087.80,695.95 L1088.49,696.08 L1089.18,696.21 L1089.87,696.34 L1090.56,696.47 L1091.25,696.60 L1091.94,696.73 L1092.63,696.87 L1093.32,697.00 L1094.01,697.13 L1094.70,697.27 L1095.39,697.40 L1096.08,697.54 L1096.77,697.67 L1097.45,697.81 L1098.14,697.95 L1098.83,698.09 L1099.52,698.22 L1100.21,698.36 L1100.90,698.50 L1101.58,698.64 L1102.27,698.77 L1102.96,698.91 L1103.65,699.05 L1104.34,699.19 L1105.03,699.32 L1105.72,699.46 L1106.40,699.60 L1107.09,699.74 L1107.78,699.88 L1108.47,700.01 L1109.16,700.15 L1109.85,700.29 L1110.53,700.43 L1111.22,700.57 L1111.91,700.70 L1112.60,700.84 L1113.29,700.98 L1113.98,701.12 L1114.67,701.25 L1115.35,701.39 L1116.04,701.53 L1116.73,701.67 L1117.42,701.80 L1118.11,701.94 L1118.80,702.08 L1119.48,702.22 L1120.17,702.36 L1120.86,702.50 L1121.55,702.64 L1122.24,702.78 L1122.92,702.92 L1123.61,703.06 L1124.30,703.20 L1124.99,703.34 L1125.67,703.48 L1126.36,703.63 L1127.05,703.77 L1127.74,703.91 L1128.43,704.05 L1129.11,704.19 L1129.80,704.34 L1130.49,704.48 L1131.18,704.62 L1131.86,704.76 L1132.55,704.90 L1133.24,705.03 L1133.93,705.17 L1134.62,705.31 L1135.31,705.44 L1136.00,705.58 L1136.69,705.71 L1137.38,705.84 L1138.07,705.97 L1138.76,706.10 L1139.45,706.23 L1140.14,706.35 L1140.83,706.47 L1141.52,706.60 L1142.21,706.71 L1142.90,706.83 L1143.60,706.94 L1144.29,707.05 L1144.98,707.16 L1145.68,707.27 L1146.37,707.37 L1147.07,707.47 L1147.76,707.57 L1148.46,707.67 L1149.15,707.77 L1149.85,707.86 L1150.54,707.96 L1151.24,708.06 L1151.93,708.15 L1152.63,708.24 L1153.33,708.34 L1154.02,708.44 L1154.72,708.53 L1155.41,708.63 L1156.11,708.73 L1156.80,708.83 L1157.50,708.93 L1158.19,709.04 L1158.88,709.14 L1159.58,709.25 L1160.27,709.36 L1160.96,709.48 L1161.66,709.59 L1162.35,709.71 L1163.04,709.83 L1163.73,709.96 L1164.42,710.08 L1165.11,710.20 L1165.80,710.33 L1166.49,710.46 L1167.19,710.58 L1167.88,710.71 L1168.57,710.83 L1169.26,710.96 L1169.95,711.09 L1170.64,711.21 L1171.33,711.34 L1172.02,711.47 L1172.71,711.60 L1173.40,711.73 L1174.09,711.86 L1174.78,711.99 L1175.47,712.12 L1176.16,712.26 L1176.85,712.40 L1177.53,712.54 L1178.22,712.68 L1178.91,712.82 L1179.60,712.97 L1180.28,713.12 L1180.97,713.27 L1181.65,713.42 L1182.34,713.58 L1183.02,713.74 L1183.70,713.91 L1184.38,714.07 L1185.06,714.24 L1185.74,714.42 L1186.42,714.60 L1187.10,714.78 L1187.78,714.97 L1188.45,715.16 L1189.13,715.35 L1189.80,715.55 L1190.47,715.76 L1191.14,715.97 L1191.81,716.18 L1192.48,716.39 L1193.15,716.61 L1193.82,716.83 L1194.48,717.05 L1195.15,717.28 L1195.81,717.50 L1196.47,717.73 L1197.14,717.97 L1197.80,718.20 L1198.46,718.44 L1199.12,718.68 L1199.78,718.93 L1200.43,719.17 L1201.09,719.42 L1201.74,719.67 L1202.40,719.93 L1203.05,720.18 L1203.70,720.44 L1204.36,720.70 L1205.01,720.97 L1205.65,721.24 L1206.30,721.51 L1206.95,721.78 L1207.59,722.06 L1208.24,722.34 L1208.88,722.63 L1209.52,722.92 L1210.16,723.21 L1210.79,723.51 L1211.43,723.81 L1212.06,724.11 L1212.69,724.42 L1213.31,724.74 L1213.94,725.06 L1214.56,725.39 L1215.17,725.73 L1215.79,726.07 L1216.40,726.42 L1217.00,726.77 L1217.60,727.13 L1218.20,727.50 L1218.79,727.88 L1219.37,728.27 L1219.95,728.67 L1220.52,729.08 L1221.09,729.50 L1221.64,729.93 L1222.19,730.37 L1222.73,730.82 L1223.25,731.28 L1223.77,731.75 L1224.28,732.23 L1224.79,732.72 L1225.28,733.22 L1225.77,733.72 L1226.24,734.24 L1226.72,734.76 L1227.18,735.28 L1227.64,735.81 L1228.09,736.35 L1228.54,736.89 L1228.98,737.44 L1229.41,737.99 L1229.83,738.55 L1230.24,739.12 L1230.65,739.69 L1231.05,740.27 L1231.44,740.85 L1231.82,741.44 L1232.20,742.03 L1232.57,742.63 L1232.94,743.23 L1233.30,743.83 L1233.65,744.44 L1234.00,745.05 L1234.34,745.66 L1234.68,746.27 L1235.01,746.89 L1235.34,747.51 L1235.67,748.13 L1235.99,748.76 L1236.31,749.38 L1236.63,750.01 L1236.94,750.64 L1237.25,751.27 L1237.56,751.90 L1237.86,752.53 L1238.16,753.17 L1238.45,753.80 L1238.75,754.44 L1239.03,755.08 L1239.31,755.73 L1239.59,756.37 L1239.86,757.02 L1240.13,757.67 L1240.40,758.32 L1240.66,758.97 L1240.92,759.62 L1241.18,760.27 L1241.43,760.93 L1241.68,761.58 L1241.93,762.24 L1242.18,762.90 L1242.42,763.56 L1242.66,764.21 L1242.90,764.87 L1243.14,765.53 L1243.38,766.20 L1243.61,766.86 L1243.85,767.52 L1244.08,768.18 L1244.31,768.84 L1244.54,769.51 L1244.78,770.17 L1245.01,770.83 L1245.23,771.50 L1245.46,772.16 L1245.69,772.82 L1245.92,773.49 L1246.15,774.15 L1246.38,774.82 L1246.60,775.48 L1246.83,776.15 L1247.06,776.81 L1247.28,777.47 L1247.51,778.14 L1247.73,778.81 L1247.95,779.47 L1248.18,780.14 L1248.40,780.80 L1248.61,781.47 L1248.83,782.14 L1249.05,782.81 L1249.26,783.48 L1249.47,784.14 L1249.68,784.81 L1249.89,785.48 L1250.10,786.16 L1250.30,786.83 L1250.51,787.50 L1250.71,788.17 L1250.90,788.85 L1251.10,789.52 L1251.29,790.20 L1251.48,790.87 L1251.67,791.55 L1251.86,792.22 L1252.04,792.90 L1252.22,793.58 L1252.40,794.26 L1252.57,794.94 L1252.75,795.62 L1252.92,796.30 L1253.08,796.98 L1253.25,797.67 L1253.41,798.35 L1253.57,799.03 L1253.72,799.72 L1253.87,800.40 L1254.03,801.09 L1254.18,801.78 L1254.32,802.46 L1254.47,803.15 L1254.61,803.84 L1254.75,804.52 L1254.89,805.21 L1255.03,805.90 L1255.17,806.59 L1255.31,807.28 L1255.44,807.97 L1255.58,808.65 L1255.71,809.34 L1255.84,810.03 L1255.98,810.72 L1256.11,811.41 L1256.24,812.10 L1256.37,812.79 L1256.49,813.48 L1256.62,814.17 L1256.75,814.86 L1256.88,815.55 L1257.00,816.24 L1257.13,816.94 L1257.26,817.63 L1257.38,818.32 L1257.51,819.01 L1257.63,819.70 L1257.76,820.39 L1257.88,821.08 L1258.01,821.77 L1258.13,822.46 L1258.25,823.15 L1258.37,823.85 L1258.49,824.54 L1258.60,825.23 L1258.72,825.92 L1258.83,826.62 L1258.94,827.31 L1259.05,828.00 L1259.16,828.70 L1259.27,829.39 L1259.38,830.08 L1259.49,830.78 L1259.59,831.47 L1259.70,832.17 L1259.80,832.86 L1259.91,833.55 L1260.01,834.25 L1260.12,834.94 L1260.22,835.64 L1260.33,836.33 L1260.44,837.02 L1260.54,837.72 L1260.65,838.41 L1260.76,839.11 L1260.87,839.80 L1260.99,840.49 L1261.10,841.18 L1261.22,841.88 L1261.35,842.57 L1261.47,843.26 L1261.60,843.95 L1261.73,844.64 L1261.85,845.33 L1261.98,846.02 L1262.11,846.71 L1262.24,847.40 L1262.36,848.09 L1262.48,848.78 L1262.59,849.48 L1262.70,850.17 L1262.80,850.86 L1262.90,851.56 L1263.00,852.25 L1263.09,852.95 L1263.18,853.65 L1263.26,854.34 L1263.34,855.04 L1263.42,855.74 L1263.49,856.44 L1263.56,857.14 L1263.63,857.83 L1263.69,858.53 L1263.76,859.23 L1263.82,859.93 L1263.88,860.63 L1263.94,861.33 L1264.00,862.03 L1264.06,862.73 L1264.12,863.43 L1264.17,864.13 L1264.23,864.83 L1264.28,865.53 L1264.34,866.23 L1264.39,866.93 L1264.44,867.63 L1264.50,868.33 L1264.55,869.03 L1264.60,869.73 L1264.65,870.43 L1264.71,871.13 L1264.76,871.83 L1264.81,872.53 L1264.86,873.23 L1264.92,873.93 L1264.97,874.63 L1265.02,875.33 L1265.08,876.03 L1265.13,876.73 L1265.18,877.43 L1265.24,878.13 L1265.29,878.83 L1265.35,879.53 L1265.40,880.23 L1265.45,880.93 L1265.50,881.63 L1265.55,882.33 L1265.60,883.03 L1265.64,883.73 L1265.69,884.43 L1265.73,885.13 L1265.78,885.84 L1265.82,886.54 L1265.86,887.24 L1265.91,887.94 L1265.95,888.64 L1265.99,889.34 L1266.04,890.04 L1266.08,890.74 L1266.13,891.44 L1266.18,892.14 L1266.22,892.84 L1266.27,893.54 L1266.33,894.24 L1266.38,894.94 L1266.43,895.64 L1266.49,896.34 L1266.55,897.04 L1266.61,897.74 L1266.68,898.44 L1266.75,899.14 L1266.82,899.84 L1266.89,900.54 L1266.97,901.23 L1267.05,901.93 L1267.14,902.63 L1267.23,903.32 L1267.32,904.02 L1267.42,904.71 L1267.52,905.41 L1267.62,906.10 L1267.73,906.80 L1267.84,907.49 L1267.95,908.18 L1268.07,908.88 L1268.19,909.57 L1268.31,910.26 L1268.43,910.95 L1268.55,911.64 L1268.67,912.33 L1268.80,913.02 L1268.93,913.72 L1269.05,914.41 L1269.18,915.10 L1269.31,915.79 L1269.45,916.48 L1269.58,917.16 L1269.71,917.85 L1269.85,918.54 L1269.98,919.23 L1270.12,919.92 L1270.25,920.61 L1270.39,921.30 L1270.52,921.99 L1270.66,922.68 L1270.80,923.36 L1270.93,924.05 L1271.07,924.74 L1271.20,925.43 L1271.34,926.12 L1271.47,926.81 L1271.60,927.50" fill="none" stroke="#30d210" stroke-width="4.20" stroke-linejoin="round" stroke-linecap="butt"/>
<rect x="857.80" y="577.10" width="515.80" height="365.90" fill="none" stroke="#000" stroke-width="3.20"/>
<line x1="857.80" y1="647.60" x2="870.60" y2="647.60" stroke="#000" stroke-width="3.00" stroke-linecap="butt"/>
<line x1="1373.60" y1="647.60" x2="1360.80" y2="647.60" stroke="#000" stroke-width="3.00" stroke-linecap="butt"/>
<line x1="857.80" y1="755.90" x2="870.60" y2="755.90" stroke="#000" stroke-width="3.00" stroke-linecap="butt"/>
<line x1="1373.60" y1="755.90" x2="1360.80" y2="755.90" stroke="#000" stroke-width="3.00" stroke-linecap="butt"/>
<line x1="857.80" y1="864.20" x2="870.60" y2="864.20" stroke="#000" stroke-width="3.00" stroke-linecap="butt"/>
<line x1="1373.60" y1="864.20" x2="1360.80" y2="864.20" stroke="#000" stroke-width="3.00" stroke-linecap="butt"/>
<line x1="881.35" y1="577.10" x2="881.35" y2="589.90" stroke="#000" stroke-width="3.00" stroke-linecap="butt"/>
<line x1="881.35" y1="943.00" x2="881.35" y2="930.20" stroke="#000" stroke-width="3.00" stroke-linecap="butt"/>
<line x1="1124.90" y1="577.10" x2="1124.90" y2="589.90" stroke="#000" stroke-width="3.00" stroke-linecap="butt"/>
<line x1="1124.90" y1="943.00" x2="1124.90" y2="930.20" stroke="#000" stroke-width="3.00" stroke-linecap="butt"/>
<line x1="1368.45" y1="577.10" x2="1368.45" y2="589.90" stroke="#000" stroke-width="3.00" stroke-linecap="butt"/>
<line x1="1368.45" y1="943.00" x2="1368.45" y2="930.20" stroke="#000" stroke-width="3.00" stroke-linecap="butt"/>
<line x1="870.21" y1="577.10" x2="870.21" y2="584.10" stroke="#000" stroke-width="3.00" stroke-linecap="butt"/>
<line x1="870.21" y1="943.00" x2="870.21" y2="936.00" stroke="#000" stroke-width="3.00" stroke-linecap="butt"/>
<line x1="954.67" y1="577.10" x2="954.67" y2="584.10" stroke="#000" stroke-width="3.00" stroke-linecap="butt"/>
<line x1="954.67" y1="943.00" x2="954.67" y2="936.00" stroke="#000" stroke-width="3.00" stroke-linecap="butt"/>
<line x1="997.55" y1="577.10" x2="997.55" y2="584.10" stroke="#000" stroke-width="3.00" stroke-linecap="butt"/>
<line x1="997.55" y1="943.00" x2="997.55" y2="936.00" stroke="#000" stroke-width="3.00" stroke-linecap="butt"/>
<line x1="1027.98" y1="577.10" x2="1027.98" y2="584.10" stroke="#000" stroke-width="3.00" stroke-linecap="butt"/>
<line x1="1027.98" y1="943.00" x2="1027.98" y2="936.00" stroke="#000" stroke-width="3.00" stroke-linecap="butt"/>
<line x1="1051.58" y1="577.10" x2="1051.58" y2="584.10" stroke="#000" stroke-width="3.00" stroke-linecap="butt"/>
<line x1="1051.58" y1="943.00" x2="1051.58" y2="936.00" stroke="#000" stroke-width="3.00" stroke-linecap="butt"/>
<line x1="1070.87" y1="577.10" x2="1070.87" y2="584.10" stroke="#000" stroke-width="3.00" stroke-linecap="butt"/>
<line x1="1070.87" y1="943.00" x2="1070.87" y2="936.00" stroke="#000" stroke-width="3.00" stroke-linecap="butt"/>
<line x1="1087.17" y1="577.10" x2="1087.17" y2="584.10" stroke="#000" stroke-width="3.00" stroke-linecap="butt"/>
<line x1="1087.17" y1="943.00" x2="1087.17" y2="936.00" stroke="#000" stroke-width="3.00" stroke-linecap="butt"/>
<line x1="1101.30" y1="577.10" x2="1101.30" y2="584.10" stroke="#000" stroke-width="3.00" stroke-linecap="butt"/>
<line x1="1101.30" y1="943.00" x2="1101.30" y2="936.00" stroke="#000" stroke-width="3.00" stroke-linecap="butt"/>
<line x1="1113.76" y1="577.10" x2="1113.76" y2="584.10" stroke="#000" stroke-width="3.00" stroke-linecap="butt"/>
<line x1="1113.76" y1="943.00" x2="1113.76" y2="936.00" stroke="#000" stroke-width="3.00" stroke-linecap="butt"/>
<line x1="1198.22" y1="577.10" x2="1198.22" y2="584.10" stroke="#000" stroke-width="3.00" stroke-linecap="butt"/>
<line x1="1198.22" y1="943.00" x2="1198.22" y2="936.00" stroke="#000" stroke-width="3.00" stroke-linecap="butt"/>
<line x1="1241.10" y1="577.10" x2="1241.10" y2="584.10" stroke="#000" stroke-width="3.00" stroke-linecap="butt"/>
<line x1="1241.10" y1="943.00" x2="1241.10" y2="936.00" stroke="#000" stroke-width="3.00" stroke-linecap="butt"/>
<line x1="1271.53" y1="577.10" x2="1271.53" y2="584.10" stroke="#000" stroke-width="3.00" stroke-linecap="butt"/>
<line x1="1271.53" y1="943.00" x2="1271.53" y2="936.00" stroke="#000" stroke-width="3.00" stroke-linecap="butt"/>
<line x1="1295.13" y1="577.10" x2="1295.13" y2="584.10" stroke="#000" stroke-width="3.00" stroke-linecap="butt"/>
<line x1="1295.13" y1="943.00" x2="1295.13" y2="936.00" stroke="#000" stroke-width="3.00" stroke-linecap="butt"/>
<line x1="1314.42" y1="577.10" x2="1314.42" y2="584.10" stroke="#000" stroke-width="3.00" stroke-linecap="butt"/>
<line x1="1314.42" y1="943.00" x2="1314.42" y2="936.00" stroke="#000" stroke-width="3.00" stroke-linecap="butt"/>
<line x1="1330.72" y1="577.10" x2="1330.72" y2="584.10" stroke="#000" stroke-width="3.00" stroke-linecap="butt"/>
<line x1="1330.72" y1="943.00" x2="1330.72" y2="936.00" stroke="#000" stroke-width="3.00" stroke-linecap="butt"/>
<line x1="1344.85" y1="577.10" x2="1344.85" y2="584.10" stroke="#000" stroke-width="3.00" stroke-linecap="butt"/>
<line x1="1344.85" y1="943.00" x2="1344.85" y2="936.00" stroke="#000" stroke-width="3.00" stroke-linecap="butt"/>
<line x1="1357.31" y1="577.10" x2="1357.31" y2="584.10" stroke="#000" stroke-width="3.00" stroke-linecap="butt"/>
<line x1="1357.31" y1="943.00" x2="1357.31" y2="936.00" stroke="#000" stroke-width="3.00" stroke-linecap="butt"/>
<text x="833.35" y="648.00" font-size="27.50" font-family="Liberation Serif" fill="#000" textLength="13.24" lengthAdjust="spacingAndGlyphs">1</text>
<rect x="814.40" y="639.50" width="17.20" height="1.75" fill="#000"/>
<text x="775.00" y="660.90" font-size="37.50" font-family="Liberation Serif" fill="#000">10</text>
<text x="831.37" y="756.30" font-size="27.50" font-family="Liberation Serif" fill="#000" textLength="14.82" lengthAdjust="spacingAndGlyphs">3</text>
<rect x="811.50" y="747.80" width="17.20" height="1.75" fill="#000"/>
<text x="772.10" y="769.20" font-size="37.50" font-family="Liberation Serif" fill="#000">10</text>
<text x="830.86" y="864.60" font-size="27.50" font-family="Liberation Serif" fill="#000" textLength="15.38" lengthAdjust="spacingAndGlyphs">5</text>
<rect x="811.50" y="856.10" width="17.20" height="1.75" fill="#000"/>
<text x="772.10" y="877.50" font-size="37.50" font-family="Liberation Serif" fill="#000">10</text>
<text x="854.46" y="981.20" font-size="37.50" font-family="Liberation Serif" fill="#000">10</text>
<text x="891.58" y="968.50" font-size="27.50" font-family="Liberation Serif" fill="#000" textLength="14.64" lengthAdjust="spacingAndGlyphs">0</text>
<text x="1098.71" y="981.20" font-size="37.50" font-family="Liberation Serif" fill="#000">10</text>
<text x="1136.26" y="968.50" font-size="27.50" font-family="Liberation Serif" fill="#000" textLength="13.24" lengthAdjust="spacingAndGlyphs">1</text>
<text x="1341.56" y="981.20" font-size="37.50" font-family="Liberation Serif" fill="#000">10</text>
<text x="1378.47" y="968.50" font-size="27.50" font-family="Liberation Serif" fill="#000" textLength="15.38" lengthAdjust="spacingAndGlyphs">2</text>
<text x="1107.85" y="1028.67" font-size="42.61" font-family="Liberation Serif" font-style="italic" fill="#000" textLength="12.64" lengthAdjust="spacingAndGlyphs">t</text>
<g transform="translate(749.00,798.30) rotate(-90)"><text x="0.23" y="0.00" font-size="38.47" font-family="Liberation Serif" font-style="italic" fill="#000" textLength="27.54" lengthAdjust="spacingAndGlyphs">P</text><text x="22.30" y="5.85" font-size="25.42" font-family="Liberation Serif" font-style="italic" fill="#000" textLength="13.37" lengthAdjust="spacingAndGlyphs">c</text><text x="38.52" y="0.66" font-size="41.10" font-family="Liberation Serif" fill="#000" textLength="12.41" lengthAdjust="spacingAndGlyphs">(</text><text x="50.70" y="0.30" font-size="40.17" font-family="Liberation Serif" font-style="italic" fill="#000" textLength="11.11" lengthAdjust="spacingAndGlyphs">t</text><text x="64.37" y="0.66" font-size="41.10" font-family="Liberation Serif" fill="#000" textLength="11.40" lengthAdjust="spacingAndGlyphs">)</text></g>
<line x1="888.00" y1="789.00" x2="930.30" y2="789.00" stroke="#2082e8" stroke-width="4.60" stroke-linecap="butt"/>
<g transform="translate(957.30,786.00) scale(1.0000,0.9917)" fill="none" stroke="#000" stroke-linecap="round"><path d="M1.0,5.6 C1.8,3.0 3.2,0.9 4.9,0.9 C6.5,0.9 6.9,2.4 6.6,4.0" stroke-width="1.5"/><path d="M6.6,4.0 L3.1,15.4" stroke-width="2.3"/><path d="M5.6,8.0 C7.4,3.6 10.0,0.8 13.0,0.8 C15.6,0.8 16.9,2.5 16.5,5.2" stroke-width="1.5"/><path d="M16.5,5.2 L11.4,22.9" stroke-width="2.4"/></g>
<rect x="987.70" y="788.82" width="24.10" height="1.75" fill="#000"/>
<rect x="987.70" y="795.92" width="24.10" height="1.75" fill="#000"/>
<text x="1013.31" y="802.30" font-size="37.50" font-family="Liberation Serif" fill="#000" textLength="46.41" lengthAdjust="spacingAndGlyphs">0.1</text>
<line x1="888.00" y1="839.65" x2="930.30" y2="839.65" stroke="#ff621a" stroke-width="4.60" stroke-linecap="butt"/>
<g transform="translate(957.30,836.65) scale(1.0000,0.9917)" fill="none" stroke="#000" stroke-linecap="round"><path d="M1.0,5.6 C1.8,3.0 3.2,0.9 4.9,0.9 C6.5,0.9 6.9,2.4 6.6,4.0" stroke-width="1.5"/><path d="M6.6,4.0 L3.1,15.4" stroke-width="2.3"/><path d="M5.6,8.0 C7.4,3.6 10.0,0.8 13.0,0.8 C15.6,0.8 16.9,2.5 16.5,5.2" stroke-width="1.5"/><path d="M16.5,5.2 L11.4,22.9" stroke-width="2.4"/></g>
<rect x="987.70" y="839.47" width="24.10" height="1.75" fill="#000"/>
<rect x="987.70" y="846.57" width="24.10" height="1.75" fill="#000"/>
<text x="1013.32" y="852.95" font-size="37.50" font-family="Liberation Serif" fill="#000" textLength="46.21" lengthAdjust="spacingAndGlyphs">0.2</text>
<line x1="888.00" y1="890.30" x2="930.30" y2="890.30" stroke="#30d210" stroke-width="4.60" stroke-linecap="butt"/>
<g transform="translate(957.30,887.30) scale(1.0000,0.9917)" fill="none" stroke="#000" stroke-linecap="round"><path d="M1.0,5.6 C1.8,3.0 3.2,0.9 4.9,0.9 C6.5,0.9 6.9,2.4 6.6,4.0" stroke-width="1.5"/><path d="M6.6,4.0 L3.1,15.4" stroke-width="2.3"/><path d="M5.6,8.0 C7.4,3.6 10.0,0.8 13.0,0.8 C15.6,0.8 16.9,2.5 16.5,5.2" stroke-width="1.5"/><path d="M16.5,5.2 L11.4,22.9" stroke-width="2.4"/></g>
<rect x="987.70" y="890.12" width="24.10" height="1.75" fill="#000"/>
<rect x="987.70" y="897.22" width="24.10" height="1.75" fill="#000"/>
<text x="1013.34" y="903.60" font-size="37.50" font-family="Liberation Serif" fill="#000" textLength="45.62" lengthAdjust="spacingAndGlyphs">0.3</text>
<text x="735.89" y="547.38" font-size="52.00" font-family="Liberation Serif" font-weight="bold" fill="#000" textLength="29.41" lengthAdjust="spacingAndGlyphs">d</text>
<text x="768.06" y="548.13" font-size="58.00" font-family="Liberation Serif" fill="#000" textLength="19.34" lengthAdjust="spacingAndGlyphs">)</text>
</svg></body></html>
